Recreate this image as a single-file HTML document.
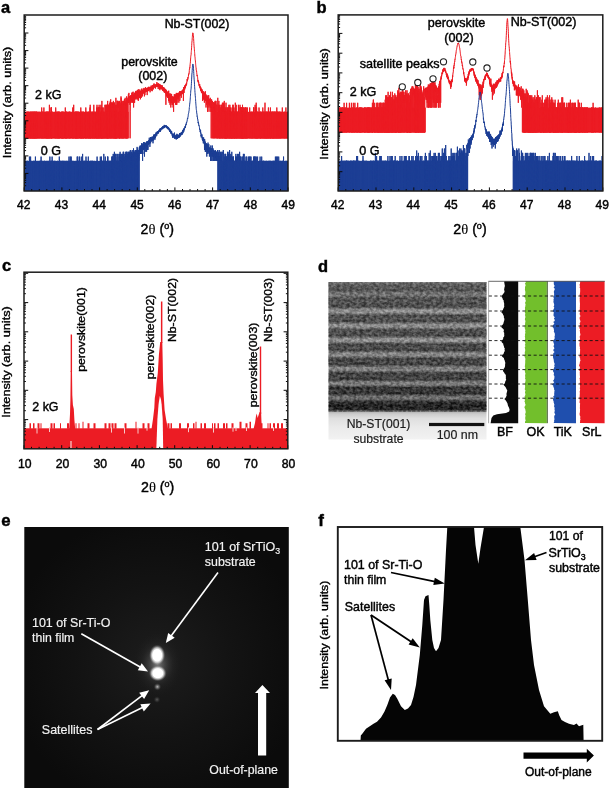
<!DOCTYPE html>
<html lang="en"><head><meta charset="utf-8"><title>Figure</title><style>html,body{margin:0;padding:0;background:#fff}svg{display:block}</style></head><body>
<svg width="611" height="791" viewBox="0 0 611 791" font-family='"Liberation Sans", Arial, sans-serif' font-size="12" fill="#000"><style>text{stroke:#000;stroke-width:0.42px}</style>
<rect width="611" height="791" fill="#fff"/>
<g id="pa">
<clipPath id="ca"><rect x="24.2" y="15" width="263.8" height="176"/></clipPath>
<g clip-path="url(#ca)">
<path d="M127.7 96.6L128 96.5L128.4 96.4L128.7 96.2L129 96.1L129.4 96L129.7 95.9L130 95.8L130.3 95.6L130.7 95.5L131 95.4L131.3 95.3L131.7 95.1L132 95L132.3 94.8L132.7 94.7L133 94.5L133.3 94.4L133.6 94.2L134 94.1L134.3 93.9L134.6 93.7L135 93.5L135.3 93.4L135.6 93.2L136 93L136.3 92.8L136.6 92.7L136.9 92.5L137.3 92.3L137.6 92.1L137.9 91.9L138.3 91.7L138.6 91.6L138.9 91.4L139.3 91.2L139.6 91L139.9 90.9L140.2 90.7L140.6 90.5L140.9 90.4L141.2 90.2L141.6 90L141.9 89.9L142.2 89.7L142.6 89.6L142.9 89.5L143.2 89.3L143.5 89.2L143.9 89.1L144.2 89L144.5 88.9L144.9 88.8L145.2 88.7L145.5 88.5L145.9 88.4L146.2 88.3L146.5 88.2L146.8 88.1L147.2 88L147.5 87.9L147.8 87.8L148.2 87.7L148.5 87.6L148.8 87.5L149.2 87.4L149.5 87.3L149.8 87.2L150.1 87.1L150.5 86.9L150.8 86.8L151.1 86.7L151.5 86.6L151.8 86.4L152.1 86.2L152.5 86.1L152.8 85.9L153.1 85.7L153.4 85.5L153.8 85.4L154.1 85.2L154.4 85L154.8 84.8L155.1 84.7L155.4 84.5L155.8 84.4L156.1 84.3L156.4 84.2L156.7 84.1L157.1 84L157.4 84L157.7 84L158.1 84L158.4 84.1L158.7 84.2L159.1 84.3L159.4 84.5L159.7 84.6L160 84.8L160.4 85L160.7 85.3L161 85.5L161.4 85.7L161.7 86L162 86.3L162.4 86.5L162.7 86.8L163 87L163.3 87.3L163.7 87.6L164 87.9L164.3 88.3L164.7 88.6L165 89L165.3 89.4L165.7 89.8L166 90.3L166.3 90.7L166.6 91.1L167 91.5L167.3 91.9L167.6 92.2L168 92.6L168.3 93L168.6 93.3L169 93.6L169.3 94L169.6 94.4L169.9 94.7L170.3 95.1L170.6 95.4L170.9 95.8L171.3 96L171.6 96.3L171.9 96.5L172.3 96.6L172.6 96.7L172.9 96.7L173.2 96.5L173.6 96.4L173.9 96.1L174.2 95.9L174.6 95.6L174.9 95.4L175.2 95L175.6 94.7L175.9 94.4L176.2 94.1L176.5 93.8L176.9 93.6L177.2 93.3L177.5 93.1L177.9 92.9L178.2 92.7L178.5 92.5L178.9 92.3L179.2 92.1L179.5 91.9L179.8 91.7L180.2 91.5L180.5 91.3L180.8 91.1L181.2 90.8L181.5 90.6L181.8 90.3L182.2 90L182.5 89.6L182.8 89.3L183.1 88.9L183.5 88.4L183.8 87.9L184.1 87.4L184.5 86.8L184.8 86.1L185.1 85.4L185.5 84.7L185.8 83.9L186.1 83.1L186.4 82.2L186.8 81.3L187.1 80.4L187.4 79.3L187.8 78.1L188.1 76.8L188.4 75.3L188.8 73.6L189.1 71.8L189.4 69.7L189.7 67.3L190.1 64.3L190.4 60.8L190.7 57.1L191.1 53.4L191.4 49.7L191.7 45L192.1 40L192.4 35.5L192.7 32.7L193 32.6L193.4 35.2L193.7 39.5L194 44.6L194.4 49.3L194.7 53L195 56.7L195.4 60.3L195.7 63.7L196 66.8L196.3 69.5L196.7 72L197 74.2L197.3 76.3L197.7 78.2L198 79.9L198.3 81.3L198.7 82.4L199 83.4L199.3 84.4L199.6 85.2L200 86L200.3 86.8L200.6 87.5L201 88.1L201.3 88.7L201.6 89.3L202 89.8L202.3 90.3L202.6 90.8L202.9 91.3L203.3 91.8L203.6 92.2L203.9 92.7L204.3 93.1L204.6 93.5L204.9 93.9L205.3 94.2L205.6 94.6L205.9 94.9L206.2 95.3L206.6 95.6L206.9 95.9L207.2 96.2L207.6 96.6L207.9 96.9L208.2 97.3L208.6 97.7L208.9 98L209.2 98.4L209.5 98.8L209.9 99.1L210.2 99.5L210.5 99.8L210.9 100.2L211.2 100.5L211.5 100.8L211.9 101L212.2 101.3L212.5 101.5L212.8 101.7L213.2 101.9L213.5 102L213.8 102.2L214.2 102.3L214.5 102.4L214.8 102.5L215.2 102.6L215.2 109.6L214.8 109.5L214.5 109.4L214.2 109.3L213.8 109.2L213.5 109L213.2 108.9L212.8 108.7L212.5 108.5L212.2 108.3L211.9 108L211.5 107.8L211.2 107.5L210.9 107.2L210.5 106.8L210.2 106.5L209.9 106.1L209.5 105.8L209.2 105.4L208.9 105L208.6 104.7L208.2 104.2L207.9 103.8L207.6 103.3L207.2 102.9L206.9 102.4L206.6 101.9L206.2 101.4L205.9 101L205.6 100.4L205.3 99.9L204.9 99.4L204.6 98.9L204.3 98.3L203.9 97.7L203.6 97.1L203.3 96.5L202.9 95.8L202.6 95.2L202.3 94.5L202 93.9L201.6 93.2L201.3 92.4L201 91.7L200.6 90.9L200.3 90L200 89.1L199.6 88.1L199.3 87.1L199 86L198.7 84.8L198.3 83.5L198 81.8L197.7 79.9L197.3 77.8L197 75.6L196.7 73.1L196.3 70.6L196 67.9L195.7 64.8L195.4 61.4L195 57.8L194.7 54.1L194.4 50.4L194 45.7L193.7 40.6L193.4 36.3L193 33.7L192.7 33.8L192.4 36.6L192.1 41.1L191.7 46.1L191.4 50.8L191.1 54.5L190.7 58.2L190.4 61.9L190.1 65.4L189.7 68.4L189.4 70.8L189.1 72.9L188.8 74.9L188.4 76.8L188.1 78.4L187.8 79.9L187.4 81.2L187.1 82.4L186.8 83.5L186.4 84.6L186.1 85.6L185.8 86.6L185.5 87.5L185.1 88.4L184.8 89.2L184.5 90L184.1 90.7L183.8 91.4L183.5 92.1L183.1 92.6L182.8 93.2L182.5 93.6L182.2 94.1L181.8 94.5L181.5 94.8L181.2 95.2L180.8 95.5L180.5 95.8L180.2 96.1L179.8 96.4L179.5 96.7L179.2 96.9L178.9 97.2L178.5 97.5L178.2 97.8L177.9 98L177.5 98.3L177.2 98.6L176.9 99L176.5 99.4L176.2 99.8L175.9 100.2L175.6 100.7L175.2 101.1L174.9 101.6L174.6 102L174.2 102.4L173.9 102.8L173.6 103.1L173.2 103.3L172.9 103.4L172.6 103.5L172.3 103.4L171.9 103.2L171.6 103L171.3 102.6L170.9 102.2L170.6 101.7L170.3 101.2L169.9 100.6L169.6 100.1L169.3 99.6L169 99L168.6 98.6L168.3 98.1L168 97.6L167.6 97.1L167.3 96.6L167 96.1L166.6 95.5L166.3 95L166 94.4L165.7 93.9L165.3 93.4L165 92.9L164.7 92.4L164.3 91.9L164 91.5L163.7 91L163.3 90.7L163 90.3L162.7 90L162.4 89.7L162 89.4L161.7 89.1L161.4 88.8L161 88.5L160.7 88.2L160.4 87.9L160 87.6L159.7 87.4L159.4 87.2L159.1 87L158.7 86.9L158.4 86.8L158.1 86.7L157.7 86.7L157.4 86.7L157.1 86.7L156.7 86.8L156.4 86.9L156.1 87L155.8 87.1L155.4 87.3L155.1 87.5L154.8 87.7L154.4 87.9L154.1 88.1L153.8 88.3L153.4 88.5L153.1 88.7L152.8 88.9L152.5 89.2L152.1 89.4L151.8 89.6L151.5 89.8L151.1 89.9L150.8 90.1L150.5 90.2L150.1 90.4L149.8 90.5L149.5 90.7L149.2 90.8L148.8 90.9L148.5 91.1L148.2 91.2L147.8 91.3L147.5 91.5L147.2 91.6L146.8 91.7L146.5 91.8L146.2 92L145.9 92.1L145.5 92.2L145.2 92.4L144.9 92.5L144.5 92.7L144.2 92.8L143.9 93L143.5 93.1L143.2 93.3L142.9 93.4L142.6 93.6L142.2 93.8L141.9 94L141.6 94.2L141.2 94.4L140.9 94.6L140.6 94.8L140.2 95L139.9 95.2L139.6 95.5L139.3 95.7L138.9 95.9L138.6 96.2L138.3 96.4L137.9 96.7L137.6 96.9L137.3 97.2L136.9 97.4L136.6 97.7L136.3 97.9L136 98.2L135.6 98.4L135.3 98.7L135 98.9L134.6 99.2L134.3 99.4L134 99.7L133.6 99.9L133.3 100.1L133 100.4L132.7 100.6L132.3 100.8L132 101L131.7 101.2L131.3 101.4L131 101.6L130.7 101.8L130.3 102L130 102.2L129.7 102.4L129.4 102.5L129 102.7L128.7 102.9L128.4 103.1L128 103.2L127.7 103.4z" fill="#ec1c24"/>
<rect x="19.2" y="111.8" width="109.5" height="26.5" fill="#ec1c24"/>
<rect x="213.8" y="111.8" width="79.2" height="26.5" fill="#ec1c24"/>
<path d="M24.2 138.3L24.3 138.3L24.4 138.3L24.5 138.3L24.6 138.3L24.7 111.8L24.9 138.3L25 138.3L25.1 138.3L25.2 138.3L25.3 138.3L25.4 138.3L25.5 138.3L25.6 138.3L25.7 138.3L25.8 138.3L26 138.3L26.1 138.3L26.2 138.3L26.3 138.3L26.4 138.3L26.5 111.8L26.6 138.3L26.7 138.3L26.8 138.3L26.9 138.3L27.1 138.3L27.2 138.3L27.3 138.3L27.4 138.3L27.5 138.3L27.6 111.8L27.7 138.3L27.8 111.8L27.9 111.8L28 111.8L28.2 138.3L28.3 138.3L28.4 111.8L28.5 138.3L28.6 138.3L28.7 138.3L28.8 138.3L28.9 138.3L29 111.8L29.1 111.8L29.3 138.3L29.4 138.3L29.5 138.3L29.6 138.3L29.7 138.3L29.8 138.3L29.9 138.3L30 138.3L30.1 111.8L30.2 138.3L30.4 138.3L30.5 111.8L30.6 138.3L30.7 138.3L30.8 138.3L30.9 138.3L31 138.3L31.1 111.8L31.2 138.3L31.3 111.8L31.5 138.3L31.6 138.3L31.7 138.3L31.8 138.3L31.9 138.3L32 111.8L32.1 138.3L32.2 138.3L32.3 111.8L32.4 138.3L32.6 138.3L32.7 138.3L32.8 111.8L32.9 138.3L33 138.3L33.1 111.8L33.2 138.3L33.3 138.3L33.4 138.3L33.5 138.3L33.7 111.8L33.8 138.3L33.9 138.3L34 111.8L34.1 138.3L34.2 138.3L34.3 111.8L34.4 138.3L34.5 111.8L34.6 138.3L34.8 138.3L34.9 138.3L35 138.3L35.1 138.3L35.2 138.3L35.3 111.8L35.4 138.3L35.5 138.3L35.6 111.8L35.7 138.3L35.9 138.3L36 111.8L36.1 138.3L36.2 138.3L36.3 138.3L36.4 111.8L36.5 138.3L36.6 138.3L36.7 111.8L36.8 111.8L37 138.3L37.1 138.3L37.2 111.8L37.3 138.3L37.4 138.3L37.5 138.3L37.6 138.3L37.7 138.3L37.8 138.3L37.9 138.3L38.1 138.3L38.2 138.3L38.3 138.3L38.4 111.8L38.5 138.3L38.6 138.3L38.7 138.3L38.8 138.3L38.9 138.3L39 138.3L39.2 138.3L39.3 138.3L39.4 138.3L39.5 138.3L39.6 111.8L39.7 138.3L39.8 138.3L39.9 138.3L40 138.3L40.1 138.3L40.3 138.3L40.4 138.3L40.5 138.3L40.6 138.3L40.7 138.3L40.8 138.3L40.9 138.3L41 111.8L41.1 111.8L41.2 138.3L41.4 138.3L41.5 138.3L41.6 138.3L41.7 107.5L41.8 138.3L41.9 138.3L42 138.3L42.1 138.3L42.2 138.3L42.3 111.8L42.5 111.8L42.6 138.3L42.7 111.8L42.8 138.3L42.9 138.3L43 138.3L43.1 138.3L43.2 138.3L43.3 138.3L43.4 138.3L43.6 111.8L43.7 138.3L43.8 138.3L43.9 107.5L44 138.3L44.1 138.3L44.2 138.3L44.3 138.3L44.4 138.3L44.5 138.3L44.7 138.3L44.8 138.3L44.9 138.3L45 138.3L45.1 138.3L45.2 138.3L45.3 111.8L45.4 138.3L45.5 138.3L45.6 138.3L45.8 138.3L45.9 138.3L46 138.3L46.1 138.3L46.2 111.8L46.3 138.3L46.4 138.3L46.5 111.8L46.6 138.3L46.7 138.3L46.9 138.3L47 111.8L47.1 138.3L47.2 111.8L47.3 138.3L47.4 138.3L47.5 111.8L47.6 138.3L47.7 138.3L47.8 138.3L48 111.8L48.1 138.3L48.2 138.3L48.3 138.3L48.4 138.3L48.5 111.8L48.6 138.3L48.7 138.3L48.8 111.8L48.9 138.3L49.1 138.3L49.2 138.3L49.3 138.3L49.4 104.8L49.5 138.3L49.6 138.3L49.7 138.3L49.8 111.8L49.9 138.3L50 138.3L50.2 138.3L50.3 138.3L50.4 138.3L50.5 138.3L50.6 138.3L50.7 138.3L50.8 138.3L50.9 138.3L51 107.5L51.1 138.3L51.3 107.5L51.4 138.3L51.5 107.5L51.6 138.3L51.7 111.8L51.8 138.3L51.9 138.3L52 138.3L52.1 111.8L52.2 111.8L52.4 111.8L52.5 138.3L52.6 138.3L52.7 138.3L52.8 138.3L52.9 138.3L53 138.3L53.1 138.3L53.2 138.3L53.3 138.3L53.5 138.3L53.6 138.3L53.7 138.3L53.8 138.3L53.9 138.3L54 138.3L54.1 138.3L54.2 138.3L54.3 138.3L54.4 138.3L54.6 138.3L54.7 138.3L54.8 138.3L54.9 138.3L55 138.3L55.1 138.3L55.2 111.8L55.3 138.3L55.4 138.3L55.5 138.3L55.7 107.5L55.8 111.8L55.9 138.3L56 138.3L56.1 111.8L56.2 138.3L56.3 138.3L56.4 138.3L56.5 138.3L56.6 138.3L56.8 111.8L56.9 138.3L57 138.3L57.1 138.3L57.2 138.3L57.3 138.3L57.4 138.3L57.5 138.3L57.6 111.8L57.7 138.3L57.9 111.8L58 138.3L58.1 138.3L58.2 111.8L58.3 111.8L58.4 111.8L58.5 138.3L58.6 111.8L58.7 138.3L58.8 138.3L59 138.3L59.1 138.3L59.2 138.3L59.3 138.3L59.4 111.8L59.5 138.3L59.6 138.3L59.7 111.8L59.8 138.3L59.9 138.3L60.1 138.3L60.2 138.3L60.3 138.3L60.4 138.3L60.5 138.3L60.6 138.3L60.7 138.3L60.8 138.3L60.9 138.3L61 138.3L61.2 138.3L61.3 138.3L61.4 138.3L61.5 111.8L61.6 138.3L61.7 138.3L61.8 138.3L61.9 111.8L62 138.3L62.1 111.8L62.3 138.3L62.4 138.3L62.5 138.3L62.6 138.3L62.7 111.8L62.8 138.3L62.9 111.8L63 138.3L63.1 111.8L63.2 138.3L63.4 138.3L63.5 138.3L63.6 138.3L63.7 138.3L63.8 111.8L63.9 138.3L64 138.3L64.1 138.3L64.2 138.3L64.3 138.3L64.5 138.3L64.6 138.3L64.7 138.3L64.8 138.3L64.9 138.3L65 138.3L65.1 138.3L65.2 138.3L65.3 107.5L65.4 138.3L65.6 111.8L65.7 138.3L65.8 138.3L65.9 111.8L66 138.3L66.1 138.3L66.2 138.3L66.3 111.8L66.4 138.3L66.5 111.8L66.7 138.3L66.8 138.3L66.9 138.3L67 138.3L67.1 138.3L67.2 111.8L67.3 138.3L67.4 138.3L67.5 138.3L67.6 138.3L67.8 138.3L67.9 138.3L68 138.3L68.1 138.3L68.2 138.3L68.3 138.3L68.4 138.3L68.5 138.3L68.6 138.3L68.7 111.8L68.9 138.3L69 138.3L69.1 138.3L69.2 138.3L69.3 111.8L69.4 138.3L69.5 138.3L69.6 138.3L69.7 111.8L69.8 111.8L70 138.3L70.1 111.8L70.2 138.3L70.3 138.3L70.4 138.3L70.5 138.3L70.6 138.3L70.7 138.3L70.8 138.3L70.9 138.3L71.1 138.3L71.2 138.3L71.3 138.3L71.4 138.3L71.5 138.3L71.6 138.3L71.7 138.3L71.8 138.3L71.9 138.3L72 138.3L72.2 138.3L72.3 111.8L72.4 138.3L72.5 138.3L72.6 138.3L72.7 138.3L72.8 107.5L72.9 138.3L73 138.3L73.1 138.3L73.3 111.8L73.4 107.5L73.5 138.3L73.6 138.3L73.7 104.8L73.8 138.3L73.9 138.3L74 138.3L74.1 138.3L74.2 138.3L74.4 138.3L74.5 138.3L74.6 138.3L74.7 138.3L74.8 111.8L74.9 138.3L75 138.3L75.1 138.3L75.2 138.3L75.3 138.3L75.5 138.3L75.6 111.8L75.7 138.3L75.8 111.8L75.9 138.3L76 111.8L76.1 138.3L76.2 111.8L76.3 138.3L76.4 138.3L76.6 138.3L76.7 111.8L76.8 111.8L76.9 138.3L77 138.3L77.1 138.3L77.2 111.8L77.3 138.3L77.4 111.8L77.5 138.3L77.7 138.3L77.8 138.3L77.9 111.8L78 111.8L78.1 138.3L78.2 138.3L78.3 138.3L78.4 138.3L78.5 138.3L78.6 111.8L78.8 138.3L78.9 111.8L79 138.3L79.1 138.3L79.2 138.3L79.3 138.3L79.4 138.3L79.5 138.3L79.6 138.3L79.7 138.3L79.9 138.3L80 138.3L80.1 138.3L80.2 138.3L80.3 138.3L80.4 138.3L80.5 138.3L80.6 111.8L80.7 138.3L80.8 107.5L81 138.3L81.1 138.3L81.2 111.8L81.3 138.3L81.4 111.8L81.5 138.3L81.6 138.3L81.7 138.3L81.8 138.3L81.9 138.3L82.1 138.3L82.2 138.3L82.3 111.8L82.4 138.3L82.5 138.3L82.6 138.3L82.7 111.8L82.8 138.3L82.9 138.3L83 138.3L83.2 138.3L83.3 138.3L83.4 111.8L83.5 138.3L83.6 111.8L83.7 138.3L83.8 138.3L83.9 138.3L84 138.3L84.1 138.3L84.3 138.3L84.4 138.3L84.5 138.3L84.6 138.3L84.7 138.3L84.8 138.3L84.9 138.3L85 138.3L85.1 138.3L85.2 138.3L85.4 138.3L85.5 111.8L85.6 138.3L85.7 138.3L85.8 107.5L85.9 111.8L86 138.3L86.1 111.8L86.2 138.3L86.3 111.8L86.5 138.3L86.6 138.3L86.7 138.3L86.8 138.3L86.9 138.3L87 138.3L87.1 138.3L87.2 138.3L87.3 138.3L87.4 138.3L87.6 138.3L87.7 138.3L87.8 138.3L87.9 138.3L88 111.8L88.1 138.3L88.2 111.8L88.3 138.3L88.4 138.3L88.5 138.3L88.7 138.3L88.8 111.8L88.9 138.3L89 138.3L89.1 138.3L89.2 138.3L89.3 138.3L89.4 111.8L89.5 111.8L89.6 138.3L89.8 111.8L89.9 111.8L90 107.5L90.1 138.3L90.2 104.8L90.3 138.3L90.4 138.3L90.5 111.8L90.6 138.3L90.7 111.8L90.9 138.3L91 138.3L91.1 138.3L91.2 138.3L91.3 138.3L91.4 111.8L91.5 111.8L91.6 138.3L91.7 138.3L91.8 138.3L92 138.3L92.1 138.3L92.2 138.3L92.3 138.3L92.4 138.3L92.5 138.3L92.6 111.8L92.7 138.3L92.8 111.8L92.9 138.3L93.1 138.3L93.2 138.3L93.3 111.8L93.4 111.8L93.5 138.3L93.6 138.3L93.7 138.3L93.8 104.8L93.9 111.8L94 138.3L94.2 138.3L94.3 138.3L94.4 138.3L94.5 111.8L94.6 138.3L94.7 138.3L94.8 138.3L94.9 138.3L95 111.8L95.1 138.3L95.3 138.3L95.4 138.3L95.5 138.3L95.6 138.3L95.7 138.3L95.8 138.3L95.9 138.3L96 138.3L96.1 111.8L96.2 138.3L96.4 111.8L96.5 138.3L96.6 138.3L96.7 107.5L96.8 111.8L96.9 138.3L97 104.8L97.1 138.3L97.2 111.8L97.3 138.3L97.5 138.3L97.6 138.3L97.7 138.3L97.8 107.5L97.9 138.3L98 138.3L98.1 138.3L98.2 111.8L98.3 111.8L98.4 107.5L98.6 138.3L98.7 107.5L98.8 138.3L98.9 138.3L99 138.3L99.1 104.8L99.2 138.3L99.3 111.8L99.4 107.5L99.5 138.3L99.7 138.3L99.8 111.8L99.9 107.5L100 138.3L100.1 138.3L100.2 138.3L100.3 138.3L100.4 138.3L100.5 111.8L100.6 111.8L100.8 138.3L100.9 104.8L101 111.8L101.1 111.8L101.2 138.3L101.3 107.5L101.4 138.3L101.5 111.8L101.6 138.3L101.7 138.3L101.9 100.9L102 111.8L102.1 138.3L102.2 138.3L102.3 111.8L102.4 138.3L102.5 138.3L102.6 107.5L102.7 138.3L102.8 138.3L103 138.3L103.1 138.3L103.2 138.3L103.3 138.3L103.4 111.8L103.5 111.8L103.6 111.8L103.7 138.3L103.8 107.5L103.9 138.3L104.1 138.3L104.2 111.8L104.3 138.3L104.4 138.3L104.5 138.3L104.6 138.3L104.7 138.3L104.8 138.3L104.9 104.8L105 107.5L105.2 107.5L105.3 138.3L105.4 138.3L105.5 138.3L105.6 138.3L105.7 104.8L105.8 111.8L105.9 138.3L106 138.3L106.1 107.5L106.3 138.3L106.4 138.3L106.5 138.3L106.6 104.8L106.7 111.8L106.8 107.5L106.9 138.3L107 104.8L107.1 138.3L107.2 138.3L107.4 111.8L107.5 138.3L107.6 102.7L107.7 100.9L107.8 138.3L107.9 138.3L108 104.8L108.1 111.8L108.2 138.3L108.3 107.5L108.5 138.3L108.6 111.8L108.7 104.8L108.8 104.8L108.9 138.3L109 138.3L109.1 104.8L109.2 111.8L109.3 111.8L109.4 104.8L109.6 107.5L109.7 138.3L109.8 102.7L109.9 138.3L110 138.3L110.1 138.3L110.2 111.8L110.3 100.9L110.4 138.3L110.5 104.8L110.7 99.3L110.8 138.3L110.9 111.8L111 104.8L111.1 102.7L111.2 111.8L111.3 107.5L111.4 102.7L111.5 138.3L111.6 111.8L111.8 102.7L111.9 138.3L112 138.3L112.1 138.3L112.2 102.7L112.3 138.3L112.4 138.3L112.5 107.5L112.6 102.7L112.7 104.8L112.9 107.5L113 111.8L113.1 138.3L113.2 102.7L113.3 107.5L113.4 100.9L113.5 107.5L113.6 138.3L113.7 102.7L113.8 138.3L114 102.7L114.1 102.7L114.2 138.3L114.3 104.8L114.4 107.5L114.5 102.7L114.6 138.3L114.7 138.3L114.8 107.5L114.9 138.3L115.1 104.8L115.2 111.8L115.3 138.3L115.4 111.8L115.5 138.3L115.6 104.8L115.7 138.3L115.8 104.8L115.9 97.8L116 104.8L116.2 138.3L116.3 104.8L116.4 138.3L116.5 107.5L116.6 138.3L116.7 138.3L116.8 138.3L116.9 107.5L117 107.5L117.1 100.9L117.3 138.3L117.4 107.5L117.5 100.9L117.6 107.5L117.7 104.8L117.8 100.9L117.9 138.3L118 138.3L118.1 100.9L118.2 107.5L118.4 104.8L118.5 107.5L118.6 102.7L118.7 102.7L118.8 138.3L118.9 138.3L119 102.7L119.1 104.8L119.2 102.7L119.3 138.3L119.5 100.9L119.6 138.3L119.7 104.8L119.8 138.3L119.9 138.3L120 138.3L120.1 102.7L120.2 102.7L120.3 111.8L120.4 138.3L120.6 104.8L120.7 104.8L120.8 104.8L120.9 107.5L121 96.4L121.1 138.3L121.2 111.8L121.3 97.8L121.4 111.8L121.5 138.3L121.7 138.3L121.8 100.9L121.9 102.7L122 107.5L122.1 104.8L122.2 102.7L122.3 138.3L122.4 104.8L122.5 138.3L122.6 138.3L122.8 104.8L122.9 100.9L123 138.3L123.1 138.3L123.2 138.3L123.3 138.3L123.4 102.7L123.5 100.9L123.6 102.7L123.7 138.3L123.9 107.5L124 104.8L124.1 102.7L124.2 138.3L124.3 104.8L124.4 99.3L124.5 104.8L124.6 104.8L124.7 102.7L124.8 99.3L125 138.3L125.1 99.3L125.2 97.8L125.3 107.5L125.4 111.8L125.5 107.5L125.6 102.7L125.7 138.3L125.8 102.7L125.9 102.7L126.1 138.3L126.2 100.9L126.3 138.3L126.4 138.3L126.5 99.3L126.6 96.4L126.7 104.8L126.8 138.3L126.9 138.3L127 138.3L127.2 99.3L127.3 138.3L127.4 138.3L127.5 100.9L127.6 104.8L127.7 99.3L127.8 99.3L127.9 97.8L128 138.3L128.1 99.3L128.3 99.3L128.4 94.2L128.5 102.7L128.6 100.9L128.7 97.8L128.8 102.7L128.9 92.9L129 102.7L129.1 102.7L129.2 97.8L129.4 100.9L129.5 100.9L129.6 97.8L129.7 97.8L129.8 102.7L129.9 104.8L130 102.7L130.1 138.3L130.2 111.8L130.3 104.8L130.5 99.3L130.6 100.9L130.7 100.9L130.8 102.7L130.9 99.3L131 95.1L131.1 102.7L131.2 95.1L131.3 99.3L131.4 97.8L131.6 99.3L131.7 96.4L131.8 97.8L131.9 92.9L132 97.8L132.1 99.3L132.2 92.3L132.3 97.8L132.4 102.7L132.5 100.9L132.7 96.4L132.8 96.4L132.9 100.9L133 100.9L133.1 91.7L133.2 100.9L133.3 102.7L133.4 95.1L133.5 102.7L133.6 107.5L133.8 97.8L133.9 95.1L134 100.9L134.1 97.8L134.2 97.8L134.3 92.9L134.4 102.7L134.5 93.5L134.6 102.7L134.7 97.8L134.9 96.4L135 97.8L135.1 92.9L135.2 92.3L135.3 92.9L135.4 99.3L135.5 94.2L135.6 91.2L135.7 95.1L135.8 97.8L136 92.3L136.1 99.3L136.2 93.5L136.3 90.7L136.4 97.8L136.5 94.2L136.6 93.5L136.7 96.4L136.8 92.3L136.9 91.7L137.1 99.3L137.2 92.9L137.3 92.9L137.4 97.8L137.5 99.3L137.6 97.8L137.7 89.8L137.8 92.9L137.9 92.9L138 95.1L138.2 90.7L138.3 100.9L138.4 91.2L138.5 99.3L138.6 91.2L138.7 97.8L138.8 96.4L138.9 89L139 95.1L139.1 92.9L139.3 90.2L139.4 92.9L139.5 92.9L139.6 97.8L139.7 94.2L139.8 91.7L139.9 97.8L140 91.7L140.1 91.2L140.2 92.3L140.4 99.3L140.5 91.2L140.6 92.3L140.7 92.9L140.8 91.2L140.9 94.2L141 91.2L141.1 89.8L141.2 89.4L141.3 97.8L141.5 91.2L141.6 90.2L141.7 88.6L141.8 92.3L141.9 92.3L142 92.3L142.1 93.5L142.2 92.3L142.3 96.4L142.4 96.4L142.6 92.9L142.7 93.5L142.8 91.2L142.9 93.5L143 90.7L143.1 92.3L143.2 88.6L143.3 89L143.4 90.7L143.5 90.2L143.7 89.8L143.8 92.3L143.9 91.7L144 87.9L144.1 94.2L144.2 89.8L144.3 88.6L144.4 96.4L144.5 92.3L144.6 89L144.8 91.2L144.9 95.1L145 91.2L145.1 91.7L145.2 92.3L145.3 90.2L145.4 89L145.5 87L145.6 87.9L145.7 89.4L145.9 90.7L146 89.4L146.1 89.8L146.2 91.7L146.3 91.7L146.4 89.8L146.5 90.7L146.6 88.6L146.7 89.4L146.8 87.9L147 90.2L147.1 91.2L147.2 95.1L147.3 90.2L147.4 90.2L147.5 87.6L147.6 90.2L147.7 89L147.8 91.2L147.9 91.2L148.1 88.6L148.2 90.7L148.3 88.6L148.4 90.7L148.5 87L148.6 90.2L148.7 88.2L148.8 88.2L148.9 86.7L149 87.6L149.2 89.4L149.3 88.6L149.4 89.4L149.5 89.4L149.6 87.6L149.7 87.3L149.8 89L149.9 89.4L150 89L150.1 92.3L150.3 87L150.4 87.6L150.5 87.9L150.6 88.6L150.7 89.8L150.8 89L150.9 87.9L151 86.7L151.1 85.6L151.2 87.9L151.4 86.4L151.5 89L151.6 87.9L151.7 90.7L151.8 87.6L151.9 87.9L152 88.2L152.1 85.6L152.2 91.2L152.3 87.6L152.5 85.4L152.6 87.6L152.7 87.3L152.8 85.4L152.9 86.4L153 87.9L153.1 84.9L153.2 88.2L153.3 86.7L153.4 89.4L153.6 85.9L153.7 86.7L153.8 86.1L153.9 83.7L154 85.2L154.1 87L154.2 83.7L154.3 86.1L154.4 85.9L154.5 86.7L154.7 85.2L154.8 87L154.9 86.4L155 85.9L155.1 86.1L155.2 85.2L155.3 87.6L155.4 88.6L155.5 85.9L155.6 87.9L155.8 84.5L155.9 84.3L156 84.5L156.1 84.9L156.2 84.1L156.3 85.2L156.4 84.9L156.5 86.7L156.6 86.1L156.7 84.5L156.9 82L157 86.4L157.1 84.7L157.2 87L157.3 85.4L157.4 84.9L157.5 84.3L157.6 84.3L157.7 83.9L157.8 86.4L158 83.3L158.1 83.1L158.2 89L158.3 83.5L158.4 84.5L158.5 85.6L158.6 85.6L158.7 86.1L158.8 85.2L158.9 86.4L159.1 86.1L159.2 85.2L159.3 89.4L159.4 85.2L159.5 85.6L159.6 83.9L159.7 87.6L159.8 84.9L159.9 90.2L160 86.4L160.2 89L160.3 86.4L160.4 84.7L160.5 84.7L160.6 85.9L160.7 85.9L160.8 87.9L160.9 88.2L161 85.9L161.1 87.6L161.3 88.6L161.4 85.2L161.5 87.9L161.6 89L161.7 89L161.8 89L161.9 87.9L162 87L162.1 89.8L162.2 89L162.4 85.4L162.5 90.7L162.6 87.6L162.7 88.6L162.8 87L162.9 88.6L163 87.9L163.1 89.8L163.2 90.2L163.3 89.4L163.5 91.2L163.6 87L163.7 89.8L163.8 87.3L163.9 91.2L164 89.4L164.1 92.3L164.2 92.3L164.3 90.2L164.4 88.6L164.6 89.4L164.7 88.2L164.8 92.9L164.9 90.2L165 90.2L165.1 91.2L165.2 91.7L165.3 92.3L165.4 91.7L165.5 89L165.7 92.3L165.8 91.2L165.9 104.8L166 92.3L166.1 92.9L166.2 92.9L166.3 89.8L166.4 94.2L166.5 96.4L166.6 91.7L166.8 91.7L166.9 94.2L167 93.5L167.1 91.7L167.2 96.4L167.3 93.5L167.4 95.1L167.5 93.5L167.6 97.8L167.7 93.5L167.9 96.4L168 92.9L168.1 91.2L168.2 91.7L168.3 97.8L168.4 92.9L168.5 97.8L168.6 100.9L168.7 90.7L168.8 95.1L169 95.1L169.1 102.7L169.2 94.2L169.3 97.8L169.4 97.8L169.5 100.9L169.6 93.5L169.7 100.9L169.8 96.4L169.9 104.8L170.1 104.8L170.2 104.8L170.3 99.3L170.4 100.9L170.5 97.8L170.6 99.3L170.7 93.5L170.8 107.5L170.9 99.3L171 102.7L171.2 99.3L171.3 99.3L171.4 94.2L171.5 100.9L171.6 94.2L171.7 99.3L171.8 102.7L171.9 102.7L172 104.8L172.1 102.7L172.3 99.3L172.4 100.9L172.5 96.4L172.6 97.8L172.7 100.9L172.8 104.8L172.9 100.9L173 99.3L173.1 107.5L173.2 102.7L173.4 104.8L173.5 104.8L173.6 111.8L173.7 99.3L173.8 100.9L173.9 99.3L174 97.8L174.1 99.3L174.2 100.9L174.3 94.2L174.5 99.3L174.6 102.7L174.7 96.4L174.8 100.9L174.9 100.9L175 99.3L175.1 97.8L175.2 94.2L175.3 99.3L175.4 102.7L175.6 104.8L175.7 102.7L175.8 99.3L175.9 99.3L176 100.9L176.1 97.8L176.2 102.7L176.3 92.9L176.4 102.7L176.5 104.8L176.7 99.3L176.8 104.8L176.9 96.4L177 102.7L177.1 95.1L177.2 93.5L177.3 99.3L177.4 94.2L177.5 96.4L177.6 96.4L177.8 95.1L177.9 96.4L178 92.9L178.1 97.8L178.2 95.1L178.3 99.3L178.4 96.4L178.5 93.5L178.6 96.4L178.7 100.9L178.9 102.7L179 96.4L179.1 96.4L179.2 93.5L179.3 94.2L179.4 95.1L179.5 93.5L179.6 91.2L179.7 96.4L179.8 100.9L180 99.3L180.1 92.3L180.2 94.2L180.3 92.9L180.4 91.2L180.5 94.2L180.6 95.1L180.7 95.1L180.8 92.9L180.9 91.2L181.1 92.3L181.2 95.1L181.3 97.8L181.4 95.1L181.5 94.2L181.6 92.9L181.7 91.2L181.8 91.7L181.9 92.3L182 93.5L182.2 92.3L182.3 92.9L182.4 92.3L182.5 93.5L182.6 91.2L182.7 91.2L182.8 94.2L182.9 89.8L183 92.9L183.1 91.7L183.3 91.2L183.4 100.9L183.5 92.3L183.6 87L183.7 87.3L183.8 87.9L183.9 88.2L184 90.7L184.1 92.9L184.2 89.4L184.4 88.6L184.5 88.2L184.6 88.2L184.7 85.9L184.8 89.4L184.9 87.3L185 85.2L185.1 87.9L185.2 86.4L185.3 87.6L185.5 84.9L185.6 86.7L185.7 85.9L185.8 84.5L185.9 85.9L186 85.4L186.1 84.7L186.2 85.2L186.3 83L186.4 83.1L186.6 84.5L186.7 83.9L186.8 82.3L186.9 81.8L187 81.8L187.1 80L187.2 79L187.3 80.9L187.4 79.3L187.5 78.9L187.7 79.9L187.8 79.8L187.9 77.3L188 78.4L188.1 77.6L188.2 77.3L188.3 76.6L188.4 76.5L188.5 74.9L188.6 74.1L188.8 74.5L188.9 74.5L189 73L189.1 73.3L189.2 72L189.3 70.4L189.4 69.2L189.5 69.4L189.6 69.2L189.7 67.5L189.9 67.9L190 66.2L190.1 64.3L190.2 63.5L190.3 63L190.4 61.9L190.5 60L190.6 59L190.7 57.8L190.8 56.4L191 55.3L191.1 54.3L191.2 52.6L191.3 51.6L191.4 50.4L191.5 49L191.6 47.2L191.7 45.7L191.8 43.8L191.9 42.2L192.1 40.4L192.2 38.9L192.3 37.5L192.4 36.2L192.5 34.9L192.6 33.9L192.7 33.1L192.8 32.9L192.9 32.9L193 33.1L193.2 33.7L193.3 34.6L193.4 35.7L193.5 37.1L193.6 38.5L193.7 40L193.8 41.6L193.9 43.5L194 45.2L194.1 46.8L194.3 48.3L194.4 49.8L194.5 51.3L194.6 52.3L194.7 53.4L194.8 55L194.9 56.3L195 57.2L195.1 58.4L195.2 59.5L195.4 60.9L195.5 62.2L195.6 63.3L195.7 64.7L195.8 65.7L195.9 66.6L196 67.6L196.1 67.9L196.2 69.9L196.3 70.1L196.5 71.2L196.6 71L196.7 72.4L196.8 73.6L196.9 73.6L197 74.8L197.1 76L197.2 75.2L197.3 76.5L197.4 76.4L197.6 77.4L197.7 78.4L197.8 79.5L197.9 81.4L198 80.1L198.1 81.3L198.2 81.1L198.3 82.5L198.4 80.9L198.5 81L198.7 82.8L198.8 82.6L198.9 83.5L199 84.3L199.1 85.4L199.2 85.9L199.3 84.1L199.4 86.4L199.5 86.1L199.6 84.7L199.8 84.3L199.9 87.6L200 87.9L200.1 87.6L200.2 86.4L200.3 86.4L200.4 89.4L200.5 89.4L200.6 90.7L200.7 90.2L200.9 89.4L201 87.6L201.1 90.7L201.2 89.4L201.3 89.8L201.4 92.3L201.5 89L201.6 92.9L201.7 89.8L201.8 89.4L202 89.8L202.1 89.4L202.2 92.9L202.3 91.7L202.4 90.7L202.5 91.7L202.6 100.9L202.7 95.1L202.8 96.4L202.9 97.8L203.1 99.3L203.2 94.2L203.3 91.2L203.4 99.3L203.5 95.1L203.6 99.3L203.7 92.9L203.8 95.1L203.9 95.1L204 96.4L204.2 95.1L204.3 100.9L204.4 102.7L204.5 95.1L204.6 99.3L204.7 99.3L204.8 92.3L204.9 96.4L205 94.2L205.1 97.8L205.3 91.2L205.4 97.8L205.5 97.8L205.6 94.2L205.7 100.9L205.8 94.2L205.9 100.9L206 107.5L206.1 104.8L206.2 99.3L206.4 100.9L206.5 96.4L206.6 99.3L206.7 104.8L206.8 102.7L206.9 96.4L207 95.1L207.1 97.8L207.2 96.4L207.3 100.9L207.5 111.8L207.6 99.3L207.7 102.7L207.8 100.9L207.9 97.8L208 102.7L208.1 107.5L208.2 100.9L208.3 99.3L208.4 99.3L208.6 102.7L208.7 95.1L208.8 102.7L208.9 100.9L209 111.8L209.1 102.7L209.2 100.9L209.3 102.7L209.4 104.8L209.5 99.3L209.7 102.7L209.8 104.8L209.9 102.7L210 100.9L210.1 107.5L210.2 102.7L210.3 97.8L210.4 107.5L210.5 107.5L210.6 107.5L210.8 104.8L210.9 111.8L211 107.5L211.1 107.5L211.2 138.3L211.3 107.5L211.4 111.8L211.5 102.7L211.6 99.3L211.7 107.5L211.9 111.8L212 104.8L212.1 107.5L212.2 138.3L212.3 111.8L212.4 107.5L212.5 100.9L212.6 107.5L212.7 111.8L212.8 102.7L213 138.3L213.1 111.8L213.2 111.8L213.3 138.3L213.4 138.3L213.5 107.5L213.6 104.8L213.7 104.8L213.8 107.5L213.9 102.7L214.1 107.5L214.2 111.8L214.3 107.5L214.4 138.3L214.5 111.8L214.6 111.8L214.7 104.8L214.8 111.8L214.9 111.8L215 100.9L215.2 104.8L215.3 138.3L215.4 102.7L215.5 111.8L215.6 104.8L215.7 100.9L215.8 111.8L215.9 100.9L216 102.7L216.1 104.8L216.3 104.8L216.4 111.8L216.5 138.3L216.6 138.3L216.7 104.8L216.8 104.8L216.9 104.8L217 104.8L217.1 111.8L217.2 138.3L217.4 138.3L217.5 138.3L217.6 111.8L217.7 102.7L217.8 97.8L217.9 138.3L218 138.3L218.1 138.3L218.2 138.3L218.3 138.3L218.5 104.8L218.6 111.8L218.7 107.5L218.8 111.8L218.9 100.9L219 138.3L219.1 138.3L219.2 138.3L219.3 138.3L219.4 107.5L219.6 104.8L219.7 138.3L219.8 111.8L219.9 107.5L220 138.3L220.1 138.3L220.2 111.8L220.3 138.3L220.4 138.3L220.5 138.3L220.7 138.3L220.8 107.5L220.9 111.8L221 104.8L221.1 104.8L221.2 111.8L221.3 104.8L221.4 138.3L221.5 138.3L221.6 138.3L221.8 138.3L221.9 138.3L222 138.3L222.1 107.5L222.2 138.3L222.3 138.3L222.4 102.7L222.5 111.8L222.6 138.3L222.7 138.3L222.9 138.3L223 138.3L223.1 138.3L223.2 107.5L223.3 107.5L223.4 111.8L223.5 102.7L223.6 138.3L223.7 111.8L223.8 111.8L224 138.3L224.1 107.5L224.2 104.8L224.3 100.9L224.4 111.8L224.5 104.8L224.6 138.3L224.7 107.5L224.8 138.3L224.9 111.8L225.1 138.3L225.2 138.3L225.3 111.8L225.4 138.3L225.5 138.3L225.6 107.5L225.7 138.3L225.8 138.3L225.9 138.3L226 102.7L226.2 138.3L226.3 138.3L226.4 111.8L226.5 138.3L226.6 138.3L226.7 111.8L226.8 138.3L226.9 107.5L227 107.5L227.1 138.3L227.3 107.5L227.4 111.8L227.5 111.8L227.6 138.3L227.7 138.3L227.8 138.3L227.9 138.3L228 111.8L228.1 107.5L228.2 107.5L228.4 138.3L228.5 107.5L228.6 138.3L228.7 138.3L228.8 111.8L228.9 104.8L229 138.3L229.1 138.3L229.2 138.3L229.3 138.3L229.5 138.3L229.6 107.5L229.7 138.3L229.8 111.8L229.9 104.8L230 111.8L230.1 138.3L230.2 138.3L230.3 111.8L230.4 107.5L230.6 138.3L230.7 138.3L230.8 138.3L230.9 111.8L231 138.3L231.1 138.3L231.2 111.8L231.3 138.3L231.4 111.8L231.5 138.3L231.7 138.3L231.8 138.3L231.9 138.3L232 107.5L232.1 138.3L232.2 138.3L232.3 111.8L232.4 138.3L232.5 138.3L232.6 107.5L232.8 138.3L232.9 104.8L233 107.5L233.1 104.8L233.2 111.8L233.3 138.3L233.4 138.3L233.5 107.5L233.6 107.5L233.7 138.3L233.9 138.3L234 111.8L234.1 138.3L234.2 138.3L234.3 138.3L234.4 111.8L234.5 138.3L234.6 138.3L234.7 111.8L234.8 138.3L235 107.5L235.1 138.3L235.2 138.3L235.3 102.7L235.4 107.5L235.5 138.3L235.6 138.3L235.7 138.3L235.8 138.3L235.9 138.3L236.1 138.3L236.2 104.8L236.3 107.5L236.4 138.3L236.5 138.3L236.6 111.8L236.7 138.3L236.8 111.8L236.9 111.8L237 138.3L237.2 111.8L237.3 138.3L237.4 138.3L237.5 111.8L237.6 111.8L237.7 111.8L237.8 138.3L237.9 138.3L238 138.3L238.1 138.3L238.3 138.3L238.4 104.8L238.5 138.3L238.6 138.3L238.7 138.3L238.8 111.8L238.9 107.5L239 111.8L239.1 138.3L239.2 138.3L239.4 138.3L239.5 138.3L239.6 138.3L239.7 138.3L239.8 111.8L239.9 138.3L240 104.8L240.1 138.3L240.2 107.5L240.3 107.5L240.5 111.8L240.6 107.5L240.7 138.3L240.8 107.5L240.9 138.3L241 138.3L241.1 107.5L241.2 138.3L241.3 138.3L241.4 138.3L241.6 107.5L241.7 107.5L241.8 138.3L241.9 111.8L242 138.3L242.1 107.5L242.2 138.3L242.3 111.8L242.4 138.3L242.5 104.8L242.7 138.3L242.8 138.3L242.9 111.8L243 138.3L243.1 138.3L243.2 107.5L243.3 138.3L243.4 111.8L243.5 138.3L243.6 107.5L243.8 111.8L243.9 138.3L244 138.3L244.1 111.8L244.2 138.3L244.3 138.3L244.4 138.3L244.5 138.3L244.6 111.8L244.7 107.5L244.9 138.3L245 138.3L245.1 111.8L245.2 138.3L245.3 138.3L245.4 107.5L245.5 138.3L245.6 138.3L245.7 138.3L245.8 107.5L246 138.3L246.1 111.8L246.2 107.5L246.3 138.3L246.4 138.3L246.5 138.3L246.6 138.3L246.7 111.8L246.8 138.3L246.9 111.8L247.1 111.8L247.2 138.3L247.3 111.8L247.4 107.5L247.5 138.3L247.6 138.3L247.7 138.3L247.8 138.3L247.9 138.3L248 138.3L248.2 138.3L248.3 138.3L248.4 138.3L248.5 138.3L248.6 138.3L248.7 138.3L248.8 138.3L248.9 138.3L249 138.3L249.1 138.3L249.3 138.3L249.4 138.3L249.5 138.3L249.6 138.3L249.7 107.5L249.8 138.3L249.9 138.3L250 138.3L250.1 138.3L250.2 138.3L250.4 138.3L250.5 138.3L250.6 138.3L250.7 111.8L250.8 111.8L250.9 138.3L251 138.3L251.1 138.3L251.2 138.3L251.3 138.3L251.5 111.8L251.6 138.3L251.7 138.3L251.8 138.3L251.9 111.8L252 138.3L252.1 138.3L252.2 138.3L252.3 138.3L252.4 138.3L252.6 138.3L252.7 138.3L252.8 138.3L252.9 111.8L253 138.3L253.1 138.3L253.2 111.8L253.3 111.8L253.4 138.3L253.5 107.5L253.7 111.8L253.8 107.5L253.9 111.8L254 138.3L254.1 138.3L254.2 138.3L254.3 138.3L254.4 138.3L254.5 138.3L254.6 138.3L254.8 138.3L254.9 138.3L255 138.3L255.1 104.8L255.2 138.3L255.3 138.3L255.4 107.5L255.5 138.3L255.6 138.3L255.7 111.8L255.9 107.5L256 111.8L256.1 138.3L256.2 102.7L256.3 138.3L256.4 138.3L256.5 138.3L256.6 107.5L256.7 138.3L256.8 111.8L257 111.8L257.1 138.3L257.2 111.8L257.3 138.3L257.4 138.3L257.5 138.3L257.6 138.3L257.7 111.8L257.8 138.3L257.9 138.3L258.1 111.8L258.2 138.3L258.3 138.3L258.4 138.3L258.5 138.3L258.6 138.3L258.7 138.3L258.8 138.3L258.9 138.3L259 107.5L259.2 111.8L259.3 138.3L259.4 138.3L259.5 138.3L259.6 138.3L259.7 138.3L259.8 111.8L259.9 138.3L260 138.3L260.1 138.3L260.3 138.3L260.4 111.8L260.5 138.3L260.6 138.3L260.7 111.8L260.8 138.3L260.9 138.3L261 138.3L261.1 111.8L261.2 138.3L261.4 138.3L261.5 138.3L261.6 138.3L261.7 138.3L261.8 138.3L261.9 138.3L262 138.3L262.1 138.3L262.2 111.8L262.3 138.3L262.5 138.3L262.6 138.3L262.7 138.3L262.8 107.5L262.9 138.3L263 138.3L263.1 138.3L263.2 138.3L263.3 138.3L263.4 111.8L263.6 111.8L263.7 138.3L263.8 138.3L263.9 138.3L264 111.8L264.1 138.3L264.2 138.3L264.3 111.8L264.4 138.3L264.5 138.3L264.7 138.3L264.8 138.3L264.9 111.8L265 102.7L265.1 138.3L265.2 138.3L265.3 138.3L265.4 111.8L265.5 138.3L265.6 138.3L265.8 138.3L265.9 138.3L266 111.8L266.1 138.3L266.2 111.8L266.3 138.3L266.4 138.3L266.5 138.3L266.6 111.8L266.7 138.3L266.9 138.3L267 138.3L267.1 111.8L267.2 138.3L267.3 138.3L267.4 138.3L267.5 138.3L267.6 138.3L267.7 111.8L267.8 138.3L268 138.3L268.1 138.3L268.2 111.8L268.3 138.3L268.4 107.5L268.5 138.3L268.6 138.3L268.7 138.3L268.8 138.3L268.9 138.3L269.1 138.3L269.2 138.3L269.3 138.3L269.4 138.3L269.5 111.8L269.6 138.3L269.7 138.3L269.8 138.3L269.9 111.8L270 138.3L270.2 138.3L270.3 138.3L270.4 107.5L270.5 138.3L270.6 138.3L270.7 111.8L270.8 138.3L270.9 138.3L271 138.3L271.1 111.8L271.3 138.3L271.4 138.3L271.5 138.3L271.6 138.3L271.7 138.3L271.8 111.8L271.9 111.8L272 138.3L272.1 138.3L272.2 111.8L272.4 138.3L272.5 111.8L272.6 138.3L272.7 138.3L272.8 111.8L272.9 138.3L273 138.3L273.1 138.3L273.2 138.3L273.3 138.3L273.5 138.3L273.6 111.8L273.7 138.3L273.8 138.3L273.9 111.8L274 138.3L274.1 111.8L274.2 138.3L274.3 138.3L274.4 138.3L274.6 111.8L274.7 111.8L274.8 111.8L274.9 138.3L275 138.3L275.1 111.8L275.2 138.3L275.3 138.3L275.4 138.3L275.5 138.3L275.7 138.3L275.8 111.8L275.9 138.3L276 111.8L276.1 138.3L276.2 138.3L276.3 138.3L276.4 138.3L276.5 138.3L276.6 138.3L276.8 107.5L276.9 138.3L277 138.3L277.1 111.8L277.2 138.3L277.3 111.8L277.4 111.8L277.5 138.3L277.6 138.3L277.7 138.3L277.9 111.8L278 138.3L278.1 138.3L278.2 138.3L278.3 138.3L278.4 111.8L278.5 138.3L278.6 138.3L278.7 138.3L278.8 138.3L279 138.3L279.1 138.3L279.2 138.3L279.3 111.8L279.4 138.3L279.5 111.8L279.6 111.8L279.7 138.3L279.8 138.3L279.9 138.3L280.1 138.3L280.2 138.3L280.3 138.3L280.4 111.8L280.5 138.3L280.6 138.3L280.7 138.3L280.8 138.3L280.9 138.3L281 138.3L281.2 111.8L281.3 138.3L281.4 138.3L281.5 138.3L281.6 138.3L281.7 138.3L281.8 138.3L281.9 138.3L282 138.3L282.1 138.3L282.3 107.5L282.4 111.8L282.5 138.3L282.6 138.3L282.7 138.3L282.8 138.3L282.9 138.3L283 138.3L283.1 138.3L283.2 138.3L283.4 138.3L283.5 138.3L283.6 138.3L283.7 138.3L283.8 138.3L283.9 138.3L284 138.3L284.1 111.8L284.2 138.3L284.3 138.3L284.5 138.3L284.6 138.3L284.7 111.8L284.8 138.3L284.9 138.3L285 138.3L285.1 138.3L285.2 138.3L285.3 138.3L285.4 138.3L285.6 138.3L285.7 138.3L285.8 138.3L285.9 107.5L286 138.3L286.1 138.3L286.2 138.3L286.3 138.3L286.4 138.3L286.5 138.3L286.7 138.3L286.8 138.3L286.9 138.3L287 138.3L287.1 138.3L287.2 138.3L287.3 138.3L287.4 138.3L287.5 138.3L287.6 111.8L287.8 138.3L287.9 138.3L288 138.3" fill="none" stroke="#ec1c24" stroke-width="1.0" stroke-linejoin="round"/>
<path d="M138.7 147L139 146.7L139.4 146.5L139.7 146.3L140 146.1L140.4 145.8L140.7 145.6L141 145.4L141.3 145.2L141.7 145L142 144.8L142.3 144.6L142.7 144.4L143 144.2L143.3 144L143.7 143.8L144 143.6L144.3 143.4L144.6 143.2L145 142.9L145.3 142.7L145.6 142.5L146 142.3L146.3 142L146.6 141.8L147 141.5L147.3 141.3L147.6 141L147.9 140.8L148.3 140.5L148.6 140.3L148.9 140L149.3 139.7L149.6 139.5L149.9 139.2L150.3 138.9L150.6 138.6L150.9 138.3L151.2 138L151.6 137.7L151.9 137.5L152.2 137.1L152.6 136.8L152.9 136.5L153.2 136.2L153.6 135.8L153.9 135.5L154.2 135.1L154.5 134.7L154.9 134.4L155.2 134L155.5 133.6L155.9 133.2L156.2 132.9L156.5 132.5L156.9 132.1L157.2 131.8L157.5 131.4L157.8 131.1L158.2 130.7L158.5 130.4L158.8 130.1L159.2 129.8L159.5 129.5L159.8 129.1L160.2 128.8L160.5 128.5L160.8 128.2L161.1 127.9L161.5 127.6L161.8 127.3L162.1 127.1L162.5 126.8L162.8 126.6L163.1 126.4L163.5 126.3L163.8 126.1L164.1 125.9L164.4 125.8L164.8 125.7L165.1 125.6L165.4 125.5L165.8 125.5L166.1 125.6L166.4 125.7L166.8 125.9L167.1 126.2L167.4 126.5L167.7 126.8L168.1 127.1L168.4 127.5L168.7 127.8L169.1 128.1L169.4 128.5L169.7 128.9L170.1 129.4L170.4 129.9L170.7 130.5L171 131.1L171.4 131.6L171.7 132.2L172 132.7L172.4 133.2L172.7 133.6L173 134L173.4 134.3L173.7 134.5L174 134.7L174.3 135L174.7 135.1L175 135.3L175.3 135.4L175.7 135.5L176 135.5L176.3 135.4L176.7 135.4L177 135.3L177.3 135.2L177.6 135.1L178 134.9L178.3 134.7L178.6 134.5L179 134.3L179.3 134.1L179.6 133.9L180 133.6L180.3 133.4L180.6 133.1L180.9 132.8L181.3 132.6L181.6 132.3L181.9 131.9L182.3 131.6L182.6 131.1L182.9 130.6L183.3 130.1L183.6 129.5L183.9 128.9L184.2 128.2L184.6 127.5L184.9 126.7L185.2 125.9L185.6 125.1L185.9 124.2L186.2 123.3L186.6 122.3L186.9 121.1L187.2 119.8L187.5 118.3L187.9 116.7L188.2 115L188.5 113.1L188.9 111L189.2 108.7L189.5 105.7L189.9 102.3L190.2 98.5L190.5 94.5L190.8 90.4L191.2 86.3L191.5 81.3L191.8 75.5L192.2 69.9L192.5 65.6L192.8 63.5L193.2 64.4L193.5 67.8L193.8 72.8L194.1 78.6L194.5 84.2L194.8 88.8L195.1 93.4L195.5 98L195.8 102.5L196.1 106.5L196.5 109.8L196.8 112.4L197.1 114.8L197.4 117L197.8 119.1L198.1 121L198.4 122.7L198.8 124.2L199.1 125.7L199.4 127L199.8 128.3L200.1 129.5L200.4 130.7L200.7 131.8L201.1 132.8L201.4 133.8L201.7 134.8L202.1 135.7L202.4 136.6L202.7 137.4L203.1 138.1L203.4 138.8L203.7 139.5L204 140.1L204.4 140.7L204.7 141.2L205 141.7L205.4 142.2L205.7 142.7L206 143.1L206.4 143.6L206.7 144L207 144.4L207.3 144.7L207.7 145.1L208 145.4L208.3 145.8L208.7 146.2L209 146.6L209.3 146.9L209.7 147.2L210 147.5L210.3 147.8L210.6 148L211 148.3L211.3 148.5L211.6 148.8L212 149L212.3 149.2L212.6 149.4L213 149.7L213.3 149.9L213.6 150.1L213.9 150.2L214.3 150.4L214.6 150.6L214.9 150.8L215.3 150.9L215.6 151.1L215.9 151.3L216.3 151.4L216.6 151.5L216.9 151.7L217.2 151.8L217.6 151.9L217.9 152.1L218.2 152.2L218.6 152.3L218.9 152.4L219.2 152.5L219.2 159.5L218.9 159.4L218.6 159.3L218.2 159.2L217.9 159.1L217.6 158.9L217.2 158.8L216.9 158.7L216.6 158.5L216.3 158.4L215.9 158.3L215.6 158.1L215.3 157.9L214.9 157.8L214.6 157.6L214.3 157.4L213.9 157.2L213.6 157.1L213.3 156.9L213 156.7L212.6 156.4L212.3 156.2L212 156L211.6 155.8L211.3 155.5L211 155.3L210.6 155L210.3 154.8L210 154.5L209.7 154.2L209.3 153.9L209 153.6L208.7 153.1L208.3 152.6L208 152.2L207.7 151.6L207.3 151.1L207 150.5L206.7 150L206.4 149.4L206 148.7L205.7 148.1L205.4 147.4L205 146.7L204.7 146L204.4 145.3L204 144.5L203.7 143.7L203.4 142.9L203.1 142L202.7 141L202.4 140L202.1 138.9L201.7 137.8L201.4 136.6L201.1 135.4L200.7 134.2L200.4 132.9L200.1 131.6L199.8 130.2L199.4 128.8L199.1 127.3L198.8 125.7L198.4 124L198.1 122.1L197.8 120.2L197.4 118.1L197.1 115.9L196.8 113.5L196.5 110.9L196.1 107.6L195.8 103.6L195.5 99.1L195.1 94.5L194.8 89.9L194.5 85.3L194.1 79.7L193.8 73.9L193.5 68.9L193.2 65.5L192.8 64.6L192.5 66.7L192.2 71L191.8 76.6L191.5 82.4L191.2 87.4L190.8 91.5L190.5 95.6L190.2 99.6L189.9 103.4L189.5 106.8L189.2 109.8L188.9 112.1L188.5 114.2L188.2 116.1L187.9 117.8L187.5 119.4L187.2 120.9L186.9 122.3L186.6 123.5L186.2 124.7L185.9 125.7L185.6 126.6L185.2 127.6L184.9 128.4L184.6 129.3L184.2 130.1L183.9 130.9L183.6 131.6L183.3 132.2L182.9 132.9L182.6 133.4L182.3 133.9L181.9 134.4L181.6 134.8L181.3 135.1L180.9 135.4L180.6 135.8L180.3 136.1L180 136.4L179.6 136.7L179.3 137L179 137.2L178.6 137.5L178.3 137.7L178 137.9L177.6 138.1L177.3 138.3L177 138.4L176.7 138.5L176.3 138.6L176 138.6L175.7 138.6L175.3 138.6L175 138.4L174.7 138.2L174.3 138L174 137.7L173.7 137.5L173.4 137.2L173 136.8L172.7 136.4L172.4 135.9L172 135.3L171.7 134.7L171.4 134L171 133.4L170.7 132.7L170.4 132.1L170.1 131.5L169.7 130.9L169.4 130.4L169.1 130L168.7 129.6L168.4 129.3L168.1 128.9L167.7 128.5L167.4 128.1L167.1 127.8L166.8 127.5L166.4 127.3L166.1 127.2L165.8 127.1L165.4 127.1L165.1 127.1L164.8 127.2L164.4 127.4L164.1 127.5L163.8 127.7L163.5 127.9L163.1 128.1L162.8 128.3L162.5 128.6L162.1 128.8L161.8 129.1L161.5 129.4L161.1 129.7L160.8 130.1L160.5 130.4L160.2 130.8L159.8 131.2L159.5 131.5L159.2 131.9L158.8 132.2L158.5 132.6L158.2 133L157.8 133.4L157.5 133.8L157.2 134.2L156.9 134.6L156.5 135L156.2 135.5L155.9 135.9L155.5 136.4L155.2 136.8L154.9 137.3L154.5 137.7L154.2 138.2L153.9 138.6L153.6 139L153.2 139.5L152.9 139.9L152.6 140.3L152.2 140.7L151.9 141.1L151.6 141.5L151.2 141.8L150.9 142.2L150.6 142.6L150.3 143L149.9 143.3L149.6 143.7L149.3 144L148.9 144.4L148.6 144.8L148.3 145.1L147.9 145.5L147.6 145.8L147.3 146.1L147 146.5L146.6 146.8L146.3 147.2L146 147.5L145.6 147.8L145.3 148.1L145 148.5L144.6 148.8L144.3 149.1L144 149.4L143.7 149.7L143.3 150L143 150.3L142.7 150.6L142.3 150.9L142 151.2L141.7 151.5L141.3 151.8L141 152.1L140.7 152.3L140.4 152.6L140 152.9L139.7 153.2L139.4 153.5L139 153.7L138.7 154z" fill="#1d3f95"/>
<rect x="19.2" y="160.9" width="120.5" height="31.1" fill="#1d3f95"/>
<rect x="219.3" y="160.9" width="73.7" height="31.1" fill="#1d3f95"/>
<path d="M24.2 192L24.3 192L24.4 192L24.5 192L24.6 160.9L24.7 192L24.9 192L25 192L25.1 192L25.2 160.9L25.3 192L25.4 192L25.5 192L25.6 160.9L25.7 192L25.8 192L26 192L26.1 192L26.2 192L26.3 192L26.4 192L26.5 192L26.6 192L26.7 192L26.8 160.9L26.9 192L27.1 192L27.2 192L27.3 192L27.4 160.9L27.5 192L27.6 192L27.7 160.9L27.8 192L27.9 192L28 192L28.2 192L28.3 192L28.4 192L28.5 192L28.6 192L28.7 192L28.8 192L28.9 192L29 192L29.1 192L29.3 192L29.4 156.6L29.5 192L29.6 192L29.7 192L29.8 160.9L29.9 160.9L30 192L30.1 192L30.2 192L30.4 192L30.5 192L30.6 156.6L30.7 192L30.8 192L30.9 192L31 192L31.1 192L31.2 192L31.3 192L31.5 160.9L31.6 192L31.7 192L31.8 192L31.9 192L32 192L32.1 192L32.2 192L32.3 192L32.4 192L32.6 192L32.7 192L32.8 192L32.9 192L33 192L33.1 160.9L33.2 192L33.3 192L33.4 192L33.5 160.9L33.7 160.9L33.8 192L33.9 192L34 192L34.1 192L34.2 192L34.3 192L34.4 192L34.5 192L34.6 160.9L34.8 192L34.9 192L35 160.9L35.1 192L35.2 192L35.3 192L35.4 156.6L35.5 160.9L35.6 192L35.7 160.9L35.9 192L36 160.9L36.1 192L36.2 192L36.3 192L36.4 192L36.5 192L36.6 192L36.7 192L36.8 192L37 192L37.1 192L37.2 192L37.3 192L37.4 192L37.5 192L37.6 192L37.7 160.9L37.8 192L37.9 192L38.1 192L38.2 192L38.3 192L38.4 192L38.5 192L38.6 192L38.7 192L38.8 192L38.9 192L39 160.9L39.2 192L39.3 192L39.4 192L39.5 192L39.6 192L39.7 192L39.8 192L39.9 160.9L40 160.9L40.1 192L40.3 160.9L40.4 192L40.5 192L40.6 160.9L40.7 192L40.8 160.9L40.9 192L41 192L41.1 156.6L41.2 192L41.4 192L41.5 192L41.6 192L41.7 192L41.8 192L41.9 192L42 192L42.1 160.9L42.2 192L42.3 192L42.5 192L42.6 192L42.7 192L42.8 192L42.9 160.9L43 192L43.1 192L43.2 192L43.3 192L43.4 192L43.6 192L43.7 192L43.8 192L43.9 192L44 192L44.1 160.9L44.2 192L44.3 192L44.4 160.9L44.5 160.9L44.7 192L44.8 192L44.9 192L45 160.9L45.1 192L45.2 192L45.3 192L45.4 192L45.5 192L45.6 192L45.8 192L45.9 192L46 192L46.1 192L46.2 192L46.3 192L46.4 160.9L46.5 192L46.6 192L46.7 192L46.9 192L47 192L47.1 192L47.2 192L47.3 160.9L47.4 192L47.5 192L47.6 192L47.7 192L47.8 192L48 192L48.1 192L48.2 160.9L48.3 192L48.4 192L48.5 192L48.6 192L48.7 192L48.8 192L48.9 160.9L49.1 192L49.2 192L49.3 192L49.4 192L49.5 160.9L49.6 192L49.7 192L49.8 192L49.9 156.6L50 192L50.2 192L50.3 192L50.4 192L50.5 160.9L50.6 192L50.7 192L50.8 192L50.9 192L51 192L51.1 192L51.3 160.9L51.4 160.9L51.5 192L51.6 192L51.7 160.9L51.8 192L51.9 160.9L52 192L52.1 156.6L52.2 160.9L52.4 192L52.5 192L52.6 192L52.7 192L52.8 160.9L52.9 192L53 192L53.1 160.9L53.2 192L53.3 192L53.5 192L53.6 192L53.7 192L53.8 192L53.9 192L54 192L54.1 192L54.2 160.9L54.3 192L54.4 192L54.6 160.9L54.7 160.9L54.8 192L54.9 192L55 192L55.1 192L55.2 192L55.3 192L55.4 160.9L55.5 192L55.7 192L55.8 192L55.9 192L56 192L56.1 192L56.2 192L56.3 192L56.4 192L56.5 192L56.6 192L56.8 192L56.9 192L57 192L57.1 192L57.2 192L57.3 160.9L57.4 192L57.5 160.9L57.6 192L57.7 192L57.9 192L58 192L58.1 192L58.2 192L58.3 192L58.4 192L58.5 192L58.6 192L58.7 192L58.8 192L59 192L59.1 192L59.2 192L59.3 156.6L59.4 192L59.5 192L59.6 192L59.7 160.9L59.8 192L59.9 192L60.1 192L60.2 192L60.3 160.9L60.4 192L60.5 160.9L60.6 192L60.7 192L60.8 192L60.9 192L61 192L61.2 192L61.3 192L61.4 192L61.5 192L61.6 192L61.7 160.9L61.8 192L61.9 192L62 192L62.1 160.9L62.3 192L62.4 192L62.5 192L62.6 160.9L62.7 192L62.8 192L62.9 192L63 192L63.1 160.9L63.2 160.9L63.4 192L63.5 192L63.6 192L63.7 192L63.8 192L63.9 192L64 160.9L64.1 192L64.2 192L64.3 160.9L64.5 192L64.6 192L64.7 192L64.8 192L64.9 192L65 192L65.1 192L65.2 192L65.3 192L65.4 192L65.6 160.9L65.7 192L65.8 192L65.9 192L66 192L66.1 192L66.2 192L66.3 160.9L66.4 160.9L66.5 160.9L66.7 192L66.8 192L66.9 192L67 192L67.1 192L67.2 192L67.3 192L67.4 192L67.5 192L67.6 160.9L67.8 192L67.9 192L68 192L68.1 192L68.2 192L68.3 160.9L68.4 192L68.5 192L68.6 192L68.7 192L68.9 192L69 156.6L69.1 192L69.2 192L69.3 192L69.4 192L69.5 160.9L69.6 192L69.7 192L69.8 192L70 192L70.1 192L70.2 192L70.3 156.6L70.4 160.9L70.5 192L70.6 192L70.7 192L70.8 192L70.9 192L71.1 192L71.2 156.6L71.3 160.9L71.4 192L71.5 192L71.6 160.9L71.7 192L71.8 192L71.9 192L72 160.9L72.2 192L72.3 192L72.4 192L72.5 192L72.6 192L72.7 160.9L72.8 192L72.9 192L73 192L73.1 192L73.3 192L73.4 192L73.5 192L73.6 192L73.7 160.9L73.8 192L73.9 192L74 192L74.1 192L74.2 192L74.4 192L74.5 192L74.6 192L74.7 192L74.8 192L74.9 192L75 192L75.1 192L75.2 192L75.3 160.9L75.5 192L75.6 192L75.7 192L75.8 192L75.9 192L76 192L76.1 192L76.2 192L76.3 192L76.4 192L76.6 192L76.7 192L76.8 160.9L76.9 192L77 192L77.1 192L77.2 156.6L77.3 192L77.4 192L77.5 192L77.7 192L77.8 156.6L77.9 192L78 192L78.1 192L78.2 192L78.3 160.9L78.4 192L78.5 192L78.6 192L78.8 192L78.9 160.9L79 160.9L79.1 192L79.2 160.9L79.3 192L79.4 192L79.5 156.6L79.6 192L79.7 192L79.9 160.9L80 192L80.1 192L80.2 192L80.3 192L80.4 192L80.5 192L80.6 192L80.7 192L80.8 192L81 192L81.1 192L81.2 160.9L81.3 156.6L81.4 192L81.5 192L81.6 160.9L81.7 192L81.8 160.9L81.9 192L82.1 192L82.2 192L82.3 192L82.4 192L82.5 192L82.6 153.9L82.7 160.9L82.8 192L82.9 160.9L83 192L83.2 192L83.3 192L83.4 192L83.5 160.9L83.6 160.9L83.7 192L83.8 192L83.9 192L84 192L84.1 192L84.3 192L84.4 192L84.5 160.9L84.6 192L84.7 192L84.8 160.9L84.9 160.9L85 160.9L85.1 192L85.2 192L85.4 192L85.5 192L85.6 192L85.7 160.9L85.8 160.9L85.9 192L86 156.6L86.1 192L86.2 192L86.3 192L86.5 192L86.6 192L86.7 192L86.8 160.9L86.9 192L87 192L87.1 192L87.2 192L87.3 192L87.4 192L87.6 192L87.7 192L87.8 192L87.9 192L88 160.9L88.1 160.9L88.2 192L88.3 156.6L88.4 192L88.5 192L88.7 192L88.8 192L88.9 192L89 192L89.1 192L89.2 192L89.3 192L89.4 192L89.5 192L89.6 192L89.8 192L89.9 160.9L90 192L90.1 192L90.2 192L90.3 192L90.4 160.9L90.5 160.9L90.6 160.9L90.7 192L90.9 192L91 192L91.1 192L91.2 160.9L91.3 192L91.4 192L91.5 192L91.6 192L91.7 160.9L91.8 192L92 160.9L92.1 160.9L92.2 192L92.3 192L92.4 192L92.5 160.9L92.6 192L92.7 192L92.8 192L92.9 192L93.1 192L93.2 160.9L93.3 192L93.4 192L93.5 192L93.6 192L93.7 192L93.8 192L93.9 192L94 192L94.2 192L94.3 192L94.4 192L94.5 160.9L94.6 192L94.7 192L94.8 192L94.9 192L95 192L95.1 192L95.3 192L95.4 192L95.5 192L95.6 192L95.7 192L95.8 192L95.9 192L96 192L96.1 192L96.2 192L96.4 192L96.5 192L96.6 192L96.7 192L96.8 192L96.9 160.9L97 192L97.1 156.6L97.2 192L97.3 192L97.5 160.9L97.6 192L97.7 192L97.8 192L97.9 192L98 192L98.1 192L98.2 192L98.3 192L98.4 192L98.6 192L98.7 192L98.8 192L98.9 192L99 192L99.1 192L99.2 192L99.3 192L99.4 192L99.5 192L99.7 192L99.8 192L99.9 192L100 192L100.1 192L100.2 192L100.3 156.6L100.4 192L100.5 192L100.6 192L100.8 160.9L100.9 160.9L101 160.9L101.1 192L101.2 160.9L101.3 192L101.4 192L101.5 156.6L101.6 192L101.7 192L101.9 192L102 160.9L102.1 192L102.2 192L102.3 160.9L102.4 160.9L102.5 160.9L102.6 192L102.7 192L102.8 192L103 192L103.1 160.9L103.2 192L103.3 192L103.4 192L103.5 192L103.6 192L103.7 192L103.8 153.9L103.9 160.9L104.1 160.9L104.2 192L104.3 192L104.4 192L104.5 192L104.6 192L104.7 160.9L104.8 192L104.9 160.9L105 192L105.2 192L105.3 156.6L105.4 192L105.5 192L105.6 192L105.7 192L105.8 192L105.9 192L106 192L106.1 192L106.3 192L106.4 192L106.5 192L106.6 192L106.7 160.9L106.8 192L106.9 192L107 192L107.1 192L107.2 192L107.4 192L107.5 156.6L107.6 192L107.7 192L107.8 192L107.9 156.6L108 192L108.1 192L108.2 192L108.3 192L108.5 192L108.6 160.9L108.7 160.9L108.8 160.9L108.9 192L109 192L109.1 192L109.2 160.9L109.3 192L109.4 192L109.6 160.9L109.7 192L109.8 192L109.9 192L110 192L110.1 192L110.2 192L110.3 192L110.4 160.9L110.5 160.9L110.7 160.9L110.8 192L110.9 192L111 192L111.1 160.9L111.2 192L111.3 192L111.4 192L111.5 192L111.6 192L111.8 160.9L111.9 156.6L112 192L112.1 160.9L112.2 156.6L112.3 192L112.4 192L112.5 160.9L112.6 156.6L112.7 192L112.9 192L113 192L113.1 160.9L113.2 153.9L113.3 156.6L113.4 192L113.5 160.9L113.6 160.9L113.7 192L113.8 192L114 192L114.1 192L114.2 153.9L114.3 192L114.4 151.8L114.5 156.6L114.6 192L114.7 192L114.8 160.9L114.9 192L115.1 192L115.2 153.9L115.3 153.9L115.4 156.6L115.5 192L115.6 160.9L115.7 192L115.8 192L115.9 156.6L116 153.9L116.2 156.6L116.3 160.9L116.4 160.9L116.5 192L116.6 160.9L116.7 160.9L116.8 192L116.9 160.9L117 160.9L117.1 192L117.3 153.9L117.4 192L117.5 192L117.6 192L117.7 192L117.8 160.9L117.9 160.9L118 192L118.1 192L118.2 192L118.4 192L118.5 160.9L118.6 160.9L118.7 192L118.8 192L118.9 153.9L119 192L119.1 160.9L119.2 156.6L119.3 160.9L119.5 192L119.6 192L119.7 160.9L119.8 153.9L119.9 160.9L120 192L120.1 151.8L120.2 192L120.3 156.6L120.4 192L120.6 192L120.7 156.6L120.8 153.9L120.9 192L121 192L121.1 160.9L121.2 192L121.3 160.9L121.4 160.9L121.5 156.6L121.7 153.9L121.8 160.9L121.9 160.9L122 160.9L122.1 156.6L122.2 156.6L122.3 192L122.4 156.6L122.5 153.9L122.6 192L122.8 192L122.9 192L123 156.6L123.1 192L123.2 151.8L123.3 192L123.4 192L123.5 156.6L123.6 192L123.7 151.8L123.9 192L124 160.9L124.1 192L124.2 153.9L124.3 192L124.4 192L124.5 192L124.6 192L124.7 192L124.8 192L125 156.6L125.1 160.9L125.2 156.6L125.3 192L125.4 160.9L125.5 153.9L125.6 156.6L125.7 160.9L125.8 151.8L125.9 192L126.1 156.6L126.2 160.9L126.3 151.8L126.4 156.6L126.5 192L126.6 192L126.7 151.8L126.8 153.9L126.9 192L127 153.9L127.2 192L127.3 156.6L127.4 192L127.5 192L127.6 160.9L127.7 153.9L127.8 156.6L127.9 192L128 151.8L128.1 160.9L128.3 151.8L128.4 192L128.5 192L128.6 156.6L128.7 156.6L128.8 192L128.9 153.9L129 192L129.1 192L129.2 160.9L129.4 151.8L129.5 160.9L129.6 151.8L129.7 156.6L129.8 156.6L129.9 192L130 192L130.1 192L130.2 156.6L130.3 150L130.5 160.9L130.6 153.9L130.7 192L130.8 192L130.9 192L131 160.9L131.1 192L131.2 151.8L131.3 153.9L131.4 153.9L131.6 192L131.7 153.9L131.8 151.8L131.9 160.9L132 153.9L132.1 192L132.2 150L132.3 160.9L132.4 156.6L132.5 192L132.7 156.6L132.8 153.9L132.9 153.9L133 192L133.1 153.9L133.2 192L133.3 192L133.4 160.9L133.5 148.4L133.6 192L133.8 153.9L133.9 150L134 160.9L134.1 192L134.2 153.9L134.3 156.6L134.4 151.8L134.5 153.9L134.6 151.8L134.7 192L134.9 192L135 192L135.1 151.8L135.2 192L135.3 160.9L135.4 151.8L135.5 192L135.6 192L135.7 160.9L135.8 150L136 192L136.1 150L136.2 192L136.3 150L136.4 153.9L136.5 151.8L136.6 192L136.7 192L136.8 153.9L136.9 156.6L137.1 146.9L137.2 156.6L137.3 151.8L137.4 192L137.5 156.6L137.6 156.6L137.7 148.4L137.8 192L137.9 151.8L138 150L138.2 192L138.3 150L138.4 192L138.5 151.8L138.6 150L138.7 151.8L138.8 151.8L138.9 192L139 153.9L139.1 160.9L139.3 156.6L139.4 153.9L139.5 153.9L139.6 146.9L139.7 150L139.8 148.4L139.9 150L140 153.9L140.1 151.8L140.2 145.5L140.4 153.9L140.5 148.4L140.6 151.8L140.7 153.9L140.8 151.8L140.9 151.8L141 146.9L141.1 148.4L141.2 151.8L141.3 153.9L141.5 148.4L141.6 146.9L141.7 151.8L141.8 143.3L141.9 151.8L142 143.3L142.1 148.4L142.2 148.4L142.3 145.5L142.4 148.4L142.6 160.9L142.7 151.8L142.8 153.9L142.9 153.9L143 150L143.1 146.9L143.2 144.2L143.3 150L143.4 150L143.5 145.5L143.7 148.4L143.8 142L143.9 148.4L144 144.2L144.1 142L144.2 142.6L144.3 148.4L144.4 153.9L144.5 156.6L144.6 146.9L144.8 146.9L144.9 148.4L145 148.4L145.1 146.9L145.2 143.3L145.3 148.4L145.4 143.3L145.5 144.2L145.6 146.9L145.7 151.8L145.9 144.2L146 144.2L146.1 142.6L146.2 142.6L146.3 142.6L146.4 144.2L146.5 143.3L146.6 151.8L146.7 142.6L146.8 141.4L147 144.2L147.1 143.3L147.2 146.9L147.3 145.5L147.4 141.4L147.5 150L147.6 148.4L147.7 143.3L147.8 143.3L147.9 150L148.1 148.4L148.2 142L148.3 142L148.4 141.4L148.5 142.6L148.6 143.3L148.7 140.8L148.8 140.3L148.9 140.8L149 144.2L149.2 138.5L149.3 137.7L149.4 143.3L149.5 142.6L149.6 141.4L149.7 140.3L149.8 139.3L149.9 146.9L150 139.3L150.1 141.4L150.3 141.4L150.4 140.3L150.5 137L150.6 143.3L150.7 139.8L150.8 140.8L150.9 140.3L151 139.8L151.1 138.9L151.2 139.3L151.4 138.9L151.5 138.5L151.6 138.5L151.7 141.4L151.8 137L151.9 139.3L152 136.7L152.1 140.8L152.2 139.3L152.3 139.8L152.5 139.8L152.6 138.5L152.7 136.7L152.8 140.8L152.9 137.3L153 143.3L153.1 137.7L153.2 137.3L153.3 139.3L153.4 139.3L153.6 140.3L153.7 137.3L153.8 134.7L153.9 136.7L154 138.9L154.1 134.7L154.2 136.4L154.3 138.5L154.4 134.7L154.5 138.5L154.7 135.5L154.8 134.7L154.9 139.8L155 135L155.1 137.3L155.2 134.7L155.3 138.1L155.4 135.2L155.5 133.6L155.6 133.8L155.8 134.7L155.9 134.3L156 134.7L156.1 136.4L156.2 132.1L156.3 133.8L156.4 133.4L156.5 133.2L156.6 133.6L156.7 135.2L156.9 135.5L157 133.4L157.1 133.6L157.2 133.6L157.3 131.1L157.4 132.4L157.5 132.1L157.6 132.4L157.7 132.2L157.8 133.4L158 131.2L158.1 131.9L158.2 132.2L158.3 133.6L158.4 132.1L158.5 130.6L158.6 133L158.7 131.1L158.8 132.1L158.9 131.9L159.1 131.1L159.2 130.9L159.3 131.4L159.4 129.4L159.5 130.8L159.6 128.9L159.7 129.2L159.8 131.2L159.9 129.1L160 131.2L160.2 128.4L160.3 129.2L160.4 130.5L160.5 131.7L160.6 129.6L160.7 130.5L160.8 128.1L160.9 130.2L161 129.1L161.1 128.3L161.3 128.6L161.4 128.3L161.5 128.6L161.6 127.7L161.7 129.1L161.8 127.7L161.9 129.2L162 127.8L162.1 129L162.2 128L162.4 127.2L162.5 126.6L162.6 129.2L162.7 128.1L162.8 128.3L162.9 126.4L163 128L163.1 126.6L163.2 127.6L163.3 128.4L163.5 126.9L163.6 128L163.7 126.4L163.8 126.2L163.9 125.8L164 127.6L164.1 125.5L164.2 125.9L164.3 128.1L164.4 124.9L164.6 125.2L164.7 127.3L164.8 126.1L164.9 127.5L165 126.4L165.1 126.1L165.2 125.8L165.3 126.9L165.4 126.3L165.5 126.9L165.7 126L165.8 125.7L165.9 126.2L166 125.4L166.1 125.7L166.2 126L166.3 125.6L166.4 127.5L166.5 126.5L166.6 128.2L166.8 126.7L166.9 127.1L167 126.2L167.1 127.3L167.2 127.6L167.3 127.2L167.4 127.3L167.5 126.9L167.6 128.2L167.7 129L167.9 129.2L168 126.9L168.1 129.1L168.2 128.4L168.3 129.2L168.4 127.5L168.5 129L168.6 127.5L168.7 129.3L168.8 128.5L169 128.2L169.1 128.1L169.2 130.4L169.3 129.6L169.4 129.4L169.5 131.6L169.6 129L169.7 129.4L169.8 129.6L169.9 131.7L170.1 130.2L170.2 130.1L170.3 129.7L170.4 131.6L170.5 131.4L170.6 132.1L170.7 130.2L170.8 133.4L170.9 131.7L171 131.1L171.2 132.2L171.3 134L171.4 132.2L171.5 131.9L171.6 131.1L171.7 131.6L171.8 133.2L171.9 132.8L172 134.5L172.1 135.5L172.3 135L172.4 135.5L172.5 137.7L172.6 134.5L172.7 134.3L172.8 136.7L172.9 135.2L173 137L173.1 135.5L173.2 134.3L173.4 134L173.5 135.5L173.6 133.6L173.7 134.5L173.8 134L173.9 137.7L174 135.2L174.1 136.1L174.2 137L174.3 138.1L174.5 132.6L174.6 137.7L174.7 135L174.8 138.9L174.9 137.7L175 136.1L175.1 136.4L175.2 137.7L175.3 136.7L175.4 137.3L175.6 135.8L175.7 136.1L175.8 136.1L175.9 136.4L176 135.8L176.1 139.3L176.2 134.7L176.3 135.2L176.4 139.3L176.5 135.5L176.7 137.7L176.8 135.5L176.9 133.8L177 135.5L177.1 137.7L177.2 136.7L177.3 135.8L177.4 135L177.5 138.9L177.6 134.5L177.8 135.8L177.9 137.3L178 135.5L178.1 135.2L178.2 135.5L178.3 138.1L178.4 136.1L178.5 136.1L178.6 137.3L178.7 135.2L178.9 137L179 135.8L179.1 137.7L179.2 135.8L179.3 137.3L179.4 134.3L179.5 135L179.6 133L179.7 135.2L179.8 133.8L180 135L180.1 136.1L180.2 136.7L180.3 134.5L180.4 134L180.5 134.5L180.6 133.4L180.7 134L180.8 133L180.9 134.3L181.1 133.6L181.2 132.4L181.3 135.2L181.4 133.2L181.5 132.2L181.6 132.6L181.7 131.9L181.8 133.6L181.9 132.6L182 133.2L182.2 134.7L182.3 132.1L182.4 131.9L182.5 131.2L182.6 130.2L182.7 132.6L182.8 132.4L182.9 132.2L183 133.2L183.1 131.7L183.3 130.4L183.4 129.1L183.5 131.1L183.6 130.9L183.7 130.5L183.8 131.7L183.9 130.1L184 128.1L184.1 130.2L184.2 129.2L184.4 127.8L184.5 128.1L184.6 128.1L184.7 128.3L184.8 127.9L184.9 127.5L185 126.7L185.1 126.9L185.2 126L185.3 128L185.5 125.5L185.6 126.2L185.7 125.5L185.8 125.5L185.9 124.4L186 124.7L186.1 123.8L186.2 124.5L186.3 123.5L186.4 122.5L186.6 122.2L186.7 122.7L186.8 122L186.9 121.9L187 121.3L187.1 120.8L187.2 119.7L187.3 119.6L187.4 118.7L187.5 118.2L187.7 119L187.8 117.7L187.9 117.5L188 117.4L188.1 116.6L188.2 115.7L188.3 114.3L188.4 114.2L188.5 113.7L188.6 113L188.8 112.5L188.9 111.5L189 110.9L189.1 110.5L189.2 109.4L189.3 107.6L189.4 107.2L189.5 106.3L189.6 105.1L189.7 104.2L189.9 102.8L190 101.5L190.1 100.6L190.2 99.1L190.3 97.8L190.4 96.4L190.5 95.1L190.6 93.6L190.7 92.2L190.8 90.9L191 89.5L191.1 88.2L191.2 86.9L191.3 85.3L191.4 83.7L191.5 81.8L191.6 79.9L191.7 78L191.8 76L191.9 74.1L192.1 72.3L192.2 70.5L192.3 68.9L192.4 67.4L192.5 66.2L192.6 65.2L192.7 64.5L192.8 64.1L192.9 64L193 64.3L193.2 64.9L193.3 65.8L193.4 67L193.5 68.3L193.6 69.9L193.7 71.6L193.8 73.4L193.9 75.3L194 77.1L194.1 79.2L194.3 81.1L194.4 83L194.5 84.7L194.6 86.3L194.7 87.9L194.8 89.3L194.9 90.7L195 92.5L195.1 93.9L195.2 95.3L195.4 97.2L195.5 98.5L195.6 99.9L195.7 101.4L195.8 103.1L195.9 104.1L196 105.7L196.1 106.9L196.2 108.5L196.3 109.6L196.5 110.6L196.6 110.8L196.7 112.9L196.8 113.6L196.9 113.5L197 114.5L197.1 116.6L197.2 116.3L197.3 117L197.4 117.1L197.6 119.2L197.7 119.2L197.8 119.1L197.9 119.9L198 121.4L198.1 121.7L198.2 123L198.3 121.9L198.4 123.5L198.5 123L198.7 123.8L198.8 125.5L198.9 125.5L199 125.4L199.1 126L199.2 125.7L199.3 126.4L199.4 127.5L199.5 127.7L199.6 129.3L199.8 129.7L199.9 129L200 129.7L200.1 131.6L200.2 130.9L200.3 132.2L200.4 131.9L200.5 130.9L200.6 130.1L200.7 133.2L200.9 132.8L201 136.1L201.1 135.2L201.2 137.3L201.3 136.7L201.4 135.5L201.5 134.7L201.6 135L201.7 136.1L201.8 135.2L202 134.5L202.1 138.1L202.2 137.7L202.3 139.8L202.4 139.3L202.5 137L202.6 138.1L202.7 138.5L202.8 140.8L202.9 138.5L203.1 138.5L203.2 138.5L203.3 143.3L203.4 139.3L203.5 141.4L203.6 137.3L203.7 142L203.8 142.6L203.9 140.8L204 138.9L204.2 142L204.3 139.3L204.4 143.3L204.5 150L204.6 144.2L204.7 139.3L204.8 144.2L204.9 144.2L205 141.4L205.1 142L205.3 151.8L205.4 144.2L205.5 142.6L205.6 151.8L205.7 150L205.8 145.5L205.9 143.3L206 145.5L206.1 150L206.2 143.3L206.4 148.4L206.5 144.2L206.6 145.5L206.7 150L206.8 156.6L206.9 145.5L207 151.8L207.1 151.8L207.2 145.5L207.3 144.2L207.5 150L207.6 153.9L207.7 151.8L207.8 145.5L207.9 151.8L208 142.6L208.1 151.8L208.2 148.4L208.3 150L208.4 151.8L208.6 146.9L208.7 148.4L208.8 144.2L208.9 150L209 153.9L209.1 153.9L209.2 148.4L209.3 151.8L209.4 156.6L209.5 151.8L209.7 148.4L209.8 151.8L209.9 153.9L210 153.9L210.1 153.9L210.2 151.8L210.3 153.9L210.4 153.9L210.5 156.6L210.6 160.9L210.8 145.5L210.9 151.8L211 156.6L211.1 160.9L211.2 150L211.3 148.4L211.4 156.6L211.5 153.9L211.6 153.9L211.7 150L211.9 148.4L212 160.9L212.1 160.9L212.2 151.8L212.3 145.5L212.4 151.8L212.5 153.9L212.6 150L212.7 156.6L212.8 153.9L213 153.9L213.1 148.4L213.2 160.9L213.3 153.9L213.4 153.9L213.5 156.6L213.6 150L213.7 160.9L213.8 156.6L213.9 156.6L214.1 151.8L214.2 156.6L214.3 153.9L214.4 156.6L214.5 153.9L214.6 160.9L214.7 153.9L214.8 156.6L214.9 151.8L215 156.6L215.2 156.6L215.3 150L215.4 160.9L215.5 156.6L215.6 156.6L215.7 151.8L215.8 151.8L215.9 156.6L216 156.6L216.1 156.6L216.3 153.9L216.4 151.8L216.5 160.9L216.6 156.6L216.7 160.9L216.8 160.9L216.9 153.9L217 153.9L217.1 160.9L217.2 156.6L217.4 153.9L217.5 160.9L217.6 150L217.7 160.9L217.8 156.6L217.9 192L218 160.9L218.1 160.9L218.2 156.6L218.3 156.6L218.5 160.9L218.6 192L218.7 156.6L218.8 156.6L218.9 151.8L219 156.6L219.1 156.6L219.2 150L219.3 160.9L219.4 156.6L219.6 156.6L219.7 160.9L219.8 192L219.9 156.6L220 160.9L220.1 156.6L220.2 160.9L220.3 192L220.4 151.8L220.5 156.6L220.7 160.9L220.8 153.9L220.9 192L221 160.9L221.1 160.9L221.2 160.9L221.3 153.9L221.4 192L221.5 192L221.6 160.9L221.8 192L221.9 151.8L222 160.9L222.1 151.8L222.2 192L222.3 160.9L222.4 192L222.5 192L222.6 192L222.7 192L222.9 192L223 160.9L223.1 192L223.2 156.6L223.3 150L223.4 153.9L223.5 151.8L223.6 153.9L223.7 192L223.8 192L224 192L224.1 153.9L224.2 192L224.3 160.9L224.4 192L224.5 160.9L224.6 160.9L224.7 156.6L224.8 192L224.9 160.9L225.1 192L225.2 160.9L225.3 192L225.4 192L225.5 153.9L225.6 156.6L225.7 153.9L225.8 192L225.9 192L226 192L226.2 192L226.3 156.6L226.4 192L226.5 156.6L226.6 192L226.7 192L226.8 160.9L226.9 192L227 160.9L227.1 156.6L227.3 192L227.4 160.9L227.5 192L227.6 151.8L227.7 160.9L227.8 160.9L227.9 192L228 192L228.1 153.9L228.2 192L228.4 153.9L228.5 156.6L228.6 192L228.7 160.9L228.8 192L228.9 160.9L229 151.8L229.1 156.6L229.2 192L229.3 192L229.5 192L229.6 150L229.7 160.9L229.8 156.6L229.9 160.9L230 192L230.1 192L230.2 192L230.3 160.9L230.4 192L230.6 156.6L230.7 192L230.8 153.9L230.9 192L231 156.6L231.1 156.6L231.2 192L231.3 156.6L231.4 160.9L231.5 156.6L231.7 192L231.8 151.8L231.9 192L232 192L232.1 192L232.2 192L232.3 156.6L232.4 192L232.5 192L232.6 192L232.8 160.9L232.9 192L233 192L233.1 192L233.2 156.6L233.3 192L233.4 156.6L233.5 156.6L233.6 192L233.7 192L233.9 192L234 160.9L234.1 160.9L234.2 192L234.3 192L234.4 160.9L234.5 192L234.6 160.9L234.7 160.9L234.8 192L235 192L235.1 192L235.2 192L235.3 192L235.4 192L235.5 156.6L235.6 160.9L235.7 192L235.8 192L235.9 153.9L236.1 192L236.2 192L236.3 160.9L236.4 156.6L236.5 160.9L236.6 192L236.7 160.9L236.8 160.9L236.9 160.9L237 160.9L237.2 156.6L237.3 192L237.4 192L237.5 156.6L237.6 153.9L237.7 192L237.8 192L237.9 160.9L238 156.6L238.1 160.9L238.3 192L238.4 192L238.5 160.9L238.6 192L238.7 153.9L238.8 192L238.9 192L239 192L239.1 156.6L239.2 160.9L239.4 192L239.5 192L239.6 151.8L239.7 156.6L239.8 192L239.9 192L240 156.6L240.1 160.9L240.2 192L240.3 156.6L240.5 192L240.6 192L240.7 192L240.8 160.9L240.9 160.9L241 192L241.1 156.6L241.2 192L241.3 192L241.4 192L241.6 192L241.7 192L241.8 160.9L241.9 192L242 192L242.1 160.9L242.2 192L242.3 192L242.4 192L242.5 160.9L242.7 192L242.8 156.6L242.9 192L243 192L243.1 156.6L243.2 192L243.3 192L243.4 153.9L243.5 192L243.6 156.6L243.8 156.6L243.9 192L244 160.9L244.1 156.6L244.2 153.9L244.3 192L244.4 192L244.5 160.9L244.6 192L244.7 160.9L244.9 192L245 192L245.1 192L245.2 192L245.3 192L245.4 160.9L245.5 192L245.6 192L245.7 192L245.8 192L246 156.6L246.1 192L246.2 192L246.3 160.9L246.4 192L246.5 160.9L246.6 192L246.7 192L246.8 156.6L246.9 160.9L247.1 192L247.2 192L247.3 192L247.4 192L247.5 192L247.6 192L247.7 192L247.8 192L247.9 192L248 192L248.2 192L248.3 192L248.4 160.9L248.5 156.6L248.6 192L248.7 192L248.8 160.9L248.9 192L249 192L249.1 160.9L249.3 160.9L249.4 192L249.5 156.6L249.6 192L249.7 160.9L249.8 192L249.9 160.9L250 192L250.1 192L250.2 156.6L250.4 192L250.5 160.9L250.6 192L250.7 192L250.8 192L250.9 192L251 156.6L251.1 192L251.2 192L251.3 192L251.5 192L251.6 192L251.7 192L251.8 192L251.9 192L252 192L252.1 192L252.2 160.9L252.3 192L252.4 160.9L252.6 192L252.7 192L252.8 160.9L252.9 192L253 192L253.1 192L253.2 192L253.3 192L253.4 192L253.5 192L253.7 156.6L253.8 192L253.9 160.9L254 192L254.1 192L254.2 156.6L254.3 192L254.4 192L254.5 192L254.6 160.9L254.8 192L254.9 156.6L255 192L255.1 160.9L255.2 156.6L255.3 192L255.4 192L255.5 192L255.6 160.9L255.7 192L255.9 160.9L256 192L256.1 192L256.2 160.9L256.3 156.6L256.4 160.9L256.5 192L256.6 192L256.7 160.9L256.8 192L257 192L257.1 160.9L257.2 192L257.3 192L257.4 192L257.5 160.9L257.6 156.6L257.7 192L257.8 192L257.9 192L258.1 192L258.2 192L258.3 192L258.4 192L258.5 192L258.6 192L258.7 192L258.8 192L258.9 192L259 192L259.2 192L259.3 160.9L259.4 192L259.5 160.9L259.6 192L259.7 160.9L259.8 192L259.9 192L260 192L260.1 156.6L260.3 192L260.4 192L260.5 192L260.6 192L260.7 192L260.8 160.9L260.9 192L261 192L261.1 192L261.2 192L261.4 192L261.5 192L261.6 192L261.7 156.6L261.8 192L261.9 192L262 192L262.1 192L262.2 160.9L262.3 192L262.5 192L262.6 192L262.7 192L262.8 192L262.9 192L263 160.9L263.1 160.9L263.2 160.9L263.3 192L263.4 160.9L263.6 192L263.7 160.9L263.8 192L263.9 192L264 192L264.1 160.9L264.2 160.9L264.3 192L264.4 192L264.5 192L264.7 192L264.8 192L264.9 192L265 192L265.1 192L265.2 192L265.3 192L265.4 192L265.5 192L265.6 192L265.8 192L265.9 160.9L266 192L266.1 160.9L266.2 192L266.3 192L266.4 192L266.5 192L266.6 192L266.7 160.9L266.9 192L267 192L267.1 192L267.2 192L267.3 192L267.4 192L267.5 192L267.6 192L267.7 192L267.8 192L268 160.9L268.1 192L268.2 192L268.3 192L268.4 192L268.5 192L268.6 192L268.7 160.9L268.8 160.9L268.9 192L269.1 192L269.2 192L269.3 192L269.4 192L269.5 160.9L269.6 160.9L269.7 192L269.8 192L269.9 160.9L270 192L270.2 192L270.3 192L270.4 192L270.5 192L270.6 192L270.7 160.9L270.8 160.9L270.9 192L271 160.9L271.1 192L271.3 192L271.4 192L271.5 192L271.6 192L271.7 192L271.8 192L271.9 192L272 192L272.1 192L272.2 192L272.4 192L272.5 160.9L272.6 192L272.7 192L272.8 192L272.9 192L273 160.9L273.1 192L273.2 192L273.3 192L273.5 192L273.6 192L273.7 160.9L273.8 192L273.9 160.9L274 192L274.1 160.9L274.2 192L274.3 192L274.4 160.9L274.6 192L274.7 192L274.8 192L274.9 192L275 192L275.1 192L275.2 192L275.3 192L275.4 156.6L275.5 192L275.7 192L275.8 192L275.9 192L276 160.9L276.1 192L276.2 192L276.3 160.9L276.4 192L276.5 192L276.6 156.6L276.8 192L276.9 160.9L277 192L277.1 192L277.2 192L277.3 192L277.4 156.6L277.5 192L277.6 192L277.7 192L277.9 192L278 192L278.1 192L278.2 160.9L278.3 192L278.4 192L278.5 192L278.6 192L278.7 156.6L278.8 160.9L279 192L279.1 192L279.2 192L279.3 160.9L279.4 192L279.5 192L279.6 192L279.7 192L279.8 192L279.9 192L280.1 192L280.2 192L280.3 192L280.4 192L280.5 192L280.6 192L280.7 160.9L280.8 192L280.9 160.9L281 160.9L281.2 192L281.3 192L281.4 192L281.5 192L281.6 192L281.7 192L281.8 192L281.9 192L282 192L282.1 192L282.3 160.9L282.4 192L282.5 192L282.6 160.9L282.7 192L282.8 192L282.9 192L283 192L283.1 192L283.2 160.9L283.4 192L283.5 156.6L283.6 156.6L283.7 192L283.8 192L283.9 192L284 192L284.1 192L284.2 192L284.3 192L284.5 192L284.6 192L284.7 192L284.8 192L284.9 192L285 192L285.1 192L285.2 192L285.3 192L285.4 192L285.6 192L285.7 160.9L285.8 192L285.9 192L286 192L286.1 160.9L286.2 192L286.3 192L286.4 192L286.5 192L286.7 192L286.8 192L286.9 160.9L287 192L287.1 192L287.2 192L287.3 192L287.4 192L287.5 192L287.6 192L287.8 192L287.9 192L288 192" fill="none" stroke="#1d3f95" stroke-width="1.0" stroke-linejoin="round"/>
</g>
<path d="M24.2 191v-3.6M31.7 191v-2M39.3 191v-2M46.8 191v-2M54.3 191v-2M61.9 191v-3.6M69.4 191v-2M77 191v-2M84.5 191v-2M92 191v-2M99.6 191v-3.6M107.1 191v-2M114.6 191v-2M122.2 191v-2M129.7 191v-2M137.3 191v-3.6M144.8 191v-2M152.3 191v-2M159.9 191v-2M167.4 191v-2M174.9 191v-3.6M182.5 191v-2M190 191v-2M197.6 191v-2M205.1 191v-2M212.6 191v-3.6M220.2 191v-2M227.7 191v-2M235.2 191v-2M242.8 191v-2M250.3 191v-3.6M257.9 191v-2M265.4 191v-2M272.9 191v-2M280.5 191v-2M288 191v-3.6" stroke="#0a0a0a" stroke-width="1" fill="none"/>
<path d="M24.2 185.7h1.9M24.2 182.6h1.9M24.2 180.4h1.9M24.2 178.7h1.9M24.2 177.3h1.9M24.2 176.2h1.9M24.2 175.2h1.9M24.2 174.3h1.9M24.2 173.4h4.2M24.2 168.2h1.9M24.2 165.1h1.9M24.2 162.9h1.9M24.2 161.2h1.9M24.2 159.8h1.9M24.2 158.6h1.9M24.2 157.6h1.9M24.2 156.7h1.9M24.2 155.9h4.2M24.2 150.6h1.9M24.2 147.5h1.9M24.2 145.3h1.9M24.2 143.6h1.9M24.2 142.2h1.9M24.2 141.1h1.9M24.2 140.1h1.9M24.2 139.2h1.9M24.2 138.3h4.2M24.2 133.1h1.9M24.2 130h1.9M24.2 127.8h1.9M24.2 126.1h1.9M24.2 124.7h1.9M24.2 123.5h1.9M24.2 122.5h1.9M24.2 121.6h1.9M24.2 120.8h4.2M24.2 115.5h1.9M24.2 112.4h1.9M24.2 110.2h1.9M24.2 108.5h1.9M24.2 107.1h1.9M24.2 106h1.9M24.2 105h1.9M24.2 104.1h1.9M24.2 103.2h4.2M24.2 98h1.9M24.2 94.9h1.9M24.2 92.7h1.9M24.2 91h1.9M24.2 89.6h1.9M24.2 88.4h1.9M24.2 87.4h1.9M24.2 86.5h1.9M24.2 85.7h4.2M24.2 80.4h1.9M24.2 77.3h1.9M24.2 75.1h1.9M24.2 73.4h1.9M24.2 72h1.9M24.2 70.9h1.9M24.2 69.9h1.9M24.2 69h1.9M24.2 68.1h4.2M24.2 62.9h1.9M24.2 59.8h1.9M24.2 57.6h1.9M24.2 55.9h1.9M24.2 54.5h1.9M24.2 53.3h1.9M24.2 52.3h1.9M24.2 51.4h1.9M24.2 50.6h4.2M24.2 45.3h1.9M24.2 42.2h1.9M24.2 40h1.9M24.2 38.3h1.9M24.2 36.9h1.9M24.2 35.8h1.9M24.2 34.8h1.9M24.2 33.9h1.9M24.2 33h4.2M24.2 27.8h1.9M24.2 24.7h1.9M24.2 22.5h1.9M24.2 20.8h1.9M24.2 19.4h1.9M24.2 18.2h1.9M24.2 17.2h1.9M24.2 16.3h1.9" stroke="#0a0a0a" stroke-width="1" fill="none"/>
<rect x="24.2" y="15" width="263.8" height="176" fill="none" stroke="#1c1c1c" stroke-width="1.5"/>
<text x="23.7" y="209.3" text-anchor="middle">42</text>
<text x="61.5" y="209.3" text-anchor="middle">43</text>
<text x="99.3" y="209.3" text-anchor="middle">44</text>
<text x="137.1" y="209.3" text-anchor="middle">45</text>
<text x="174.8" y="209.3" text-anchor="middle">46</text>
<text x="212.6" y="209.3" text-anchor="middle">47</text>
<text x="250.4" y="209.3" text-anchor="middle">48</text>
<text x="288.2" y="209.3" text-anchor="middle">49</text>
<text x="1.1" y="12.8" font-weight="bold" font-size="16.5">a</text>
<text x="197" y="28" text-anchor="middle" font-size="12.4">Nb-ST(002)</text>
<text x="149.5" y="66.2" text-anchor="middle" font-size="12.4">perovskite</text>
<text x="152.8" y="80" text-anchor="middle" font-size="12.4">(002)</text>
<text x="35" y="99.3" font-size="12.5">2 kG</text>
<text x="40.8" y="155.3" font-size="12.6">0 G</text>
<text transform="translate(10.5 102.5) rotate(-90) scale(1 0.9)" text-anchor="middle" font-size="12.7">Intensity (arb. units)</text>
<text x="140.6" y="234.2" font-size="14.2">2<tspan font-family='"Liberation Serif", serif' font-size="14.6" stroke-width="0.1">θ</tspan> (<tspan dy="-4.8" font-size="9">o</tspan><tspan dy="4.8">)</tspan></text>
</g>
<g id="pb">
<clipPath id="cb"><rect x="338.2" y="14.9" width="264.6" height="176.1"/></clipPath>
<g clip-path="url(#cb)">
<path d="M425 88.3L425.3 88.1L425.7 87.9L426 87.6L426.3 87.4L426.6 87.2L427 87L427.3 86.7L427.6 86.4L428 86.1L428.3 85.8L428.6 85.4L429 85L429.3 84.6L429.6 84.3L429.9 83.9L430.3 83.5L430.6 83.2L430.9 82.9L431.3 82.6L431.6 82.3L431.9 82.1L432.3 81.9L432.6 81.8L432.9 81.8L433.2 81.8L433.6 82L433.9 82.4L434.2 82.8L434.6 83.3L434.9 83.9L435.2 84.5L435.6 85.2L435.9 85.8L436.2 86.4L436.5 86.9L436.9 87.4L437.2 87.7L437.5 88L437.9 88.1L438.2 87.8L438.5 87.1L438.9 85.9L439.2 84.5L439.5 82.9L439.8 81.4L440.2 80L440.5 78.9L440.8 77.6L441.2 76.3L441.5 74.9L441.8 73.6L442.2 72.3L442.5 71.1L442.8 70L443.1 69.2L443.5 68.5L443.8 68.2L444.1 68.1L444.5 68.3L444.8 68.8L445.1 69.4L445.5 70.2L445.8 71L446.1 72L446.4 72.9L446.8 73.9L447.1 74.8L447.4 75.6L447.8 76.3L448.1 77L448.4 77.7L448.8 78.5L449.1 79.3L449.4 80L449.7 80.6L450.1 81.2L450.4 81.5L450.7 81.8L451.1 81.7L451.4 81.1L451.7 79.9L452.1 78.3L452.4 76.4L452.7 74.2L453 71.8L453.4 69.4L453.7 67.1L454 64.9L454.4 63.1L454.7 61.1L455 59L455.4 56.7L455.7 54.4L456 52.2L456.3 50L456.7 48L457 46.2L457.3 44.7L457.7 43.5L458 42.8L458.3 42.6L458.7 42.9L459 43.9L459.3 45.4L459.6 47.3L460 49.5L460.3 51.8L460.6 54.2L461 56.6L461.3 58.7L461.6 60.6L462 62.3L462.3 64.1L462.6 65.9L462.9 67.7L463.3 69.6L463.6 71.4L463.9 73.2L464.3 74.8L464.6 76.2L464.9 77.4L465.3 78.4L465.6 79.1L465.9 79.5L466.2 79.5L466.6 79.2L466.9 78.7L467.2 77.9L467.6 76.9L467.9 75.9L468.2 74.8L468.6 73.7L468.9 72.6L469.2 71.7L469.5 70.9L469.9 70.4L470.2 69.9L470.5 69.5L470.9 69L471.2 68.7L471.5 68.4L471.9 68.2L472.2 68.1L472.5 68.2L472.8 68.6L473.2 69.3L473.5 70.1L473.8 71L474.2 72.1L474.5 73.2L474.8 74.2L475.2 75.3L475.5 76.2L475.8 77.1L476.1 77.8L476.5 78.6L476.8 79.3L477.1 80.2L477.5 81L477.8 81.8L478.1 82.6L478.5 83.3L478.8 84L479.1 84.7L479.4 85.3L479.8 85.8L480.1 86.3L480.4 86.6L480.8 86.9L481.1 87L481.4 87L481.8 86.7L482.1 85.9L482.4 84.9L482.7 83.7L483.1 82.4L483.4 81L483.7 79.7L484.1 78.5L484.4 77.5L484.7 76.8L485.1 76.1L485.4 75.3L485.7 74.7L486 74.1L486.4 73.6L486.7 73.3L487 73.2L487.4 73.4L487.7 73.9L488 74.7L488.4 75.6L488.7 76.5L489 77.5L489.3 78.3L489.7 79.1L490 80.1L490.3 81.1L490.7 82.2L491 83.2L491.3 84.1L491.7 84.9L492 85.5L492.3 85.9L492.6 86.1L493 86L493.3 85.9L493.6 85.6L494 85.4L494.3 85L494.6 84.6L495 84.2L495.3 83.8L495.6 83.3L495.9 82.9L496.3 82.4L496.6 82L496.9 81.6L497.3 81.3L497.6 80.9L497.9 80.6L498.3 80.2L498.6 79.9L498.9 79.5L499.2 79.1L499.6 78.7L499.9 78.3L500.2 77.8L500.6 77.3L500.9 76.7L501.2 76.1L501.6 75.4L501.9 74.6L502.2 73.7L502.5 72.5L502.9 71.1L503.2 69.5L503.5 67.7L503.9 65.7L504.2 63.5L504.5 60.5L504.9 56.6L505.2 52L505.5 47.1L505.8 42.2L506.2 36.8L506.5 30.1L506.8 23.7L507.2 19.2L507.5 18.2L507.8 21.8L508.2 28.3L508.5 35.5L508.8 41.5L509.1 46.1L509.5 50.6L509.8 54.9L510.1 58.9L510.5 62.6L510.8 65.7L511.1 68.6L511.5 71.4L511.8 74L512.1 76.3L512.4 78.2L512.8 79.5L513.1 80.3L513.4 81.1L513.8 81.9L514.1 82.5L514.4 83.1L514.8 83.6L515.1 84.1L515.4 84.6L515.7 85L516.1 85.3L516.4 85.7L516.7 86L517.1 86.4L517.4 86.7L517.7 87.1L518.1 87.4L518.4 87.8L518.7 88.1L519 88.5L519.4 88.9L519.7 89.2L520 89.6L520.4 90L520.7 90.3L521 90.6L521.4 91L521.7 91.3L522 91.6L522.3 91.8L522.7 92.1L522.7 99.1L522.3 98.8L522 98.6L521.7 98.3L521.4 98L521 97.6L520.7 97.3L520.4 97L520 96.5L519.7 96.1L519.4 95.6L519 95.1L518.7 94.7L518.4 94.2L518.1 93.7L517.7 93.2L517.4 92.7L517.1 92.2L516.7 91.7L516.4 91.2L516.1 90.7L515.7 90.2L515.4 89.7L515.1 89.1L514.8 88.4L514.4 87.7L514.1 87L513.8 86.1L513.4 85.2L513.1 84.2L512.8 83.1L512.4 81.5L512.1 79.3L511.8 76.6L511.5 73.6L511.1 70.5L510.8 67.3L510.5 63.8L510.1 60L509.8 56L509.5 51.7L509.1 47.2L508.8 42.6L508.5 36.6L508.2 29.4L507.8 22.9L507.5 19.3L507.2 20.3L506.8 24.8L506.5 31.2L506.2 37.9L505.8 43.3L505.5 48.2L505.2 53.1L504.9 57.7L504.5 61.7L504.2 64.8L503.9 67.2L503.5 69.5L503.2 71.5L502.9 73.3L502.5 74.8L502.2 76.2L501.9 77.3L501.6 78.2L501.2 79L500.9 79.8L500.6 80.4L500.2 81.1L499.9 81.6L499.6 82.2L499.2 82.7L498.9 83.2L498.6 83.6L498.3 84L497.9 84.5L497.6 84.9L497.3 85.4L496.9 85.8L496.6 86.3L496.3 86.9L495.9 87.5L495.6 88.1L495.3 88.6L495 89.2L494.6 89.8L494.3 90.3L494 90.8L493.6 91.1L493.3 91.4L493 91.6L492.6 91.7L492.3 91.6L492 91L491.7 90.2L491.3 89.1L491 87.8L490.7 86.5L490.3 85.2L490 83.9L489.7 82.7L489.3 81.7L489 80.7L488.7 79.5L488.4 78.4L488 77.4L487.7 76.5L487.4 75.9L487 75.7L486.7 75.8L486.4 76.1L486 76.7L485.7 77.3L485.4 78.1L485.1 79L484.7 79.9L484.4 80.8L484.1 81.9L483.7 83.4L483.4 85L483.1 86.8L482.7 88.6L482.4 90.2L482.1 91.6L481.8 92.6L481.4 93.1L481.1 93.1L480.8 92.9L480.4 92.5L480.1 92L479.8 91.4L479.4 90.7L479.1 89.9L478.8 89L478.5 88L478.1 87L477.8 86L477.5 85L477.1 84L476.8 83L476.5 82L476.1 81.1L475.8 80.2L475.5 79.2L475.2 78.1L474.8 76.9L474.5 75.6L474.2 74.4L473.8 73.2L473.5 72.1L473.2 71.2L472.8 70.5L472.5 70L472.2 69.9L471.9 70L471.5 70.2L471.2 70.5L470.9 70.9L470.5 71.4L470.2 71.9L469.9 72.4L469.5 73L469.2 73.9L468.9 75L468.6 76.2L468.2 77.5L467.9 78.8L467.6 80L467.2 81.2L466.9 82.1L466.6 82.8L466.2 83.2L465.9 83.1L465.6 82.7L465.3 81.8L464.9 80.6L464.6 79.2L464.3 77.5L463.9 75.6L463.6 73.6L463.3 71.6L462.9 69.5L462.6 67.4L462.3 65.5L462 63.6L461.6 61.8L461.3 59.9L461 57.7L460.6 55.3L460.3 52.9L460 50.6L459.6 48.4L459.3 46.5L459 45L458.7 44L458.3 43.7L458 43.9L457.7 44.6L457.3 45.8L457 47.3L456.7 49.1L456.3 51.1L456 53.3L455.7 55.5L455.4 57.8L455 60.1L454.7 62.3L454.4 64.4L454 66.4L453.7 68.8L453.4 71.4L453 74.1L452.7 76.8L452.4 79.4L452.1 81.8L451.7 83.7L451.4 85.2L451.1 85.9L450.7 86L450.4 85.7L450.1 85.2L449.7 84.6L449.4 83.8L449.1 82.9L448.8 82L448.4 81L448.1 80.1L447.8 79.3L447.4 78.5L447.1 77.5L446.8 76.5L446.4 75.4L446.1 74.3L445.8 73.2L445.5 72.2L445.1 71.4L444.8 70.7L444.5 70.2L444.1 69.9L443.8 70L443.5 70.4L443.1 71.1L442.8 72.1L442.5 73.3L442.2 74.6L441.8 76.1L441.5 77.7L441.2 79.3L440.8 80.9L440.5 82.4L440.2 83.8L439.8 85.5L439.5 87.5L439.2 89.6L438.9 91.5L438.5 93.2L438.2 94.2L437.9 94.6L437.5 94.4L437.2 94.1L436.9 93.6L436.5 92.9L436.2 92.2L435.9 91.4L435.6 90.5L435.2 89.6L434.9 88.8L434.6 88L434.2 87.4L433.9 86.8L433.6 86.4L433.2 86.1L432.9 86L432.6 86.1L432.3 86.3L431.9 86.5L431.6 86.7L431.3 87.1L430.9 87.4L430.6 87.9L430.3 88.3L429.9 88.8L429.6 89.3L429.3 89.8L429 90.3L428.6 90.8L428.3 91.3L428 91.8L427.6 92.2L427.3 92.6L427 93L426.6 93.3L426.3 93.6L426 94L425.7 94.3L425.3 94.6L425 95z" fill="#ec1c24"/>
<rect x="333.2" y="107.6" width="92.6" height="24.8" fill="#ec1c24"/>
<rect x="521.8" y="107.6" width="86" height="24.8" fill="#ec1c24"/>
<path d="M338.2 132.4L338.3 132.4L338.4 132.4L338.5 132.4L338.6 132.4L338.8 107.6L338.9 132.4L339 132.4L339.1 132.4L339.2 132.4L339.3 132.4L339.4 132.4L339.5 132.4L339.6 107.6L339.7 132.4L339.9 132.4L340 132.4L340.1 132.4L340.2 132.4L340.3 132.4L340.4 132.4L340.5 132.4L340.6 107.6L340.7 132.4L340.8 132.4L341 107.6L341.1 132.4L341.2 132.4L341.3 132.4L341.4 132.4L341.5 132.4L341.6 132.4L341.7 132.4L341.8 132.4L341.9 132.4L342.1 107.6L342.2 132.4L342.3 107.6L342.4 132.4L342.5 132.4L342.6 107.6L342.7 132.4L342.8 132.4L342.9 132.4L343 132.4L343.2 132.4L343.3 132.4L343.4 132.4L343.5 132.4L343.6 132.4L343.7 132.4L343.8 107.6L343.9 132.4L344 132.4L344.1 102.8L344.3 132.4L344.4 132.4L344.5 132.4L344.6 132.4L344.7 132.4L344.8 132.4L344.9 132.4L345 132.4L345.1 132.4L345.2 107.6L345.4 132.4L345.5 132.4L345.6 132.4L345.7 132.4L345.8 132.4L345.9 132.4L346 132.4L346.1 107.6L346.2 107.6L346.3 132.4L346.5 132.4L346.6 102.8L346.7 132.4L346.8 132.4L346.9 132.4L347 132.4L347.1 132.4L347.2 132.4L347.3 132.4L347.4 132.4L347.6 132.4L347.7 132.4L347.8 132.4L347.9 132.4L348 132.4L348.1 132.4L348.2 132.4L348.3 132.4L348.4 132.4L348.5 132.4L348.7 132.4L348.8 132.4L348.9 132.4L349 132.4L349.1 132.4L349.2 132.4L349.3 132.4L349.4 102.8L349.5 132.4L349.6 132.4L349.8 132.4L349.9 132.4L350 132.4L350.1 132.4L350.2 132.4L350.3 132.4L350.4 132.4L350.5 132.4L350.6 132.4L350.7 132.4L350.9 132.4L351 132.4L351.1 132.4L351.2 132.4L351.3 107.6L351.4 102.8L351.5 132.4L351.6 132.4L351.7 107.6L351.8 132.4L352 132.4L352.1 132.4L352.2 132.4L352.3 132.4L352.4 132.4L352.5 132.4L352.6 107.6L352.7 132.4L352.8 132.4L352.9 132.4L353.1 132.4L353.2 132.4L353.3 102.8L353.4 107.6L353.5 132.4L353.6 132.4L353.7 132.4L353.8 132.4L353.9 132.4L354 132.4L354.2 132.4L354.3 132.4L354.4 132.4L354.5 107.6L354.6 132.4L354.7 132.4L354.8 132.4L354.9 102.8L355 132.4L355.1 132.4L355.3 132.4L355.4 132.4L355.5 132.4L355.6 132.4L355.7 132.4L355.8 132.4L355.9 132.4L356 132.4L356.1 132.4L356.2 132.4L356.4 132.4L356.5 132.4L356.6 107.6L356.7 132.4L356.8 132.4L356.9 132.4L357 132.4L357.1 132.4L357.2 132.4L357.3 107.6L357.5 107.6L357.6 132.4L357.7 102.8L357.8 132.4L357.9 132.4L358 132.4L358.1 132.4L358.2 132.4L358.3 132.4L358.4 132.4L358.6 132.4L358.7 132.4L358.8 132.4L358.9 132.4L359 132.4L359.1 132.4L359.2 107.6L359.3 132.4L359.4 132.4L359.5 132.4L359.7 132.4L359.8 132.4L359.9 107.6L360 132.4L360.1 107.6L360.2 132.4L360.3 132.4L360.4 132.4L360.5 132.4L360.6 132.4L360.8 107.6L360.9 132.4L361 132.4L361.1 107.6L361.2 132.4L361.3 132.4L361.4 132.4L361.5 132.4L361.6 132.4L361.7 132.4L361.9 107.6L362 132.4L362.1 132.4L362.2 132.4L362.3 132.4L362.4 132.4L362.5 132.4L362.6 132.4L362.7 132.4L362.8 132.4L363 132.4L363.1 132.4L363.2 132.4L363.3 132.4L363.4 132.4L363.5 132.4L363.6 132.4L363.7 132.4L363.8 132.4L363.9 132.4L364.1 132.4L364.2 132.4L364.3 132.4L364.4 132.4L364.5 107.6L364.6 132.4L364.7 132.4L364.8 107.6L364.9 132.4L365 132.4L365.2 132.4L365.3 132.4L365.4 107.6L365.5 107.6L365.6 132.4L365.7 132.4L365.8 132.4L365.9 132.4L366 132.4L366.1 132.4L366.3 132.4L366.4 132.4L366.5 132.4L366.6 132.4L366.7 132.4L366.8 107.6L366.9 107.6L367 132.4L367.1 132.4L367.2 132.4L367.4 107.6L367.5 132.4L367.6 132.4L367.7 132.4L367.8 132.4L367.9 132.4L368 107.6L368.1 132.4L368.2 132.4L368.3 107.6L368.5 132.4L368.6 107.6L368.7 132.4L368.8 132.4L368.9 132.4L369 132.4L369.1 132.4L369.2 132.4L369.3 107.6L369.4 132.4L369.6 132.4L369.7 107.6L369.8 132.4L369.9 132.4L370 132.4L370.1 132.4L370.2 132.4L370.3 107.6L370.4 107.6L370.5 132.4L370.7 132.4L370.8 132.4L370.9 132.4L371 132.4L371.1 132.4L371.2 132.4L371.3 132.4L371.4 132.4L371.5 132.4L371.6 132.4L371.8 107.6L371.9 132.4L372 132.4L372.1 107.6L372.2 132.4L372.3 132.4L372.4 102.8L372.5 132.4L372.6 107.6L372.7 132.4L372.9 132.4L373 132.4L373.1 132.4L373.2 107.6L373.3 99.7L373.4 107.6L373.5 99.7L373.6 107.6L373.7 107.6L373.8 132.4L374 132.4L374.1 132.4L374.2 132.4L374.3 107.6L374.4 107.6L374.5 132.4L374.6 132.4L374.7 102.8L374.8 132.4L374.9 132.4L375.1 132.4L375.2 132.4L375.3 107.6L375.4 107.6L375.5 132.4L375.6 132.4L375.7 132.4L375.8 107.6L375.9 132.4L376 132.4L376.2 132.4L376.3 132.4L376.4 132.4L376.5 132.4L376.6 132.4L376.7 107.6L376.8 107.6L376.9 102.8L377 132.4L377.1 102.8L377.3 132.4L377.4 132.4L377.5 132.4L377.6 107.6L377.7 107.6L377.8 132.4L377.9 132.4L378 102.8L378.1 107.6L378.2 132.4L378.4 132.4L378.5 107.6L378.6 132.4L378.7 132.4L378.8 107.6L378.9 132.4L379 132.4L379.1 107.6L379.2 132.4L379.3 132.4L379.5 132.4L379.6 132.4L379.7 102.8L379.8 107.6L379.9 132.4L380 132.4L380.1 132.4L380.2 102.8L380.3 107.6L380.4 132.4L380.6 132.4L380.7 102.8L380.8 132.4L380.9 132.4L381 132.4L381.1 102.8L381.2 132.4L381.3 132.4L381.4 132.4L381.5 132.4L381.7 107.6L381.8 107.6L381.9 132.4L382 107.6L382.1 132.4L382.2 102.8L382.3 102.8L382.4 107.6L382.5 132.4L382.6 132.4L382.8 107.6L382.9 132.4L383 132.4L383.1 132.4L383.2 107.6L383.3 107.6L383.4 102.8L383.5 132.4L383.6 102.8L383.7 102.8L383.9 107.6L384 107.6L384.1 132.4L384.2 132.4L384.3 102.8L384.4 132.4L384.5 107.6L384.6 132.4L384.7 132.4L384.8 107.6L385 107.6L385.1 132.4L385.2 99.7L385.3 102.8L385.4 132.4L385.5 132.4L385.6 132.4L385.7 95.3L385.8 107.6L385.9 132.4L386.1 107.6L386.2 132.4L386.3 97.3L386.4 132.4L386.5 132.4L386.6 95.3L386.7 102.8L386.8 132.4L386.9 107.6L387 132.4L387.2 97.3L387.3 97.3L387.4 132.4L387.5 132.4L387.6 99.7L387.7 107.6L387.8 132.4L387.9 97.3L388 132.4L388.1 91.8L388.3 132.4L388.4 99.7L388.5 102.8L388.6 132.4L388.7 97.3L388.8 107.6L388.9 132.4L389 132.4L389.1 107.6L389.2 99.7L389.4 132.4L389.5 95.3L389.6 132.4L389.7 97.3L389.8 99.7L389.9 132.4L390 132.4L390.1 132.4L390.2 102.8L390.3 102.8L390.5 91.8L390.6 132.4L390.7 132.4L390.8 102.8L390.9 132.4L391 99.7L391.1 97.3L391.2 107.6L391.3 97.3L391.4 132.4L391.6 132.4L391.7 107.6L391.8 132.4L391.9 102.8L392 132.4L392.1 132.4L392.2 132.4L392.3 91.8L392.4 132.4L392.5 132.4L392.7 97.3L392.8 95.3L392.9 102.8L393 95.3L393.1 132.4L393.2 99.7L393.3 99.7L393.4 132.4L393.5 99.7L393.6 99.7L393.8 132.4L393.9 132.4L394 132.4L394.1 132.4L394.2 132.4L394.3 132.4L394.4 132.4L394.5 99.7L394.6 132.4L394.7 93.5L394.9 93.5L395 132.4L395.1 132.4L395.2 97.3L395.3 102.8L395.4 99.7L395.5 132.4L395.6 95.3L395.7 132.4L395.8 97.3L396 132.4L396.1 107.6L396.2 132.4L396.3 97.3L396.4 132.4L396.5 132.4L396.6 132.4L396.7 132.4L396.8 132.4L396.9 132.4L397.1 97.3L397.2 95.3L397.3 102.8L397.4 99.7L397.5 95.3L397.6 132.4L397.7 107.6L397.8 90.3L397.9 95.3L398 91.8L398.2 132.4L398.3 95.3L398.4 132.4L398.5 93.5L398.6 132.4L398.7 95.3L398.8 90.3L398.9 87.8L399 102.8L399.1 132.4L399.3 93.5L399.4 132.4L399.5 132.4L399.6 132.4L399.7 93.5L399.8 132.4L399.9 132.4L400 95.3L400.1 132.4L400.2 91.8L400.4 97.3L400.5 95.3L400.6 132.4L400.7 95.3L400.8 132.4L400.9 95.3L401 91.8L401.1 95.3L401.2 95.3L401.3 132.4L401.5 97.3L401.6 95.3L401.7 91.8L401.8 107.6L401.9 132.4L402 91.8L402.1 93.5L402.2 132.4L402.3 91.8L402.4 95.3L402.6 95.3L402.7 88.8L402.8 88.8L402.9 102.8L403 95.3L403.1 132.4L403.2 91.8L403.3 132.4L403.4 102.8L403.5 91.8L403.7 97.3L403.8 97.3L403.9 95.3L404 132.4L404.1 132.4L404.2 99.7L404.3 102.8L404.4 95.3L404.5 97.3L404.6 132.4L404.8 95.3L404.9 97.3L405 91.8L405.1 95.3L405.2 95.3L405.3 132.4L405.4 93.5L405.5 91.8L405.6 102.8L405.7 90.3L405.9 95.3L406 132.4L406.1 132.4L406.2 132.4L406.3 95.3L406.4 93.5L406.5 93.5L406.6 97.3L406.7 102.8L406.8 132.4L407 90.3L407.1 132.4L407.2 97.3L407.3 132.4L407.4 99.7L407.5 132.4L407.6 95.3L407.7 132.4L407.8 132.4L407.9 93.5L408.1 102.8L408.2 97.3L408.3 132.4L408.4 93.5L408.5 93.5L408.6 95.3L408.7 132.4L408.8 132.4L408.9 132.4L409 132.4L409.2 132.4L409.3 95.3L409.4 132.4L409.5 132.4L409.6 107.6L409.7 132.4L409.8 132.4L409.9 102.8L410 132.4L410.1 91.8L410.3 132.4L410.4 132.4L410.5 88.8L410.6 132.4L410.7 132.4L410.8 132.4L410.9 95.3L411 97.3L411.1 132.4L411.2 99.7L411.4 97.3L411.5 132.4L411.6 87.8L411.7 91.8L411.8 99.7L411.9 91.8L412 90.3L412.1 86.3L412.2 88.8L412.3 87.8L412.5 91.8L412.6 95.3L412.7 132.4L412.8 86.3L412.9 86.3L413 87L413.1 132.4L413.2 93.5L413.3 95.3L413.4 95.3L413.6 87.8L413.7 90.3L413.8 91.8L413.9 132.4L414 132.4L414.1 132.4L414.2 95.3L414.3 90.3L414.4 93.5L414.5 88.8L414.7 132.4L414.8 132.4L414.9 132.4L415 132.4L415.1 88.8L415.2 91.8L415.3 132.4L415.4 84.4L415.5 132.4L415.6 90.3L415.8 132.4L415.9 87.8L416 97.3L416.1 87.8L416.2 132.4L416.3 83.3L416.4 87L416.5 132.4L416.6 87L416.7 83.3L416.9 132.4L417 88.8L417.1 85L417.2 132.4L417.3 87L417.4 82.8L417.5 91.8L417.6 85.6L417.7 88.8L417.8 132.4L418 88.8L418.1 87L418.2 132.4L418.3 91.8L418.4 132.4L418.5 91.8L418.6 132.4L418.7 132.4L418.8 88.8L418.9 91.8L419.1 90.3L419.2 88.8L419.3 95.3L419.4 132.4L419.5 91.8L419.6 91.8L419.7 132.4L419.8 132.4L419.9 90.3L420 86.3L420.2 83.3L420.3 132.4L420.4 132.4L420.5 132.4L420.6 86.3L420.7 88.8L420.8 132.4L420.9 132.4L421 86.3L421.1 99.7L421.3 132.4L421.4 87.8L421.5 95.3L421.6 93.5L421.7 132.4L421.8 90.3L421.9 95.3L422 132.4L422.1 132.4L422.2 132.4L422.4 97.3L422.5 93.5L422.6 132.4L422.7 132.4L422.8 132.4L422.9 132.4L423 91.8L423.1 132.4L423.2 132.4L423.3 132.4L423.5 93.5L423.6 93.5L423.7 86.3L423.8 132.4L423.9 90.3L424 88.8L424.1 90.3L424.2 132.4L424.3 102.8L424.4 132.4L424.6 97.3L424.7 132.4L424.8 91.8L424.9 88.8L425 91.8L425.1 95.3L425.2 88.8L425.3 90.3L425.4 95.3L425.5 97.3L425.7 87.8L425.8 91.8L425.9 91.8L426 91.8L426.1 99.7L426.2 95.3L426.3 99.7L426.4 88.8L426.5 95.3L426.6 99.7L426.8 91.8L426.9 99.7L427 99.7L427.1 107.6L427.2 90.3L427.3 102.8L427.4 88.8L427.5 87.8L427.6 93.5L427.7 91.8L427.9 97.3L428 91.8L428.1 107.6L428.2 107.6L428.3 84.4L428.4 88.8L428.5 107.6L428.6 87.8L428.7 87L428.8 88.8L429 87.8L429.1 85.6L429.2 102.8L429.3 87.8L429.4 107.6L429.5 99.7L429.6 102.8L429.7 85L429.8 85L429.9 102.8L430.1 102.8L430.2 83.3L430.3 83.8L430.4 85.6L430.5 107.6L430.6 84.4L430.7 87.8L430.8 85L430.9 83.8L431 107.6L431.2 86.3L431.3 83.8L431.4 84.4L431.5 107.6L431.6 87.8L431.7 86.3L431.8 85.6L431.9 85L432 85.6L432.1 86.3L432.3 83.8L432.4 81.5L432.5 80.3L432.6 83.8L432.7 87.8L432.8 107.6L432.9 85L433 99.7L433.1 85.6L433.2 102.8L433.4 102.8L433.5 81.9L433.6 82.3L433.7 86.3L433.8 83.3L433.9 107.6L434 99.7L434.1 83.3L434.2 102.8L434.3 86.3L434.5 82.8L434.6 87.8L434.7 85L434.8 107.6L434.9 85.6L435 82.3L435.1 90.3L435.2 87.8L435.3 85L435.4 99.7L435.6 107.6L435.7 91.8L435.8 88.8L435.9 87.8L436 91.8L436.1 91.8L436.2 85.6L436.3 102.8L436.4 90.3L436.5 91.8L436.7 107.6L436.8 90.3L436.9 87.8L437 87.8L437.1 99.7L437.2 95.3L437.3 102.8L437.4 99.7L437.5 102.8L437.6 99.7L437.8 91.8L437.9 87.8L438 102.8L438.1 95.3L438.2 97.3L438.3 102.8L438.4 102.8L438.5 107.6L438.6 86.3L438.7 90.3L438.9 99.7L439 107.6L439.1 95.3L439.2 83.8L439.3 102.8L439.4 87L439.5 81.1L439.6 84.4L439.7 99.7L439.8 85L440 82.8L440.1 102.8L440.2 107.6L440.3 82.8L440.4 79.7L440.5 82.8L440.6 79.7L440.7 102.8L440.8 77.9L440.9 77.4L441.1 76.4L441.2 77.4L441.3 79.3L441.4 76.4L441.5 75.1L441.6 75.7L441.7 76.4L441.8 75.5L441.9 72.6L442 73.5L442.2 74.2L442.3 72.6L442.4 73.1L442.5 73.1L442.6 73.9L442.7 70L442.8 71L442.9 70.3L443 69L443.1 69.6L443.3 69.6L443.4 72.1L443.5 68.5L443.6 68.5L443.7 70.1L443.8 70.5L443.9 68.6L444 69.1L444.1 67.8L444.2 70.2L444.4 69.2L444.5 68.6L444.6 68.9L444.7 70.7L444.8 71.2L444.9 70.3L445 68.3L445.1 71.2L445.2 71L445.3 70L445.5 70.7L445.6 70.1L445.7 72.5L445.8 72.8L445.9 71.5L446 72.9L446.1 73.1L446.2 74.6L446.3 74.8L446.4 75.1L446.6 73.2L446.7 74.8L446.8 76.6L446.9 75.5L447 76.9L447.1 77.1L447.2 75.5L447.3 78.1L447.4 73.7L447.5 74.4L447.7 79L447.8 75.5L447.9 77.9L448 77.1L448.1 76.9L448.2 79L448.3 79L448.4 80.3L448.5 77.1L448.6 79.3L448.8 80.7L448.9 81.1L449 81.5L449.1 82.3L449.2 81.1L449.3 83.3L449.4 80.7L449.5 81.1L449.6 83.8L449.7 83.8L449.9 82.3L450 81.9L450.1 82.8L450.2 82.8L450.3 81.5L450.4 86.3L450.5 86.3L450.6 81.1L450.7 88.8L450.8 85.6L451 87L451.1 83.3L451.2 86.3L451.3 79.7L451.4 79.7L451.5 81.1L451.6 81.9L451.7 83.3L451.8 80.3L451.9 81.5L452.1 80.7L452.2 81.9L452.3 79.7L452.4 80.3L452.5 76L452.6 75.5L452.7 77.1L452.8 75.1L452.9 74.6L453 73.7L453.2 72.3L453.3 71.5L453.4 69.4L453.5 68L453.6 69L453.7 66.7L453.8 66.8L453.9 68.3L454 65.5L454.1 66L454.3 63.6L454.4 64.1L454.5 62.2L454.6 61.6L454.7 62L454.8 61.6L454.9 59.7L455 60L455.1 58.9L455.2 57.6L455.4 57.4L455.5 56.3L455.6 55L455.7 54.9L455.8 54L455.9 53.7L456 53.7L456.1 51.9L456.2 51.3L456.3 50.4L456.5 49.8L456.6 49.3L456.7 48.7L456.8 47.9L456.9 47.5L457 47.1L457.1 46.1L457.2 45.7L457.3 45.1L457.4 44.9L457.6 44.4L457.7 44.3L457.8 43.9L457.9 43.4L458 43L458.1 43.3L458.2 43L458.3 43.3L458.4 43.5L458.5 43.4L458.7 43.5L458.8 43.8L458.9 44.3L459 44.5L459.1 44.7L459.2 45.6L459.3 45.9L459.4 46.5L459.5 47L459.6 47.7L459.8 48.3L459.9 49.3L460 50.4L460.1 51.2L460.2 51.7L460.3 52.7L460.4 53.5L460.5 54.1L460.6 54.8L460.7 55.8L460.9 56.2L461 56.3L461.1 58.3L461.2 58.9L461.3 59.9L461.4 59.4L461.5 60.2L461.6 62L461.7 61.5L461.8 63.2L462 62.6L462.1 63.4L462.2 64L462.3 66L462.4 65.2L462.5 65.8L462.6 65.7L462.7 67.1L462.8 67.9L462.9 69.2L463.1 68.7L463.2 69.1L463.3 69.8L463.4 70.3L463.5 71.9L463.6 74L463.7 72.9L463.8 72.2L463.9 74L464 75.1L464.2 76.2L464.3 76.6L464.4 76.9L464.5 79L464.6 76.6L464.7 81.5L464.8 78.4L464.9 79.7L465 80.7L465.1 78.1L465.3 80L465.4 81.5L465.5 81.1L465.6 78.1L465.7 79.3L465.8 80.3L465.9 82.3L466 80.3L466.1 82.8L466.2 78.4L466.4 85.6L466.5 84.4L466.6 81.9L466.7 79.3L466.8 78.7L466.9 81.1L467 80.3L467.1 80.3L467.2 79L467.3 77.4L467.5 76.6L467.6 80L467.7 79L467.8 80L467.9 78.4L468 77.4L468.1 75.3L468.2 74L468.3 74L468.4 78.4L468.6 73.2L468.7 76L468.8 72.6L468.9 74.6L469 71.3L469.1 71.5L469.2 71.8L469.3 73.5L469.4 71.4L469.5 70.9L469.7 69.6L469.8 71.9L469.9 71.5L470 70L470.1 69.9L470.2 70L470.3 71.2L470.4 71.2L470.5 70.1L470.6 69.7L470.8 69.2L470.9 70.6L471 71.3L471.1 68.6L471.2 69.6L471.3 69.5L471.4 68.5L471.5 70.6L471.6 69.1L471.7 69.3L471.9 68.5L472 69L472.1 68.4L472.2 70.1L472.3 69.3L472.4 69.7L472.5 68.1L472.6 68.1L472.7 69.2L472.8 68.8L473 69.8L473.1 70.5L473.2 68.9L473.3 70.5L473.4 69.4L473.5 68.9L473.6 72.5L473.7 71L473.8 72.3L473.9 71.9L474.1 75.7L474.2 72.5L474.3 74.4L474.4 73.5L474.5 74L474.6 74.2L474.7 77.6L474.8 74.9L474.9 77.6L475 77.6L475.2 74.8L475.3 77.4L475.4 79.7L475.5 76.2L475.6 76.6L475.7 81.5L475.8 79L475.9 78.4L476 78.4L476.1 77.1L476.3 80L476.4 81.1L476.5 82.3L476.6 82.3L476.7 81.9L476.8 78.7L476.9 80L477 83.8L477.1 80.7L477.2 82.8L477.4 79.7L477.5 82.8L477.6 83.8L477.7 84.4L477.8 85.6L477.9 83.3L478 83.8L478.1 80.3L478.2 83.8L478.3 85L478.5 85L478.6 87L478.7 83.3L478.8 83.3L478.9 86.3L479 88.8L479.1 88.8L479.2 95.3L479.3 84.4L479.4 85.6L479.6 95.3L479.7 93.5L479.8 84.4L479.9 95.3L480 85.6L480.1 99.7L480.2 90.3L480.3 90.3L480.4 99.7L480.5 95.3L480.7 88.8L480.8 84.4L480.9 97.3L481 86.3L481.1 88.8L481.2 87L481.3 95.3L481.4 90.3L481.5 95.3L481.6 95.3L481.8 88.8L481.9 87.8L482 85L482.1 87.8L482.2 87.8L482.3 93.5L482.4 91.8L482.5 91.8L482.6 86.3L482.7 87.8L482.9 83.8L483 83.8L483.1 81.9L483.2 87.8L483.3 81.5L483.4 82.3L483.5 80.3L483.6 83.8L483.7 83.3L483.8 80.3L484 79L484.1 80L484.2 78.7L484.3 79.7L484.4 79.3L484.5 79.3L484.6 77.4L484.7 77.4L484.8 77.1L484.9 77.9L485.1 75.7L485.2 80L485.3 77.9L485.4 75.5L485.5 77.4L485.6 74.6L485.7 75.3L485.8 76L485.9 75.3L486 74.8L486.2 74.8L486.3 74.8L486.4 75.3L486.5 73.1L486.6 72.6L486.7 74L486.8 76.2L486.9 72.9L487 76L487.1 74.6L487.3 73.5L487.4 73.1L487.5 74L487.6 74L487.7 76L487.8 74.9L487.9 76.2L488 77.6L488.1 75.5L488.2 77.9L488.4 76L488.5 76L488.6 76.4L488.7 77.1L488.8 78.7L488.9 77.1L489 78.7L489.1 78.4L489.2 77.6L489.3 77.6L489.5 78.1L489.6 83.8L489.7 79.3L489.8 84.4L489.9 83.3L490 80.7L490.1 78.7L490.2 86.3L490.3 81.9L490.4 81.1L490.6 86.3L490.7 82.8L490.8 84.4L490.9 78.7L491 84.4L491.1 86.3L491.2 87L491.3 85L491.4 87L491.5 84.4L491.7 87.8L491.8 87L491.9 91.8L492 87.8L492.1 88.8L492.2 85.6L492.3 87L492.4 99.7L492.5 86.3L492.6 91.8L492.8 86.3L492.9 86.3L493 85L493.1 95.3L493.2 88.8L493.3 83.8L493.4 90.3L493.5 87L493.6 90.3L493.7 88.8L493.9 87L494 83.8L494.1 85.6L494.2 88.8L494.3 93.5L494.4 87L494.5 91.8L494.6 90.3L494.7 88.8L494.8 83.8L495 88.8L495.1 86.3L495.2 85L495.3 84.4L495.4 85L495.5 85L495.6 87L495.7 83.8L495.8 85.6L495.9 81.9L496.1 84.4L496.2 84.4L496.3 85L496.4 87.8L496.5 83.8L496.6 84.4L496.7 87L496.8 85.6L496.9 86.3L497 80.7L497.2 85.6L497.3 80L497.4 81.5L497.5 83.3L497.6 81.1L497.7 82.3L497.8 84.4L497.9 81.5L498 81.1L498.1 81.9L498.3 82.3L498.4 80.3L498.5 81.5L498.6 80L498.7 78.7L498.8 79.7L498.9 80.7L499 81.5L499.1 80.3L499.2 80L499.4 79.3L499.5 80L499.6 81.9L499.7 81.5L499.8 80L499.9 80.3L500 81.5L500.1 80.3L500.2 78.4L500.3 77.6L500.5 79L500.6 77.9L500.7 81.5L500.8 78.4L500.9 77.6L501 78.1L501.1 78.7L501.2 78.4L501.3 78.1L501.4 77.4L501.6 78.1L501.7 78.4L501.8 76.6L501.9 77.1L502 76.6L502.1 73.1L502.2 77.4L502.3 74L502.4 73.4L502.5 72.6L502.7 73.1L502.8 72.2L502.9 72.3L503 73.2L503.1 71.5L503.2 70.8L503.3 70L503.4 69L503.5 68.3L503.6 67L503.8 65.7L503.9 67.2L504 65.5L504.1 64.6L504.2 64.2L504.3 62.8L504.4 63.6L504.5 60.7L504.6 59.9L504.7 59.5L504.9 57.2L505 54.9L505.1 54.1L505.2 51.9L505.3 50.3L505.4 49.2L505.5 47.7L505.6 45.8L505.7 44L505.8 42.4L506 41.1L506.1 39.5L506.2 37.1L506.3 35.4L506.4 32.9L506.5 30.6L506.6 28.3L506.7 26.3L506.8 24.2L506.9 22.4L507.1 20.9L507.2 19.8L507.3 18.9L507.4 18.6L507.5 18.8L507.6 19.6L507.7 20.7L507.8 22.4L507.9 24.3L508 26.5L508.2 28.8L508.3 31.3L508.4 33.8L508.5 36L508.6 38.2L508.7 40.2L508.8 42.1L508.9 43.7L509 45.6L509.1 46.4L509.3 48.3L509.4 50L509.5 51.5L509.6 52.4L509.7 54.1L509.8 55.1L509.9 56.7L510 57.7L510.1 59.3L510.2 62.4L510.4 61.1L510.5 64L510.6 63.3L510.7 65.2L510.8 67L510.9 67.8L511 69.1L511.1 69.1L511.2 69.9L511.3 72.9L511.5 74.6L511.6 71.9L511.7 76.4L511.8 73.5L511.9 75.3L512 76.9L512.1 78.7L512.2 76.9L512.3 80L512.4 79.3L512.6 82.3L512.7 81.5L512.8 80L512.9 83.8L513 81.1L513.1 82.8L513.2 83.3L513.3 82.3L513.4 86.3L513.5 82.3L513.7 83.3L513.8 81.1L513.9 84.4L514 83.8L514.1 83.8L514.2 85.6L514.3 83.8L514.4 90.3L514.5 84.4L514.6 81.5L514.8 86.3L514.9 87.8L515 87.8L515.1 85L515.2 85L515.3 87.8L515.4 87.8L515.5 86.3L515.6 87L515.7 88.8L515.9 86.3L516 87.8L516.1 86.3L516.2 86.3L516.3 95.3L516.4 93.5L516.5 87L516.6 95.3L516.7 87.8L516.8 85.6L517 91.8L517.1 93.5L517.2 87L517.3 95.3L517.4 87L517.5 93.5L517.6 95.3L517.7 88.8L517.8 95.3L517.9 90.3L518.1 93.5L518.2 88.8L518.3 102.8L518.4 90.3L518.5 84.4L518.6 97.3L518.7 95.3L518.8 90.3L518.9 90.3L519 90.3L519.2 87L519.3 93.5L519.4 95.3L519.5 95.3L519.6 91.8L519.7 93.5L519.8 90.3L519.9 93.5L520 95.3L520.1 87.8L520.3 88.8L520.4 93.5L520.5 97.3L520.6 99.7L520.7 99.7L520.8 95.3L520.9 95.3L521 91.8L521.1 93.5L521.2 86.3L521.4 99.7L521.5 102.8L521.6 97.3L521.7 107.6L521.8 97.3L521.9 99.7L522 99.7L522.1 95.3L522.2 90.3L522.3 99.7L522.5 88.8L522.6 97.3L522.7 95.3L522.8 132.4L522.9 93.5L523 88.8L523.1 91.8L523.2 97.3L523.3 97.3L523.4 91.8L523.6 132.4L523.7 99.7L523.8 90.3L523.9 93.5L524 132.4L524.1 97.3L524.2 132.4L524.3 102.8L524.4 93.5L524.5 132.4L524.7 132.4L524.8 99.7L524.9 132.4L525 97.3L525.1 102.8L525.2 132.4L525.3 102.8L525.4 93.5L525.5 95.3L525.6 132.4L525.8 97.3L525.9 132.4L526 132.4L526.1 132.4L526.2 88.8L526.3 93.5L526.4 107.6L526.5 99.7L526.6 97.3L526.7 132.4L526.9 132.4L527 102.8L527.1 90.3L527.2 107.6L527.3 132.4L527.4 132.4L527.5 102.8L527.6 91.8L527.7 97.3L527.8 132.4L528 93.5L528.1 95.3L528.2 93.5L528.3 132.4L528.4 102.8L528.5 132.4L528.6 132.4L528.7 107.6L528.8 132.4L528.9 132.4L529.1 95.3L529.2 132.4L529.3 132.4L529.4 132.4L529.5 97.3L529.6 107.6L529.7 132.4L529.8 95.3L529.9 132.4L530 132.4L530.2 97.3L530.3 132.4L530.4 132.4L530.5 102.8L530.6 132.4L530.7 95.3L530.8 132.4L530.9 132.4L531 99.7L531.1 107.6L531.3 132.4L531.4 97.3L531.5 107.6L531.6 102.8L531.7 132.4L531.8 95.3L531.9 132.4L532 102.8L532.1 132.4L532.2 107.6L532.4 99.7L532.5 132.4L532.6 102.8L532.7 132.4L532.8 107.6L532.9 97.3L533 132.4L533.1 99.7L533.2 132.4L533.3 132.4L533.5 132.4L533.6 102.8L533.7 102.8L533.8 132.4L533.9 132.4L534 97.3L534.1 132.4L534.2 102.8L534.3 132.4L534.4 132.4L534.6 132.4L534.7 132.4L534.8 95.3L534.9 95.3L535 132.4L535.1 107.6L535.2 99.7L535.3 132.4L535.4 132.4L535.5 99.7L535.7 132.4L535.8 102.8L535.9 132.4L536 132.4L536.1 132.4L536.2 132.4L536.3 97.3L536.4 132.4L536.5 132.4L536.6 102.8L536.8 97.3L536.9 132.4L537 132.4L537.1 132.4L537.2 99.7L537.3 102.8L537.4 90.3L537.5 99.7L537.6 132.4L537.7 107.6L537.9 132.4L538 99.7L538.1 107.6L538.2 102.8L538.3 107.6L538.4 95.3L538.5 132.4L538.6 132.4L538.7 132.4L538.8 132.4L539 132.4L539.1 132.4L539.2 132.4L539.3 107.6L539.4 102.8L539.5 102.8L539.6 97.3L539.7 97.3L539.8 107.6L539.9 132.4L540.1 97.3L540.2 132.4L540.3 107.6L540.4 132.4L540.5 132.4L540.6 132.4L540.7 107.6L540.8 132.4L540.9 102.8L541 102.8L541.2 132.4L541.3 132.4L541.4 132.4L541.5 132.4L541.6 107.6L541.7 132.4L541.8 132.4L541.9 99.7L542 132.4L542.1 107.6L542.3 95.3L542.4 107.6L542.5 102.8L542.6 102.8L542.7 102.8L542.8 132.4L542.9 132.4L543 107.6L543.1 132.4L543.2 102.8L543.4 132.4L543.5 132.4L543.6 107.6L543.7 132.4L543.8 132.4L543.9 132.4L544 107.6L544.1 132.4L544.2 132.4L544.3 102.8L544.5 132.4L544.6 132.4L544.7 102.8L544.8 99.7L544.9 107.6L545 102.8L545.1 132.4L545.2 107.6L545.3 132.4L545.4 132.4L545.6 132.4L545.7 99.7L545.8 107.6L545.9 132.4L546 102.8L546.1 97.3L546.2 132.4L546.3 99.7L546.4 102.8L546.5 99.7L546.7 132.4L546.8 132.4L546.9 102.8L547 132.4L547.1 132.4L547.2 107.6L547.3 102.8L547.4 95.3L547.5 132.4L547.6 132.4L547.8 107.6L547.9 102.8L548 97.3L548.1 102.8L548.2 132.4L548.3 132.4L548.4 132.4L548.5 132.4L548.6 132.4L548.7 132.4L548.9 132.4L549 132.4L549.1 99.7L549.2 132.4L549.3 102.8L549.4 102.8L549.5 132.4L549.6 95.3L549.7 132.4L549.8 132.4L550 107.6L550.1 132.4L550.2 132.4L550.3 132.4L550.4 102.8L550.5 132.4L550.6 107.6L550.7 102.8L550.8 132.4L550.9 99.7L551.1 99.7L551.2 132.4L551.3 99.7L551.4 107.6L551.5 107.6L551.6 107.6L551.7 107.6L551.8 97.3L551.9 132.4L552 107.6L552.2 132.4L552.3 132.4L552.4 107.6L552.5 102.8L552.6 102.8L552.7 107.6L552.8 99.7L552.9 107.6L553 132.4L553.1 132.4L553.3 102.8L553.4 132.4L553.5 102.8L553.6 132.4L553.7 107.6L553.8 107.6L553.9 132.4L554 107.6L554.1 132.4L554.2 107.6L554.4 107.6L554.5 132.4L554.6 102.8L554.7 107.6L554.8 132.4L554.9 107.6L555 132.4L555.1 99.7L555.2 132.4L555.3 132.4L555.5 132.4L555.6 107.6L555.7 132.4L555.8 132.4L555.9 132.4L556 132.4L556.1 132.4L556.2 107.6L556.3 132.4L556.4 132.4L556.6 107.6L556.7 132.4L556.8 107.6L556.9 132.4L557 132.4L557.1 132.4L557.2 107.6L557.3 107.6L557.4 132.4L557.5 132.4L557.7 132.4L557.8 102.8L557.9 132.4L558 132.4L558.1 132.4L558.2 132.4L558.3 99.7L558.4 132.4L558.5 107.6L558.6 107.6L558.8 132.4L558.9 132.4L559 132.4L559.1 102.8L559.2 132.4L559.3 132.4L559.4 132.4L559.5 132.4L559.6 132.4L559.7 132.4L559.9 107.6L560 102.8L560.1 102.8L560.2 132.4L560.3 132.4L560.4 102.8L560.5 132.4L560.6 107.6L560.7 107.6L560.8 107.6L561 132.4L561.1 132.4L561.2 107.6L561.3 132.4L561.4 132.4L561.5 132.4L561.6 132.4L561.7 132.4L561.8 97.3L561.9 132.4L562.1 102.8L562.2 132.4L562.3 107.6L562.4 132.4L562.5 132.4L562.6 132.4L562.7 97.3L562.8 132.4L562.9 132.4L563 132.4L563.2 102.8L563.3 132.4L563.4 132.4L563.5 132.4L563.6 132.4L563.7 132.4L563.8 132.4L563.9 107.6L564 102.8L564.1 107.6L564.3 102.8L564.4 132.4L564.5 132.4L564.6 102.8L564.7 132.4L564.8 132.4L564.9 132.4L565 132.4L565.1 132.4L565.2 132.4L565.4 132.4L565.5 132.4L565.6 132.4L565.7 107.6L565.8 132.4L565.9 132.4L566 107.6L566.1 132.4L566.2 132.4L566.3 132.4L566.5 132.4L566.6 132.4L566.7 132.4L566.8 102.8L566.9 132.4L567 132.4L567.1 132.4L567.2 132.4L567.3 107.6L567.4 107.6L567.6 132.4L567.7 132.4L567.8 132.4L567.9 132.4L568 107.6L568.1 132.4L568.2 107.6L568.3 132.4L568.4 102.8L568.5 132.4L568.7 107.6L568.8 107.6L568.9 132.4L569 132.4L569.1 107.6L569.2 102.8L569.3 132.4L569.4 102.8L569.5 107.6L569.6 132.4L569.8 132.4L569.9 132.4L570 107.6L570.1 107.6L570.2 132.4L570.3 132.4L570.4 99.7L570.5 132.4L570.6 107.6L570.7 107.6L570.9 107.6L571 132.4L571.1 132.4L571.2 102.8L571.3 132.4L571.4 132.4L571.5 107.6L571.6 132.4L571.7 132.4L571.8 132.4L572 132.4L572.1 132.4L572.2 132.4L572.3 132.4L572.4 132.4L572.5 102.8L572.6 132.4L572.7 132.4L572.8 132.4L572.9 132.4L573.1 132.4L573.2 102.8L573.3 107.6L573.4 107.6L573.5 132.4L573.6 132.4L573.7 132.4L573.8 132.4L573.9 107.6L574 132.4L574.2 132.4L574.3 102.8L574.4 132.4L574.5 107.6L574.6 132.4L574.7 132.4L574.8 132.4L574.9 132.4L575 102.8L575.1 132.4L575.3 132.4L575.4 102.8L575.5 132.4L575.6 107.6L575.7 132.4L575.8 107.6L575.9 132.4L576 107.6L576.1 132.4L576.2 107.6L576.4 132.4L576.5 132.4L576.6 107.6L576.7 132.4L576.8 132.4L576.9 132.4L577 132.4L577.1 132.4L577.2 107.6L577.3 107.6L577.5 132.4L577.6 132.4L577.7 132.4L577.8 132.4L577.9 132.4L578 132.4L578.1 132.4L578.2 99.7L578.3 132.4L578.4 132.4L578.6 132.4L578.7 102.8L578.8 132.4L578.9 132.4L579 102.8L579.1 107.6L579.2 132.4L579.3 132.4L579.4 102.8L579.5 132.4L579.7 107.6L579.8 132.4L579.9 107.6L580 132.4L580.1 107.6L580.2 132.4L580.3 107.6L580.4 107.6L580.5 107.6L580.6 107.6L580.8 132.4L580.9 132.4L581 132.4L581.1 132.4L581.2 132.4L581.3 102.8L581.4 132.4L581.5 132.4L581.6 132.4L581.7 132.4L581.9 132.4L582 132.4L582.1 132.4L582.2 132.4L582.3 132.4L582.4 132.4L582.5 107.6L582.6 132.4L582.7 107.6L582.8 132.4L583 107.6L583.1 132.4L583.2 132.4L583.3 132.4L583.4 132.4L583.5 132.4L583.6 132.4L583.7 132.4L583.8 132.4L583.9 107.6L584.1 132.4L584.2 132.4L584.3 132.4L584.4 107.6L584.5 132.4L584.6 132.4L584.7 132.4L584.8 132.4L584.9 107.6L585 132.4L585.2 132.4L585.3 107.6L585.4 132.4L585.5 132.4L585.6 132.4L585.7 132.4L585.8 132.4L585.9 132.4L586 107.6L586.1 132.4L586.3 132.4L586.4 132.4L586.5 132.4L586.6 132.4L586.7 107.6L586.8 107.6L586.9 107.6L587 132.4L587.1 107.6L587.2 132.4L587.4 132.4L587.5 107.6L587.6 132.4L587.7 132.4L587.8 132.4L587.9 132.4L588 132.4L588.1 132.4L588.2 132.4L588.3 132.4L588.5 132.4L588.6 132.4L588.7 132.4L588.8 132.4L588.9 132.4L589 132.4L589.1 132.4L589.2 132.4L589.3 132.4L589.4 132.4L589.6 132.4L589.7 132.4L589.8 132.4L589.9 132.4L590 132.4L590.1 132.4L590.2 132.4L590.3 132.4L590.4 132.4L590.5 132.4L590.7 132.4L590.8 132.4L590.9 132.4L591 132.4L591.1 132.4L591.2 132.4L591.3 132.4L591.4 132.4L591.5 132.4L591.6 107.6L591.8 132.4L591.9 107.6L592 132.4L592.1 107.6L592.2 107.6L592.3 132.4L592.4 132.4L592.5 132.4L592.6 132.4L592.7 132.4L592.9 132.4L593 132.4L593.1 102.8L593.2 132.4L593.3 132.4L593.4 132.4L593.5 107.6L593.6 132.4L593.7 132.4L593.8 132.4L594 132.4L594.1 132.4L594.2 132.4L594.3 132.4L594.4 132.4L594.5 132.4L594.6 132.4L594.7 132.4L594.8 132.4L594.9 132.4L595.1 132.4L595.2 132.4L595.3 132.4L595.4 107.6L595.5 132.4L595.6 132.4L595.7 132.4L595.8 132.4L595.9 132.4L596 132.4L596.2 132.4L596.3 132.4L596.4 132.4L596.5 132.4L596.6 132.4L596.7 132.4L596.8 132.4L596.9 132.4L597 132.4L597.1 132.4L597.3 132.4L597.4 132.4L597.5 132.4L597.6 132.4L597.7 132.4L597.8 132.4L597.9 132.4L598 132.4L598.1 132.4L598.2 132.4L598.4 132.4L598.5 132.4L598.6 132.4L598.7 132.4L598.8 132.4L598.9 132.4L599 132.4L599.1 132.4L599.2 107.6L599.3 107.6L599.5 132.4L599.6 132.4L599.7 132.4L599.8 132.4L599.9 132.4L600 132.4L600.1 107.6L600.2 132.4L600.3 132.4L600.4 132.4L600.6 132.4L600.7 132.4L600.8 132.4L600.9 132.4L601 132.4L601.1 132.4L601.2 132.4L601.3 132.4L601.4 132.4L601.5 107.6L601.7 132.4L601.8 132.4L601.9 132.4L602 132.4L602.1 132.4L602.2 132.4L602.3 107.6L602.4 132.4L602.5 132.4L602.6 132.4L602.8 132.4" fill="none" stroke="#ec1c24" stroke-width="1.0" stroke-linejoin="round"/>
<path d="M466.7 144.2L467 143.8L467.3 143.3L467.7 142.8L468 142.4L468.3 141.9L468.7 141.4L469 141L469.3 140.5L469.7 140.1L470 139.6L470.3 139L470.6 138.5L471 137.8L471.3 137.2L471.6 136.5L472 135.7L472.3 134.8L472.6 133.9L473 133L473.3 131.9L473.6 130.8L473.9 129.7L474.3 128.5L474.6 127.2L474.9 125.8L475.3 124.2L475.6 122.5L475.9 120.6L476.3 118.6L476.6 116.5L476.9 114.4L477.2 112.1L477.6 109.9L477.9 107.6L478.2 105.1L478.6 102.1L478.9 98.9L479.2 95.9L479.6 93.5L479.9 92.1L480.2 91.8L480.5 92.9L480.9 94.9L481.2 97.6L481.5 100.7L481.9 103.9L482.2 106.8L482.5 109.4L482.9 112.2L483.2 115.2L483.5 118L483.8 120.6L484.2 122.8L484.5 124.4L484.8 125.6L485.2 126.8L485.5 127.8L485.8 128.7L486.2 129.5L486.5 130.3L486.8 131L487.1 131.7L487.5 132.3L487.8 132.8L488.1 133.4L488.5 133.9L488.8 134.4L489.1 134.9L489.5 135.4L489.8 135.9L490.1 136.4L490.4 136.9L490.8 137.3L491.1 137.7L491.4 138L491.8 138.3L492.1 138.6L492.4 138.8L492.8 138.9L493.1 138.9L493.4 138.9L493.7 138.8L494.1 138.7L494.4 138.6L494.7 138.4L495.1 138.2L495.4 138L495.7 137.8L496.1 137.5L496.4 137.2L496.7 136.9L497 136.6L497.4 136.3L497.7 136L498 135.7L498.4 135.3L498.7 134.9L499 134.5L499.4 134L499.7 133.5L500 132.9L500.3 132.3L500.7 131.6L501 130.8L501.3 130L501.7 129.1L502 128.1L502.3 126.7L502.7 125.2L503 123.4L503.3 121.3L503.6 119.1L504 116.8L504.3 114.2L504.6 111L505 107.2L505.3 103L505.6 98.8L506 94.7L506.3 90.7L506.6 86L506.9 81.1L507.3 76.8L507.6 73.8L507.9 72.8L508.3 74.2L508.6 77.6L508.9 82.2L509.3 87.5L509.6 92.7L509.9 98.2L510.2 104.8L510.6 111.7L510.9 118.1L511.2 123.6L511.6 129.3L511.9 134.6L512.2 139.1L512.6 142.6L512.9 144.9L513.2 146.5L513.5 148L513.9 149.2L514.2 150.2L514.5 151L514.5 158L514.2 157.2L513.9 156.2L513.5 155L513.2 153.5L512.9 151.9L512.6 149.5L512.2 144.7L511.9 138.7L511.6 132.2L511.2 125.7L510.9 119.6L510.6 112.8L510.2 105.9L509.9 99.3L509.6 93.8L509.3 88.6L508.9 83.3L508.6 78.7L508.3 75.3L507.9 73.9L507.6 74.9L507.3 77.9L506.9 82.2L506.6 87.1L506.3 91.8L506 95.8L505.6 99.9L505.3 104.1L505 108.3L504.6 112.1L504.3 115.4L504 118.1L503.6 120.7L503.3 123.2L503 125.4L502.7 127.4L502.3 129.3L502 130.8L501.7 132L501.3 133.1L501 134.1L500.7 135L500.3 135.9L500 136.6L499.7 137.4L499.4 138L499 138.6L498.7 139.2L498.4 139.7L498 140.1L497.7 140.5L497.4 141L497 141.4L496.7 141.8L496.4 142.2L496.1 142.6L495.7 142.9L495.4 143.2L495.1 143.5L494.7 143.8L494.4 144L494.1 144.2L493.7 144.3L493.4 144.4L493.1 144.4L492.8 144.4L492.4 144.2L492.1 144L491.8 143.7L491.4 143.3L491.1 142.8L490.8 142.3L490.4 141.7L490.1 141.1L489.8 140.5L489.5 139.8L489.1 139.2L488.8 138.5L488.5 137.8L488.1 137.2L487.8 136.5L487.5 135.8L487.1 135.1L486.8 134.3L486.5 133.5L486.2 132.5L485.8 131.5L485.5 130.5L485.2 129.3L484.8 128L484.5 126.6L484.2 124.8L483.8 122.3L483.5 119.5L483.2 116.4L482.9 113.4L482.5 110.5L482.2 107.9L481.9 105L481.5 101.8L481.2 98.7L480.9 96L480.5 94L480.2 92.9L479.9 93.2L479.6 94.6L479.2 97L478.9 100L478.6 103.2L478.2 106.2L477.9 108.7L477.6 111L477.2 113.2L476.9 115.6L476.6 117.9L476.3 120.2L475.9 122.3L475.6 124.4L475.3 126.4L474.9 128.2L474.6 129.8L474.3 131.3L473.9 132.7L473.6 134.1L473.3 135.4L473 136.7L472.6 137.9L472.3 139.1L472 140.2L471.6 141.2L471.3 142.1L471 143L470.6 143.8L470.3 144.6L470 145.3L469.7 146L469.3 146.7L469 147.4L468.7 148L468.3 148.6L468 149.2L467.7 149.8L467.3 150.3L467 150.8L466.7 151.2z" fill="#1d3f95"/>
<rect x="333.2" y="160.8" width="134.2" height="31.2" fill="#1d3f95"/>
<rect x="514.1" y="160.8" width="93.7" height="31.2" fill="#1d3f95"/>
<path d="M338.2 192L338.3 192L338.4 160.8L338.5 192L338.6 192L338.8 160.8L338.9 160.8L339 192L339.1 192L339.2 192L339.3 192L339.4 192L339.5 192L339.6 192L339.7 192L339.9 192L340 192L340.1 192L340.2 192L340.3 192L340.4 192L340.5 192L340.6 192L340.7 192L340.8 192L341 192L341.1 192L341.2 160.8L341.3 192L341.4 192L341.5 192L341.6 156L341.7 160.8L341.8 192L341.9 192L342.1 160.8L342.2 192L342.3 192L342.4 192L342.5 192L342.6 192L342.7 192L342.8 192L342.9 192L343 192L343.2 192L343.3 192L343.4 160.8L343.5 192L343.6 192L343.7 192L343.8 192L343.9 192L344 192L344.1 192L344.3 192L344.4 192L344.5 160.8L344.6 192L344.7 192L344.8 192L344.9 192L345 192L345.1 192L345.2 192L345.4 192L345.5 192L345.6 192L345.7 192L345.8 192L345.9 160.8L346 192L346.1 160.8L346.2 192L346.3 192L346.5 160.8L346.6 192L346.7 160.8L346.8 192L346.9 192L347 192L347.1 192L347.2 192L347.3 192L347.4 192L347.6 192L347.7 192L347.8 192L347.9 160.8L348 192L348.1 160.8L348.2 192L348.3 192L348.4 192L348.5 192L348.7 192L348.8 192L348.9 192L349 192L349.1 192L349.2 192L349.3 192L349.4 192L349.5 192L349.6 192L349.8 192L349.9 192L350 192L350.1 192L350.2 160.8L350.3 192L350.4 192L350.5 192L350.6 160.8L350.7 192L350.9 192L351 192L351.1 192L351.2 192L351.3 160.8L351.4 192L351.5 192L351.6 192L351.7 192L351.8 192L352 160.8L352.1 192L352.2 192L352.3 192L352.4 192L352.5 192L352.6 192L352.7 192L352.8 192L352.9 192L353.1 160.8L353.2 160.8L353.3 192L353.4 192L353.5 160.8L353.6 192L353.7 192L353.8 192L353.9 160.8L354 192L354.2 160.8L354.3 192L354.4 192L354.5 192L354.6 192L354.7 192L354.8 160.8L354.9 192L355 192L355.1 192L355.3 192L355.4 192L355.5 192L355.6 160.8L355.7 192L355.8 192L355.9 192L356 192L356.1 192L356.2 192L356.4 160.8L356.5 192L356.6 192L356.7 156L356.8 192L356.9 192L357 192L357.1 192L357.2 156L357.3 192L357.5 192L357.6 156L357.7 192L357.8 192L357.9 192L358 160.8L358.1 192L358.2 192L358.3 192L358.4 192L358.6 192L358.7 192L358.8 160.8L358.9 192L359 192L359.1 192L359.2 192L359.3 192L359.4 192L359.5 192L359.7 192L359.8 192L359.9 192L360 192L360.1 192L360.2 192L360.3 192L360.4 192L360.5 192L360.6 192L360.8 192L360.9 192L361 192L361.1 192L361.2 192L361.3 192L361.4 192L361.5 192L361.6 192L361.7 192L361.9 192L362 192L362.1 192L362.2 192L362.3 192L362.4 160.8L362.5 160.8L362.6 192L362.7 160.8L362.8 192L363 156L363.1 192L363.2 160.8L363.3 192L363.4 192L363.5 192L363.6 160.8L363.7 192L363.8 192L363.9 192L364.1 192L364.2 160.8L364.3 192L364.4 192L364.5 192L364.6 192L364.7 192L364.8 192L364.9 192L365 192L365.2 192L365.3 192L365.4 192L365.5 192L365.6 192L365.7 160.8L365.8 192L365.9 192L366 192L366.1 192L366.3 192L366.4 192L366.5 192L366.6 160.8L366.7 192L366.8 192L366.9 192L367 192L367.1 192L367.2 192L367.4 192L367.5 192L367.6 192L367.7 192L367.8 192L367.9 192L368 192L368.1 192L368.2 192L368.3 192L368.5 192L368.6 192L368.7 192L368.8 192L368.9 192L369 192L369.1 192L369.2 192L369.3 192L369.4 192L369.6 192L369.7 192L369.8 192L369.9 192L370 192L370.1 192L370.2 192L370.3 192L370.4 192L370.5 160.8L370.7 160.8L370.8 160.8L370.9 192L371 160.8L371.1 192L371.2 192L371.3 192L371.4 192L371.5 192L371.6 192L371.8 192L371.9 192L372 160.8L372.1 160.8L372.2 192L372.3 192L372.4 192L372.5 192L372.6 192L372.7 192L372.9 192L373 192L373.1 192L373.2 192L373.3 160.8L373.4 192L373.5 160.8L373.6 160.8L373.7 192L373.8 192L374 192L374.1 192L374.2 192L374.3 192L374.4 192L374.5 192L374.6 192L374.7 192L374.8 160.8L374.9 192L375.1 192L375.2 192L375.3 192L375.4 152.9L375.5 192L375.6 192L375.7 192L375.8 192L375.9 192L376 192L376.2 192L376.3 160.8L376.4 192L376.5 192L376.6 156L376.7 192L376.8 192L376.9 160.8L377 192L377.1 192L377.3 192L377.4 160.8L377.5 192L377.6 192L377.7 192L377.8 192L377.9 192L378 160.8L378.1 192L378.2 192L378.4 160.8L378.5 192L378.6 192L378.7 192L378.8 192L378.9 192L379 192L379.1 192L379.2 192L379.3 192L379.5 192L379.6 192L379.7 192L379.8 156L379.9 192L380 192L380.1 192L380.2 160.8L380.3 192L380.4 192L380.6 192L380.7 156L380.8 160.8L380.9 192L381 192L381.1 192L381.2 156L381.3 192L381.4 192L381.5 192L381.7 192L381.8 192L381.9 192L382 192L382.1 192L382.2 192L382.3 192L382.4 192L382.5 160.8L382.6 192L382.8 192L382.9 192L383 192L383.1 192L383.2 192L383.3 192L383.4 160.8L383.5 192L383.6 192L383.7 192L383.9 192L384 192L384.1 192L384.2 192L384.3 160.8L384.4 160.8L384.5 192L384.6 192L384.7 192L384.8 192L385 192L385.1 192L385.2 192L385.3 160.8L385.4 160.8L385.5 192L385.6 192L385.7 160.8L385.8 192L385.9 192L386.1 192L386.2 192L386.3 192L386.4 192L386.5 192L386.6 192L386.7 192L386.8 192L386.9 192L387 160.8L387.2 192L387.3 192L387.4 192L387.5 160.8L387.6 192L387.7 192L387.8 192L387.9 156L388 192L388.1 192L388.3 192L388.4 192L388.5 192L388.6 192L388.7 192L388.8 192L388.9 192L389 192L389.1 192L389.2 192L389.4 192L389.5 192L389.6 192L389.7 192L389.8 192L389.9 192L390 156L390.1 192L390.2 160.8L390.3 192L390.5 160.8L390.6 160.8L390.7 192L390.8 192L390.9 192L391 192L391.1 192L391.2 192L391.3 156L391.4 192L391.6 192L391.7 192L391.8 192L391.9 192L392 192L392.1 192L392.2 192L392.3 156L392.4 192L392.5 192L392.7 192L392.8 192L392.9 192L393 192L393.1 160.8L393.2 160.8L393.3 192L393.4 192L393.5 192L393.6 192L393.8 192L393.9 192L394 160.8L394.1 192L394.2 160.8L394.3 192L394.4 160.8L394.5 192L394.6 160.8L394.7 192L394.9 160.8L395 160.8L395.1 192L395.2 156L395.3 192L395.4 192L395.5 192L395.6 192L395.7 192L395.8 192L396 192L396.1 192L396.2 192L396.3 192L396.4 192L396.5 192L396.6 192L396.7 160.8L396.8 192L396.9 192L397.1 192L397.2 160.8L397.3 192L397.4 192L397.5 160.8L397.6 192L397.7 192L397.8 192L397.9 192L398 192L398.2 192L398.3 192L398.4 192L398.5 192L398.6 192L398.7 192L398.8 192L398.9 192L399 192L399.1 192L399.3 192L399.4 192L399.5 160.8L399.6 192L399.7 192L399.8 192L399.9 192L400 156L400.1 192L400.2 192L400.4 192L400.5 192L400.6 192L400.7 160.8L400.8 192L400.9 192L401 192L401.1 192L401.2 160.8L401.3 160.8L401.5 192L401.6 192L401.7 192L401.8 192L401.9 156L402 192L402.1 192L402.2 192L402.3 192L402.4 192L402.6 192L402.7 192L402.8 192L402.9 192L403 192L403.1 192L403.2 192L403.3 192L403.4 192L403.5 192L403.7 160.8L403.8 192L403.9 192L404 192L404.1 192L404.2 192L404.3 156L404.4 192L404.5 160.8L404.6 192L404.8 192L404.9 192L405 192L405.1 192L405.2 156L405.3 192L405.4 192L405.5 192L405.6 156L405.7 192L405.9 192L406 192L406.1 192L406.2 156L406.3 192L406.4 192L406.5 192L406.6 160.8L406.7 160.8L406.8 192L407 192L407.1 160.8L407.2 160.8L407.3 192L407.4 160.8L407.5 192L407.6 192L407.7 192L407.8 192L407.9 160.8L408.1 192L408.2 192L408.3 160.8L408.4 192L408.5 192L408.6 160.8L408.7 192L408.8 160.8L408.9 192L409 156L409.2 192L409.3 192L409.4 156L409.5 160.8L409.6 192L409.7 192L409.8 192L409.9 192L410 160.8L410.1 192L410.3 192L410.4 192L410.5 160.8L410.6 192L410.7 192L410.8 192L410.9 192L411 192L411.1 192L411.2 160.8L411.4 192L411.5 160.8L411.6 160.8L411.7 192L411.8 156L411.9 192L412 192L412.1 192L412.2 160.8L412.3 192L412.5 192L412.6 160.8L412.7 192L412.8 160.8L412.9 192L413 160.8L413.1 156L413.2 160.8L413.3 192L413.4 192L413.6 160.8L413.7 192L413.8 160.8L413.9 192L414 192L414.1 160.8L414.2 192L414.3 192L414.4 192L414.5 192L414.7 160.8L414.8 192L414.9 192L415 192L415.1 192L415.2 192L415.3 160.8L415.4 160.8L415.5 192L415.6 156L415.8 192L415.9 192L416 160.8L416.1 192L416.2 192L416.3 160.8L416.4 160.8L416.5 192L416.6 192L416.7 150.5L416.9 192L417 192L417.1 192L417.2 160.8L417.3 160.8L417.4 192L417.5 156L417.6 156L417.7 192L417.8 192L418 160.8L418.1 192L418.2 160.8L418.3 160.8L418.4 152.9L418.5 192L418.6 192L418.7 192L418.8 192L418.9 192L419.1 160.8L419.2 160.8L419.3 192L419.4 192L419.5 192L419.6 192L419.7 160.8L419.8 192L419.9 192L420 192L420.2 156L420.3 192L420.4 192L420.5 160.8L420.6 160.8L420.7 156L420.8 156L420.9 192L421 192L421.1 192L421.3 192L421.4 160.8L421.5 160.8L421.6 192L421.7 192L421.8 192L421.9 156L422 192L422.1 192L422.2 192L422.4 192L422.5 192L422.6 192L422.7 192L422.8 192L422.9 192L423 192L423.1 192L423.2 192L423.3 192L423.5 192L423.6 160.8L423.7 192L423.8 192L423.9 160.8L424 160.8L424.1 192L424.2 192L424.3 192L424.4 192L424.6 192L424.7 192L424.8 192L424.9 192L425 156L425.1 156L425.2 192L425.3 192L425.4 152.9L425.5 192L425.7 160.8L425.8 192L425.9 160.8L426 160.8L426.1 192L426.2 160.8L426.3 192L426.4 192L426.5 156L426.6 192L426.8 160.8L426.9 192L427 192L427.1 192L427.2 192L427.3 192L427.4 160.8L427.5 192L427.6 192L427.7 192L427.9 160.8L428 160.8L428.1 192L428.2 192L428.3 192L428.4 160.8L428.5 192L428.6 192L428.7 160.8L428.8 192L429 192L429.1 192L429.2 152.9L429.3 192L429.4 192L429.5 192L429.6 192L429.7 192L429.8 192L429.9 192L430.1 160.8L430.2 192L430.3 150.5L430.4 192L430.5 192L430.6 160.8L430.7 192L430.8 192L430.9 192L431 192L431.2 192L431.3 192L431.4 160.8L431.5 192L431.6 192L431.7 192L431.8 156L431.9 160.8L432 160.8L432.1 192L432.3 192L432.4 156L432.5 160.8L432.6 160.8L432.7 192L432.8 192L432.9 160.8L433 192L433.1 192L433.2 160.8L433.4 160.8L433.5 192L433.6 156L433.7 160.8L433.8 192L433.9 160.8L434 160.8L434.1 152.9L434.2 192L434.3 160.8L434.5 156L434.6 156L434.7 192L434.8 192L434.9 192L435 192L435.1 192L435.2 192L435.3 152.9L435.4 192L435.6 160.8L435.7 192L435.8 192L435.9 160.8L436 192L436.1 192L436.2 156L436.3 156L436.4 192L436.5 156L436.7 160.8L436.8 192L436.9 192L437 192L437.1 192L437.2 192L437.3 160.8L437.4 192L437.5 192L437.6 192L437.8 192L437.9 160.8L438 192L438.1 156L438.2 160.8L438.3 160.8L438.4 152.9L438.5 192L438.6 160.8L438.7 192L438.9 192L439 192L439.1 192L439.2 160.8L439.3 152.9L439.4 152.9L439.5 192L439.6 192L439.7 192L439.8 192L440 192L440.1 156L440.2 160.8L440.3 192L440.4 192L440.5 192L440.6 160.8L440.7 160.8L440.8 192L440.9 192L441.1 192L441.2 160.8L441.3 192L441.4 156L441.5 192L441.6 160.8L441.7 160.8L441.8 160.8L441.9 192L442 192L442.2 152.9L442.3 148.5L442.4 192L442.5 192L442.6 160.8L442.7 192L442.8 156L442.9 192L443 192L443.1 160.8L443.3 156L443.4 152.9L443.5 152.9L443.6 156L443.7 192L443.8 160.8L443.9 192L444 156L444.1 192L444.2 192L444.4 148.5L444.5 192L444.6 192L444.7 192L444.8 192L444.9 152.9L445 192L445.1 160.8L445.2 160.8L445.3 192L445.5 192L445.6 160.8L445.7 145L445.8 192L445.9 192L446 192L446.1 192L446.2 192L446.3 192L446.4 156L446.6 160.8L446.7 192L446.8 192L446.9 192L447 192L447.1 192L447.2 160.8L447.3 160.8L447.4 192L447.5 192L447.7 192L447.8 192L447.9 160.8L448 160.8L448.1 192L448.2 160.8L448.3 192L448.4 192L448.5 192L448.6 192L448.8 156L448.9 192L449 160.8L449.1 192L449.2 160.8L449.3 160.8L449.4 192L449.5 192L449.6 192L449.7 160.8L449.9 160.8L450 156L450.1 192L450.2 160.8L450.3 192L450.4 160.8L450.5 192L450.6 160.8L450.7 192L450.8 192L451 192L451.1 192L451.2 148.5L451.3 192L451.4 156L451.5 192L451.6 192L451.7 192L451.8 192L451.9 160.8L452.1 192L452.2 152.9L452.3 192L452.4 192L452.5 156L452.6 156L452.7 192L452.8 192L452.9 156L453 192L453.2 156L453.3 192L453.4 192L453.5 192L453.6 192L453.7 152.9L453.8 192L453.9 160.8L454 156L454.1 192L454.3 192L454.4 156L454.5 192L454.6 160.8L454.7 192L454.8 152.9L454.9 160.8L455 192L455.1 160.8L455.2 160.8L455.4 192L455.5 192L455.6 160.8L455.7 192L455.8 192L455.9 192L456 192L456.1 192L456.2 152.9L456.3 152.9L456.5 192L456.6 192L456.7 192L456.8 192L456.9 192L457 152.9L457.1 192L457.2 152.9L457.3 160.8L457.4 146.7L457.6 192L457.7 156L457.8 156L457.9 192L458 192L458.1 160.8L458.2 192L458.3 156L458.4 156L458.5 192L458.7 156L458.8 160.8L458.9 150.5L459 156L459.1 156L459.2 156L459.3 192L459.4 192L459.5 192L459.6 148.5L459.8 160.8L459.9 156L460 152.9L460.1 192L460.2 156L460.3 156L460.4 152.9L460.5 160.8L460.6 192L460.7 160.8L460.9 148.5L461 160.8L461.1 192L461.2 160.8L461.3 156L461.4 150.5L461.5 192L461.6 192L461.7 192L461.8 160.8L462 192L462.1 192L462.2 150.5L462.3 192L462.4 152.9L462.5 192L462.6 152.9L462.7 152.9L462.8 192L462.9 192L463.1 192L463.2 152.9L463.3 192L463.4 145L463.5 156L463.6 192L463.7 192L463.8 148.5L463.9 152.9L464 192L464.2 192L464.3 150.5L464.4 192L464.5 148.5L464.6 192L464.7 160.8L464.8 148.5L464.9 156L465 160.8L465.1 192L465.3 192L465.4 192L465.5 192L465.6 192L465.7 192L465.8 152.9L465.9 192L466 192L466.1 156L466.2 160.8L466.4 192L466.5 152.9L466.6 156L466.7 192L466.8 150.5L466.9 145L467 148.5L467.1 145L467.2 148.5L467.3 156L467.5 146.7L467.6 192L467.7 156L467.8 148.5L467.9 156L468 150.5L468.1 152.9L468.2 148.5L468.3 139.5L468.4 140.2L468.6 143.5L468.7 145L468.8 141.1L468.9 142L469 146.7L469.1 150.5L469.2 143.5L469.3 145L469.4 138.2L469.5 152.9L469.7 143.5L469.8 142L469.9 142L470 145L470.1 148.5L470.2 139.5L470.3 139.5L470.4 143.5L470.5 139.5L470.6 137L470.8 138.8L470.9 145L471 140.2L471.1 142L471.2 143.5L471.3 137L471.4 135.5L471.5 136L471.6 140.2L471.7 137.6L471.9 140.2L472 140.2L472.1 139.5L472.2 138.8L472.3 138.8L472.4 139.5L472.5 138.8L472.6 136L472.7 134.7L472.8 137.6L473 134.3L473.1 137.6L473.2 136L473.3 133.9L473.4 132.9L473.5 134.7L473.6 133.9L473.7 131.1L473.8 131.1L473.9 133.5L474.1 129.2L474.2 128.1L474.3 131.6L474.4 130.3L474.5 128L474.6 128.9L474.7 128.7L474.8 125.3L474.9 128.3L475 127.2L475.2 125.3L475.3 125.7L475.4 123.9L475.5 123.9L475.6 124.9L475.7 123.1L475.8 121.3L475.9 120.1L476 121.9L476.1 119.6L476.3 118.5L476.4 117L476.5 118L476.6 116.5L476.7 117.1L476.8 115L476.9 114.5L477 115.1L477.1 113.8L477.2 112.8L477.4 111.7L477.5 111.1L477.6 110.3L477.7 109.5L477.8 109.4L477.9 108.7L478 107.3L478.1 107L478.2 105.8L478.3 104.7L478.5 103.1L478.6 102.5L478.7 101.1L478.8 100.3L478.9 99.6L479 98L479.1 97.5L479.2 96.2L479.3 95.5L479.4 94.9L479.6 94.4L479.7 93.4L479.8 93L479.9 92.2L480 92.5L480.1 92.3L480.2 92.5L480.3 92.7L480.4 92.7L480.5 93.2L480.7 94.2L480.8 94.8L480.9 95.5L481 96.5L481.1 97L481.2 98.2L481.3 99.3L481.4 100.2L481.5 101.2L481.6 102.4L481.8 103.4L481.9 104.2L482 105.2L482.1 106.6L482.2 107.1L482.3 108.9L482.4 109.1L482.5 109.5L482.6 109.9L482.7 111.5L482.9 112.5L483 112.5L483.1 113.9L483.2 115.6L483.3 116.7L483.4 119.3L483.5 118.1L483.6 120.2L483.7 120.2L483.8 122.6L484 122.9L484.1 122L484.2 123L484.3 121.7L484.4 123.9L484.5 123.5L484.6 125.3L484.7 126.3L484.8 126.9L484.9 126.9L485.1 126.7L485.2 127.2L485.3 129.6L485.4 129.8L485.5 128L485.6 129.4L485.7 129.6L485.8 129.6L485.9 131.1L486 133.9L486.2 129.4L486.3 129.4L486.4 131.3L486.5 131.1L486.6 133.5L486.7 132.9L486.8 132.9L486.9 136L487 131.6L487.1 133.5L487.3 135.1L487.4 132.5L487.5 131.9L487.6 132.9L487.7 133.9L487.8 134.3L487.9 137L488 137L488.1 135.1L488.2 134.3L488.4 131.6L488.5 134.7L488.6 137.6L488.7 134.3L488.8 138.2L488.9 138.8L489 134.3L489.1 136.5L489.2 137.6L489.3 131.6L489.5 139.5L489.6 138.8L489.7 142L489.8 138.8L489.9 138.2L490 137L490.1 139.5L490.2 142L490.3 133.9L490.4 142L490.6 141.1L490.7 134.7L490.8 139.5L490.9 142L491 137.6L491.1 142L491.2 145L491.3 142L491.4 136L491.5 143.5L491.7 141.1L491.8 141.1L491.9 140.2L492 148.5L492.1 142L492.2 137L492.3 137L492.4 139.5L492.5 142L492.6 141.1L492.8 138.8L492.9 139.5L493 140.2L493.1 140.2L493.2 142L493.3 146.7L493.4 140.2L493.5 143.5L493.6 138.8L493.7 143.5L493.9 143.5L494 142L494.1 139.5L494.2 143.5L494.3 141.1L494.4 145L494.5 145L494.6 139.5L494.7 140.2L494.8 139.5L495 145L495.1 141.1L495.2 141.1L495.3 148.5L495.4 138.2L495.5 139.5L495.6 137L495.7 137L495.8 143.5L495.9 137.6L496.1 138.8L496.2 139.5L496.3 143.5L496.4 139.5L496.5 138.2L496.6 140.2L496.7 136.5L496.8 140.2L496.9 139.5L497 136.5L497.2 137L497.3 138.2L497.4 138.8L497.5 136L497.6 142L497.7 136.5L497.8 137L497.9 135.1L498 135.5L498.1 141.1L498.3 135.5L498.4 136.5L498.5 137L498.6 138.2L498.7 138.2L498.8 134.7L498.9 136L499 134.3L499.1 134.3L499.2 138.8L499.4 133.9L499.5 137L499.6 137L499.7 134.3L499.8 137L499.9 135.5L500 130.6L500.1 135.1L500.2 135.5L500.3 131.6L500.5 133.2L500.6 134.7L500.7 130.6L500.8 132.2L500.9 131.1L501 133.9L501.1 133.5L501.2 134.7L501.3 131.6L501.4 132.2L501.6 130.6L501.7 129.8L501.8 128.7L501.9 131.1L502 129.2L502.1 130.3L502.2 126.9L502.3 127.8L502.4 131.3L502.5 126L502.7 123.9L502.8 125.4L502.9 126L503 124.1L503.1 125.4L503.2 122.4L503.3 124.7L503.4 123.5L503.5 120.3L503.6 119.3L503.8 119.6L503.9 118.2L504 117.1L504.1 116.2L504.2 116.3L504.3 114.8L504.4 114.9L504.5 113.3L504.6 111.9L504.7 110.3L504.9 108.7L505 107.8L505.1 106.5L505.2 104.9L505.3 103.7L505.4 102.3L505.5 100.5L505.6 99.3L505.7 97.8L505.8 96.9L506 95.4L506.1 94L506.2 92.8L506.3 91.3L506.4 89.8L506.5 88.1L506.6 86.4L506.7 85L506.8 83.3L506.9 81.6L507.1 80L507.2 78.8L507.3 77.3L507.4 76.2L507.5 75.1L507.6 74.2L507.7 73.8L507.8 73.4L507.9 73.3L508 73.5L508.2 74.1L508.3 74.6L508.4 75.7L508.5 76.8L508.6 78.1L508.7 79.5L508.8 81.1L508.9 82.7L509 84.5L509.1 86.2L509.3 88.1L509.4 89.7L509.5 91.3L509.6 93.2L509.7 94.7L509.8 96.7L509.9 98.4L510 100.9L510.1 103.8L510.2 105.6L510.4 107.7L510.5 110L510.6 112L510.7 114.7L510.8 117.4L510.9 118.4L511 120.9L511.1 121.3L511.2 124.2L511.3 126L511.5 129.2L511.6 131.9L511.7 133.2L511.8 133.5L511.9 133.5L512 141.1L512.1 141.1L512.2 141.1L512.3 145L512.4 145L512.6 150.5L512.7 156L512.8 150.5L512.9 148.5L513 156L513.1 150.5L513.2 152.9L513.3 192L513.4 160.8L513.5 160.8L513.7 156L513.8 150.5L513.9 192L514 156L514.1 152.9L514.2 150.5L514.3 156L514.4 150.5L514.5 192L514.6 192L514.8 160.8L514.9 150.5L515 192L515.1 160.8L515.2 156L515.3 192L515.4 156L515.5 156L515.6 192L515.7 192L515.9 192L516 156L516.1 160.8L516.2 192L516.3 192L516.4 192L516.5 192L516.6 156L516.7 148.5L516.8 192L517 150.5L517.1 192L517.2 160.8L517.3 192L517.4 192L517.5 150.5L517.6 156L517.7 192L517.8 192L517.9 160.8L518.1 160.8L518.2 192L518.3 192L518.4 192L518.5 192L518.6 192L518.7 192L518.8 156L518.9 148.5L519 156L519.2 160.8L519.3 192L519.4 192L519.5 152.9L519.6 192L519.7 156L519.8 160.8L519.9 160.8L520 192L520.1 192L520.3 192L520.4 192L520.5 192L520.6 192L520.7 192L520.8 160.8L520.9 192L521 160.8L521.1 192L521.2 160.8L521.4 150.5L521.5 156L521.6 192L521.7 156L521.8 160.8L521.9 192L522 160.8L522.1 192L522.2 192L522.3 152.9L522.5 160.8L522.6 152.9L522.7 152.9L522.8 160.8L522.9 192L523 192L523.1 192L523.2 160.8L523.3 160.8L523.4 192L523.6 192L523.7 192L523.8 156L523.9 160.8L524 192L524.1 192L524.2 192L524.3 192L524.4 192L524.5 160.8L524.7 192L524.8 192L524.9 160.8L525 160.8L525.1 192L525.2 160.8L525.3 160.8L525.4 152.9L525.5 192L525.6 156L525.8 192L525.9 160.8L526 160.8L526.1 192L526.2 192L526.3 192L526.4 192L526.5 192L526.6 192L526.7 152.9L526.9 192L527 156L527.1 192L527.2 160.8L527.3 156L527.4 192L527.5 192L527.6 192L527.7 192L527.8 152.9L528 192L528.1 192L528.2 156L528.3 192L528.4 192L528.5 192L528.6 160.8L528.7 160.8L528.8 160.8L528.9 192L529.1 160.8L529.2 192L529.3 160.8L529.4 156L529.5 192L529.6 192L529.7 192L529.8 192L529.9 160.8L530 192L530.2 152.9L530.3 156L530.4 152.9L530.5 192L530.6 160.8L530.7 152.9L530.8 192L530.9 160.8L531 156L531.1 192L531.3 192L531.4 156L531.5 152.9L531.6 192L531.7 156L531.8 192L531.9 192L532 192L532.1 192L532.2 156L532.4 160.8L532.5 192L532.6 152.9L532.7 160.8L532.8 192L532.9 160.8L533 192L533.1 156L533.2 192L533.3 152.9L533.5 160.8L533.6 160.8L533.7 192L533.8 192L533.9 152.9L534 192L534.1 160.8L534.2 192L534.3 192L534.4 192L534.6 160.8L534.7 160.8L534.8 192L534.9 192L535 156L535.1 192L535.2 160.8L535.3 160.8L535.4 152.9L535.5 192L535.7 192L535.8 192L535.9 192L536 192L536.1 192L536.2 192L536.3 192L536.4 192L536.5 160.8L536.6 156L536.8 192L536.9 160.8L537 192L537.1 192L537.2 192L537.3 192L537.4 156L537.5 192L537.6 160.8L537.7 192L537.9 192L538 192L538.1 156L538.2 192L538.3 192L538.4 160.8L538.5 192L538.6 192L538.7 160.8L538.8 192L539 192L539.1 160.8L539.2 192L539.3 192L539.4 192L539.5 160.8L539.6 192L539.7 192L539.8 156L539.9 156L540.1 192L540.2 192L540.3 192L540.4 192L540.5 192L540.6 160.8L540.7 160.8L540.8 192L540.9 192L541 192L541.2 160.8L541.3 160.8L541.4 160.8L541.5 160.8L541.6 192L541.7 160.8L541.8 156L541.9 192L542 192L542.1 192L542.3 192L542.4 192L542.5 192L542.6 160.8L542.7 192L542.8 192L542.9 192L543 156L543.1 160.8L543.2 160.8L543.4 192L543.5 160.8L543.6 192L543.7 192L543.8 192L543.9 192L544 192L544.1 192L544.2 156L544.3 192L544.5 192L544.6 192L544.7 160.8L544.8 192L544.9 156L545 156L545.1 160.8L545.2 192L545.3 192L545.4 192L545.6 192L545.7 192L545.8 160.8L545.9 192L546 160.8L546.1 192L546.2 192L546.3 192L546.4 160.8L546.5 192L546.7 192L546.8 192L546.9 160.8L547 192L547.1 192L547.2 192L547.3 192L547.4 160.8L547.5 192L547.6 192L547.8 192L547.9 156L548 192L548.1 192L548.2 192L548.3 160.8L548.4 192L548.5 192L548.6 160.8L548.7 192L548.9 192L549 192L549.1 192L549.2 192L549.3 192L549.4 152.9L549.5 192L549.6 160.8L549.7 192L549.8 192L550 192L550.1 192L550.2 192L550.3 192L550.4 192L550.5 160.8L550.6 160.8L550.7 160.8L550.8 192L550.9 192L551.1 192L551.2 192L551.3 160.8L551.4 192L551.5 192L551.6 192L551.7 192L551.8 192L551.9 192L552 192L552.2 192L552.3 160.8L552.4 192L552.5 192L552.6 192L552.7 192L552.8 160.8L552.9 192L553 156L553.1 192L553.3 192L553.4 152.9L553.5 160.8L553.6 192L553.7 160.8L553.8 156L553.9 192L554 152.9L554.1 152.9L554.2 160.8L554.4 192L554.5 192L554.6 160.8L554.7 192L554.8 192L554.9 160.8L555 160.8L555.1 192L555.2 192L555.3 152.9L555.5 192L555.6 192L555.7 192L555.8 192L555.9 192L556 192L556.1 192L556.2 192L556.3 160.8L556.4 192L556.6 156L556.7 156L556.8 192L556.9 192L557 160.8L557.1 160.8L557.2 156L557.3 192L557.4 192L557.5 192L557.7 156L557.8 192L557.9 192L558 160.8L558.1 192L558.2 192L558.3 192L558.4 160.8L558.5 192L558.6 160.8L558.8 160.8L558.9 156L559 192L559.1 192L559.2 192L559.3 192L559.4 192L559.5 192L559.6 160.8L559.7 192L559.9 160.8L560 192L560.1 192L560.2 192L560.3 160.8L560.4 156L560.5 192L560.6 192L560.7 192L560.8 192L561 192L561.1 192L561.2 192L561.3 192L561.4 192L561.5 192L561.6 192L561.7 192L561.8 192L561.9 160.8L562.1 160.8L562.2 160.8L562.3 156L562.4 192L562.5 192L562.6 192L562.7 160.8L562.8 156L562.9 192L563 192L563.2 192L563.3 192L563.4 192L563.5 192L563.6 160.8L563.7 192L563.8 160.8L563.9 192L564 192L564.1 192L564.3 192L564.4 160.8L564.5 156L564.6 192L564.7 192L564.8 192L564.9 156L565 160.8L565.1 192L565.2 192L565.4 192L565.5 160.8L565.6 192L565.7 192L565.8 192L565.9 192L566 192L566.1 160.8L566.2 192L566.3 192L566.5 192L566.6 192L566.7 192L566.8 192L566.9 160.8L567 192L567.1 160.8L567.2 192L567.3 192L567.4 192L567.6 160.8L567.7 192L567.8 192L567.9 160.8L568 192L568.1 192L568.2 192L568.3 160.8L568.4 160.8L568.5 192L568.7 192L568.8 192L568.9 192L569 192L569.1 192L569.2 192L569.3 192L569.4 160.8L569.5 192L569.6 160.8L569.8 160.8L569.9 160.8L570 192L570.1 192L570.2 192L570.3 192L570.4 192L570.5 160.8L570.6 192L570.7 192L570.9 192L571 192L571.1 192L571.2 192L571.3 160.8L571.4 192L571.5 192L571.6 156L571.7 156L571.8 192L572 160.8L572.1 192L572.2 192L572.3 192L572.4 160.8L572.5 160.8L572.6 160.8L572.7 160.8L572.8 160.8L572.9 192L573.1 192L573.2 192L573.3 192L573.4 192L573.5 160.8L573.6 192L573.7 192L573.8 192L573.9 160.8L574 160.8L574.2 192L574.3 192L574.4 192L574.5 160.8L574.6 192L574.7 192L574.8 192L574.9 192L575 192L575.1 192L575.3 160.8L575.4 192L575.5 192L575.6 192L575.7 192L575.8 192L575.9 192L576 192L576.1 192L576.2 160.8L576.4 160.8L576.5 160.8L576.6 192L576.7 192L576.8 192L576.9 156L577 192L577.1 192L577.2 160.8L577.3 192L577.5 192L577.6 192L577.7 192L577.8 192L577.9 192L578 192L578.1 192L578.2 192L578.3 192L578.4 192L578.6 192L578.7 192L578.8 192L578.9 192L579 192L579.1 192L579.2 192L579.3 156L579.4 192L579.5 160.8L579.7 192L579.8 192L579.9 160.8L580 192L580.1 192L580.2 192L580.3 192L580.4 192L580.5 192L580.6 192L580.8 192L580.9 192L581 192L581.1 160.8L581.2 160.8L581.3 192L581.4 192L581.5 192L581.6 192L581.7 192L581.9 160.8L582 192L582.1 192L582.2 192L582.3 192L582.4 160.8L582.5 192L582.6 192L582.7 160.8L582.8 192L583 192L583.1 192L583.2 192L583.3 192L583.4 192L583.5 192L583.6 192L583.7 192L583.8 192L583.9 192L584.1 160.8L584.2 160.8L584.3 192L584.4 192L584.5 192L584.6 156L584.7 192L584.8 192L584.9 192L585 192L585.2 160.8L585.3 192L585.4 160.8L585.5 160.8L585.6 192L585.7 192L585.8 160.8L585.9 192L586 192L586.1 192L586.3 192L586.4 192L586.5 192L586.6 192L586.7 192L586.8 192L586.9 160.8L587 192L587.1 192L587.2 192L587.4 192L587.5 192L587.6 192L587.7 160.8L587.8 160.8L587.9 192L588 192L588.1 192L588.2 160.8L588.3 192L588.5 192L588.6 192L588.7 160.8L588.8 192L588.9 192L589 152.9L589.1 192L589.2 192L589.3 192L589.4 160.8L589.6 192L589.7 192L589.8 192L589.9 192L590 160.8L590.1 192L590.2 192L590.3 160.8L590.4 192L590.5 192L590.7 156L590.8 192L590.9 192L591 192L591.1 192L591.2 192L591.3 192L591.4 192L591.5 160.8L591.6 192L591.8 192L591.9 192L592 160.8L592.1 192L592.2 192L592.3 160.8L592.4 192L592.5 192L592.6 160.8L592.7 156L592.9 192L593 192L593.1 192L593.2 192L593.3 192L593.4 192L593.5 192L593.6 156L593.7 192L593.8 192L594 192L594.1 160.8L594.2 192L594.3 192L594.4 192L594.5 192L594.6 192L594.7 192L594.8 192L594.9 192L595.1 192L595.2 192L595.3 160.8L595.4 192L595.5 192L595.6 192L595.7 192L595.8 192L595.9 160.8L596 192L596.2 160.8L596.3 160.8L596.4 192L596.5 192L596.6 192L596.7 160.8L596.8 192L596.9 192L597 192L597.1 192L597.3 192L597.4 192L597.5 192L597.6 192L597.7 192L597.8 192L597.9 192L598 192L598.1 192L598.2 192L598.4 192L598.5 192L598.6 192L598.7 192L598.8 192L598.9 160.8L599 192L599.1 192L599.2 192L599.3 192L599.5 192L599.6 192L599.7 192L599.8 192L599.9 160.8L600 192L600.1 160.8L600.2 192L600.3 160.8L600.4 192L600.6 192L600.7 192L600.8 192L600.9 192L601 192L601.1 192L601.2 192L601.3 192L601.4 192L601.5 192L601.7 192L601.8 192L601.9 192L602 192L602.1 156L602.2 192L602.3 192L602.4 192L602.5 160.8L602.6 160.8L602.8 192" fill="none" stroke="#1d3f95" stroke-width="1.0" stroke-linejoin="round"/>
</g>
<path d="M338.2 191v-3.6M345.8 191v-2M353.3 191v-2M360.9 191v-2M368.4 191v-2M376 191v-3.6M383.6 191v-2M391.1 191v-2M398.7 191v-2M406.2 191v-2M413.8 191v-3.6M421.4 191v-2M428.9 191v-2M436.5 191v-2M444 191v-2M451.6 191v-3.6M459.2 191v-2M466.7 191v-2M474.3 191v-2M481.8 191v-2M489.4 191v-3.6M497 191v-2M504.5 191v-2M512.1 191v-2M519.6 191v-2M527.2 191v-3.6M534.8 191v-2M542.3 191v-2M549.9 191v-2M557.4 191v-2M565 191v-3.6M572.6 191v-2M580.1 191v-2M587.7 191v-2M595.2 191v-2M602.8 191v-3.6" stroke="#0a0a0a" stroke-width="1" fill="none"/>
<path d="M338.2 185.5h1.9M338.2 182h1.9M338.2 179.6h1.9M338.2 177.6h1.9M338.2 176.1h1.9M338.2 174.8h1.9M338.2 173.6h1.9M338.2 172.6h1.9M338.2 171.7h4.2M338.2 165.8h1.9M338.2 162.3h1.9M338.2 159.8h1.9M338.2 157.9h1.9M338.2 156.3h1.9M338.2 155h1.9M338.2 153.9h1.9M338.2 152.9h1.9M338.2 151.9h4.2M338.2 146h1.9M338.2 142.5h1.9M338.2 140.1h1.9M338.2 138.1h1.9M338.2 136.6h1.9M338.2 135.3h1.9M338.2 134.1h1.9M338.2 133.1h1.9M338.2 132.2h4.2M338.2 126.3h1.9M338.2 122.8h1.9M338.2 120.3h1.9M338.2 118.4h1.9M338.2 116.8h1.9M338.2 115.5h1.9M338.2 114.4h1.9M338.2 113.4h1.9M338.2 112.4h4.2M338.2 106.5h1.9M338.2 103h1.9M338.2 100.6h1.9M338.2 98.6h1.9M338.2 97.1h1.9M338.2 95.8h1.9M338.2 94.6h1.9M338.2 93.6h1.9M338.2 92.7h4.2M338.2 86.8h1.9M338.2 83.3h1.9M338.2 80.8h1.9M338.2 78.9h1.9M338.2 77.3h1.9M338.2 76h1.9M338.2 74.9h1.9M338.2 73.9h1.9M338.2 72.9h4.2M338.2 67h1.9M338.2 63.5h1.9M338.2 61.1h1.9M338.2 59.1h1.9M338.2 57.6h1.9M338.2 56.3h1.9M338.2 55.1h1.9M338.2 54.1h1.9M338.2 53.2h4.2M338.2 47.3h1.9M338.2 43.8h1.9M338.2 41.3h1.9M338.2 39.4h1.9M338.2 37.8h1.9M338.2 36.5h1.9M338.2 35.4h1.9M338.2 34.4h1.9M338.2 33.4h4.2M338.2 27.5h1.9M338.2 24h1.9M338.2 21.6h1.9M338.2 19.6h1.9M338.2 18.1h1.9M338.2 16.8h1.9M338.2 15.6h1.9" stroke="#0a0a0a" stroke-width="1" fill="none"/>
<rect x="338.2" y="14.9" width="264.6" height="176.1" fill="none" stroke="#1c1c1c" stroke-width="1.5"/>
<text x="337.7" y="209.3" text-anchor="middle">42</text>
<text x="375.5" y="209.3" text-anchor="middle">43</text>
<text x="413.3" y="209.3" text-anchor="middle">44</text>
<text x="451.1" y="209.3" text-anchor="middle">45</text>
<text x="488.9" y="209.3" text-anchor="middle">46</text>
<text x="526.7" y="209.3" text-anchor="middle">47</text>
<text x="564.5" y="209.3" text-anchor="middle">48</text>
<text x="602.3" y="209.3" text-anchor="middle">49</text>
<text x="316.5" y="13" font-weight="bold" font-size="16.5">b</text>
<text x="510.7" y="26" font-size="12.6">Nb-ST(002)</text>
<text x="456.5" y="27" text-anchor="middle" font-size="12.6">perovskite</text>
<text x="459" y="41.5" text-anchor="middle" font-size="12.6">(002)</text>
<text x="359.8" y="68.3" font-size="12.6">satellite peaks</text>
<text x="349.8" y="96" font-size="12.6">2 kG</text>
<text x="359.3" y="155" font-size="12.6">0 G</text>
<text transform="translate(328 103.9) rotate(-90) scale(1 0.9)" text-anchor="middle" font-size="12.7">Intensity (arb. units)</text>
<circle cx="402.3" cy="86.8" r="3.1" fill="#fff" stroke="#222" stroke-width="1.1"/>
<circle cx="417.8" cy="82.5" r="3.1" fill="#fff" stroke="#222" stroke-width="1.1"/>
<circle cx="433" cy="78.8" r="3.1" fill="#fff" stroke="#222" stroke-width="1.1"/>
<circle cx="443.5" cy="61.8" r="3.1" fill="#fff" stroke="#222" stroke-width="1.1"/>
<circle cx="472.8" cy="62" r="3.1" fill="#fff" stroke="#222" stroke-width="1.1"/>
<circle cx="487" cy="68" r="3.1" fill="#fff" stroke="#222" stroke-width="1.1"/>
<text x="453.3" y="234.2" font-size="14.2">2<tspan font-family='"Liberation Serif", serif' font-size="14.6" stroke-width="0.1">θ</tspan> (<tspan dy="-4.8" font-size="9">o</tspan><tspan dy="4.8">)</tspan></text>
</g>
<g id="pc">
<rect x="24" y="428.3" width="263.8" height="20.5" fill="#ec1c24"/>
<path d="M29.5 428.8v-5.5h1.5v5.5zM33 428.8v-5.5h1.5v5.5zM37.5 428.8v-5.5h2v5.5zM40.5 428.8v-5.5h1v5.5zM50.5 428.8v-5.5h2v5.5zM53.5 428.8v-5.5h1.5v5.5zM60 428.8v-5.5h1v5.5zM67 428.8v-5.5h2v5.5zM70 428.8v-5.5h1.5v5.5zM75.5 428.8v-5.5h1v5.5zM78.5 428.8v-5.5h1v5.5zM82.5 428.8v-7.1h1v7.1zM87.5 428.8v-5.5h2v5.5zM93.5 428.8v-5.5h2v5.5zM104.5 428.8v-5.5h2v5.5zM108.5 428.8v-5.5h2v5.5zM111.5 428.8v-5.5h2v5.5zM114.5 428.8v-5.5h2v5.5zM124.5 428.8v-5.5h2v5.5zM135.5 428.8v-7.1h1v7.1zM142.5 428.8v-5.5h2v5.5zM147.5 428.8v-5.5h2v5.5zM154.5 428.8v-5.5h2v5.5zM157.5 428.8v-5.5h2v5.5zM160.5 428.8v-5.5h2v5.5zM167.5 428.8v-5.5h2v5.5zM170.5 428.8v-5.5h1.5v5.5zM179 428.8v-5.5h2v5.5zM187 428.8v-5.5h2v5.5zM193 428.8v-5.5h1.5v5.5zM195.5 428.8v-7.1h1v7.1zM200.5 428.8v-5.5h1.5v5.5zM204 428.8v-5.5h2v5.5zM212 428.8v-5.5h1v5.5zM214 428.8v-5.5h1.5v5.5zM217.5 428.8v-5.5h1.5v5.5zM223 428.8v-5.5h2v5.5zM226 428.8v-5.5h1.5v5.5zM231.5 428.8v-5.5h2v5.5zM239.5 428.8v-7.1h2v7.1zM245.5 428.8v-5.5h2v5.5zM249.5 428.8v-7.1h1.5v7.1zM256 428.8v-5.5h2v5.5zM261 428.8v-5.5h1.5v5.5zM267.5 428.8v-5.5h1v5.5zM269.5 428.8v-5.5h1.5v5.5zM273 428.8v-5.5h2v5.5zM277 428.8v-5.5h2v5.5zM281 428.8v-5.5h2v5.5z" fill="#ec1c24"/>
<path d="M37 427.3v6.2M49.5 427.3v4.7M111.5 427.3v5.3M124.5 427.3v6.2M138 427.3v6.3M147 427.3v3.4M188.5 427.3v4.9M213.5 427.3v5.3M233 427.3v4.4M236 427.3v3.7M246.5 427.3v3.7M273.5 427.3v3.6" stroke="#f6c9c9" stroke-width="1" fill="none"/>
<path d="M71.35 334.5V372" stroke="#ec1c24" stroke-width="1.4" fill="none"/>
<path d="M69.2 429L70 414L70.4 400L70.7 371L72 371L72.3 395L72.9 405L73.8 409L74.4 420L75.2 429z" fill="#ec1c24"/>
<path d="M71 441v8" stroke="#f9d5d5" stroke-width="1.2"/>
<path d="M161.65 301.5V343" stroke="#ec1c24" stroke-width="1.5" fill="none"/>
<path d="M151.5 429L153 419L154.3 408L154.8 398L155.8 392L156.4 384L157.8 373L158.9 355L160.2 342L162.3 342L162.7 360L163 380L163.6 394L164.6 410L166.2 420L168 429z" fill="#ec1c24"/>
<path d="M156.3 450L157.4 419L158.6 404L159.8 396L160.9 399L161.6 404L162.7 419L163.2 450z" fill="#fff"/>
<path d="M260.5 346.5V414" stroke="#ec1c24" stroke-width="1.4" fill="none"/>
<path d="M253.5 429L255 423L256 416L256.8 413.6L257.6 418L258.6 415L259.6 412L261.1 412L261.4 420L261.9 429z" fill="#ec1c24"/>
<path d="M24 448.8v-3.6M31.5 448.8v-2M39.1 448.8v-2M46.6 448.8v-2M54.1 448.8v-2M61.7 448.8v-3.6M69.2 448.8v-2M76.8 448.8v-2M84.3 448.8v-2M91.8 448.8v-2M99.4 448.8v-3.6M106.9 448.8v-2M114.4 448.8v-2M122 448.8v-2M129.5 448.8v-2M137.1 448.8v-3.6M144.6 448.8v-2M152.1 448.8v-2M159.7 448.8v-2M167.2 448.8v-2M174.7 448.8v-3.6M182.3 448.8v-2M189.8 448.8v-2M197.4 448.8v-2M204.9 448.8v-2M212.4 448.8v-3.6M220 448.8v-2M227.5 448.8v-2M235 448.8v-2M242.6 448.8v-2M250.1 448.8v-3.6M257.7 448.8v-2M265.2 448.8v-2M272.7 448.8v-2M280.3 448.8v-2M287.8 448.8v-3.6" stroke="#0a0a0a" stroke-width="1" fill="none"/>
<path d="M24 440h1.9M24 434.8h1.9M24 431.2h1.9M24 428.4h1.9M24 426h1.9M24 424.1h1.9M24 422.4h1.9M24 420.9h1.9M24 419.6h4.2M24 410.7h1.9M24 405.6h1.9M24 401.9h1.9M24 399.1h1.9M24 396.8h1.9M24 394.8h1.9M24 393.1h1.9M24 391.6h1.9M24 390.3h4.2M24 381.5h1.9M24 376.3h1.9M24 372.7h1.9M24 369.9h1.9M24 367.5h1.9M24 365.6h1.9M24 363.9h1.9M24 362.4h1.9M24 361.1h4.2M24 352.2h1.9M24 347.1h1.9M24 343.4h1.9M24 340.6h1.9M24 338.3h1.9M24 336.3h1.9M24 334.6h1.9M24 333.1h1.9M24 331.8h4.2M24 323h1.9M24 317.8h1.9M24 314.2h1.9M24 311.4h1.9M24 309h1.9M24 307.1h1.9M24 305.4h1.9M24 303.9h1.9M24 302.6h4.2M24 293.7h1.9M24 288.6h1.9M24 284.9h1.9M24 282.1h1.9M24 279.8h1.9M24 277.8h1.9M24 276.1h1.9M24 274.6h1.9M24 273.3h4.2" stroke="#0a0a0a" stroke-width="1" fill="none"/>
<path d="M287.8 440h-1.9M287.8 434.8h-1.9M287.8 431.2h-1.9M287.8 428.4h-1.9M287.8 426h-1.9M287.8 424.1h-1.9M287.8 422.4h-1.9M287.8 420.9h-1.9M287.8 419.6h-4.2M287.8 410.7h-1.9M287.8 405.6h-1.9M287.8 401.9h-1.9M287.8 399.1h-1.9M287.8 396.8h-1.9M287.8 394.8h-1.9M287.8 393.1h-1.9M287.8 391.6h-1.9M287.8 390.3h-4.2M287.8 381.5h-1.9M287.8 376.3h-1.9M287.8 372.7h-1.9M287.8 369.9h-1.9M287.8 367.5h-1.9M287.8 365.6h-1.9M287.8 363.9h-1.9M287.8 362.4h-1.9M287.8 361.1h-4.2M287.8 352.2h-1.9M287.8 347.1h-1.9M287.8 343.4h-1.9M287.8 340.6h-1.9M287.8 338.3h-1.9M287.8 336.3h-1.9M287.8 334.6h-1.9M287.8 333.1h-1.9M287.8 331.8h-4.2M287.8 323h-1.9M287.8 317.8h-1.9M287.8 314.2h-1.9M287.8 311.4h-1.9M287.8 309h-1.9M287.8 307.1h-1.9M287.8 305.4h-1.9M287.8 303.9h-1.9M287.8 302.6h-4.2M287.8 293.7h-1.9M287.8 288.6h-1.9M287.8 284.9h-1.9M287.8 282.1h-1.9M287.8 279.8h-1.9M287.8 277.8h-1.9M287.8 276.1h-1.9M287.8 274.6h-1.9M287.8 273.3h-4.2" stroke="#0a0a0a" stroke-width="1" fill="none"/>
<rect x="24" y="272.2" width="263.8" height="176.6" fill="none" stroke="#1c1c1c" stroke-width="1.5"/>
<text x="24.8" y="467.6" text-anchor="middle" font-size="12.2">10</text>
<text x="62.5" y="467.6" text-anchor="middle" font-size="12.2">20</text>
<text x="100.2" y="467.6" text-anchor="middle" font-size="12.2">30</text>
<text x="137.9" y="467.6" text-anchor="middle" font-size="12.2">40</text>
<text x="175.5" y="467.6" text-anchor="middle" font-size="12.2">50</text>
<text x="213.2" y="467.6" text-anchor="middle" font-size="12.2">60</text>
<text x="250.9" y="467.6" text-anchor="middle" font-size="12.2">70</text>
<text x="288.6" y="467.6" text-anchor="middle" font-size="12.2">80</text>
<text x="2" y="270.5" font-weight="bold" font-size="16.5">c</text>
<text x="0" y="0" text-anchor="middle" transform="translate(84.6 329.5) rotate(-90) scale(1 0.88)" font-size="12.3">perovskite(001)</text>
<text x="0" y="0" text-anchor="middle" transform="translate(154.3 337) rotate(-90) scale(1 0.88)" font-size="12.3">perovskite(002)</text>
<text x="0" y="0" text-anchor="middle" transform="translate(175.9 310) rotate(-90) scale(1 0.88)" font-size="12.3">Nb-ST(002)</text>
<text x="0" y="0" text-anchor="middle" transform="translate(257.3 365) rotate(-90) scale(1 0.88)" font-size="12.3">perovskite(003)</text>
<text x="0" y="0" text-anchor="middle" transform="translate(272.3 310) rotate(-90) scale(1 0.88)" font-size="12.3">Nb-ST(003)</text>
<text x="32.3" y="410.8" font-size="12.4">2 kG</text>
<text transform="translate(10.4 362) rotate(-90) scale(1 0.9)" text-anchor="middle" font-size="12.7">Intensity (arb. units)</text>
<text x="141" y="491.5" font-size="14.2">2<tspan font-family='"Liberation Serif", serif' font-size="14.6" stroke-width="0.1">θ</tspan> (<tspan dy="-4.8" font-size="9">o</tspan><tspan dy="4.8">)</tspan></text>
</g>
<g id="pd">
<defs><linearGradient id="gd" x1="0" y1="0" x2="0" y2="1"><stop offset="0.0000" stop-color="#787878"/><stop offset="0.0159" stop-color="#575757"/><stop offset="0.0444" stop-color="#494949"/><stop offset="0.0502" stop-color="#424242"/><stop offset="0.0692" stop-color="#6e6e6e"/><stop offset="0.0857" stop-color="#6e6e6e"/><stop offset="0.1048" stop-color="#404040"/><stop offset="0.1251" stop-color="#4e4e4e"/><stop offset="0.1378" stop-color="#3e3e3e"/><stop offset="0.1581" stop-color="#3e3e3e"/><stop offset="0.1771" stop-color="#929292"/><stop offset="0.1937" stop-color="#929292"/><stop offset="0.2127" stop-color="#3b3b3b"/><stop offset="0.2330" stop-color="#4a4a4a"/><stop offset="0.2457" stop-color="#3a3a3a"/><stop offset="0.2502" stop-color="#3a3a3a"/><stop offset="0.2692" stop-color="#8f8f8f"/><stop offset="0.2857" stop-color="#8f8f8f"/><stop offset="0.3048" stop-color="#373737"/><stop offset="0.3251" stop-color="#454545"/><stop offset="0.3378" stop-color="#363636"/><stop offset="0.3410" stop-color="#363636"/><stop offset="0.3600" stop-color="#929292"/><stop offset="0.3765" stop-color="#929292"/><stop offset="0.3956" stop-color="#333333"/><stop offset="0.4159" stop-color="#414141"/><stop offset="0.4286" stop-color="#323232"/><stop offset="0.4330" stop-color="#323232"/><stop offset="0.4521" stop-color="#878787"/><stop offset="0.4686" stop-color="#878787"/><stop offset="0.4876" stop-color="#2f2f2f"/><stop offset="0.5079" stop-color="#3d3d3d"/><stop offset="0.5206" stop-color="#2e2e2e"/><stop offset="0.5244" stop-color="#2e2e2e"/><stop offset="0.5435" stop-color="#808080"/><stop offset="0.5600" stop-color="#808080"/><stop offset="0.5790" stop-color="#2b2b2b"/><stop offset="0.5994" stop-color="#393939"/><stop offset="0.6121" stop-color="#2a2a2a"/><stop offset="0.6159" stop-color="#1f1f1f"/><stop offset="0.6349" stop-color="#797979"/><stop offset="0.6514" stop-color="#797979"/><stop offset="0.6705" stop-color="#1d1d1d"/><stop offset="0.6908" stop-color="#2b2b2b"/><stop offset="0.7035" stop-color="#1b1b1b"/><stop offset="0.7073" stop-color="#1b1b1b"/><stop offset="0.7263" stop-color="#666666"/><stop offset="0.7429" stop-color="#666666"/><stop offset="0.7619" stop-color="#191919"/><stop offset="0.7683" stop-color="#141414"/><stop offset="0.7873" stop-color="#0a0a0a"/><stop offset="0.8095" stop-color="#111111"/><stop offset="0.8267" stop-color="#b8b8b8"/><stop offset="0.8381" stop-color="#cccccc"/><stop offset="0.8667" stop-color="#dfdfdf"/><stop offset="0.9206" stop-color="#eaeaea"/><stop offset="1.0000" stop-color="#f2f2f2"/></linearGradient>
<filter id="nz" x="0" y="0" width="100%" height="100%" color-interpolation-filters="sRGB"><feTurbulence type="fractalNoise" baseFrequency="0.3 0.4" numOctaves="2" seed="3" result="t"/><feColorMatrix type="matrix" values="2.2 0 0 0 -0.6  2.2 0 0 0 -0.6  2.2 0 0 0 -0.6  0 0 0 0 1" /></filter></defs>
<rect x="328.5" y="282" width="158" height="157.5" fill="url(#gd)"/>
<rect x="328.5" y="282" width="158" height="129.5" filter="url(#nz)" opacity="0.22"/>
<path d="M329 411.6a2 1.6 0 0 1 4 0zM333.6 411.6a2 1.6 0 0 1 4 0zM338.2 411.6a2 1.6 0 0 1 4 0zM342.8 411.6a2 1.6 0 0 1 4 0zM347.4 411.6a2 1.6 0 0 1 4 0zM352 411.6a2 1.6 0 0 1 4 0zM356.6 411.6a2 1.6 0 0 1 4 0zM361.2 411.6a2 1.6 0 0 1 4 0zM365.8 411.6a2 1.6 0 0 1 4 0zM370.4 411.6a2 1.6 0 0 1 4 0zM375 411.6a2 1.6 0 0 1 4 0zM379.6 411.6a2 1.6 0 0 1 4 0zM384.2 411.6a2 1.6 0 0 1 4 0zM388.8 411.6a2 1.6 0 0 1 4 0zM393.4 411.6a2 1.6 0 0 1 4 0zM398 411.6a2 1.6 0 0 1 4 0zM402.6 411.6a2 1.6 0 0 1 4 0zM407.2 411.6a2 1.6 0 0 1 4 0zM411.8 411.6a2 1.6 0 0 1 4 0zM416.4 411.6a2 1.6 0 0 1 4 0zM421 411.6a2 1.6 0 0 1 4 0zM425.6 411.6a2 1.6 0 0 1 4 0zM430.2 411.6a2 1.6 0 0 1 4 0zM434.8 411.6a2 1.6 0 0 1 4 0zM439.4 411.6a2 1.6 0 0 1 4 0zM444 411.6a2 1.6 0 0 1 4 0zM448.6 411.6a2 1.6 0 0 1 4 0zM453.2 411.6a2 1.6 0 0 1 4 0zM457.8 411.6a2 1.6 0 0 1 4 0zM462.4 411.6a2 1.6 0 0 1 4 0zM467 411.6a2 1.6 0 0 1 4 0zM471.6 411.6a2 1.6 0 0 1 4 0zM476.2 411.6a2 1.6 0 0 1 4 0zM480.8 411.6a2 1.6 0 0 1 4 0z" fill="#3a3a3a" opacity="0.8"/>
<rect x="429" y="422.9" width="55.3" height="3.2" fill="#111"/>
<text x="457.3" y="438.6" text-anchor="middle" style="fill:#1a1a1a;stroke:#1a1a1a;stroke-width:0.18px" font-size="12.4">100 nm</text>
<text x="378.5" y="428.2" text-anchor="middle" style="fill:#1a1a1a;stroke:#1a1a1a;stroke-width:0.18px" font-size="12.2">Nb-ST(001)</text>
<text x="378.5" y="443" text-anchor="middle" style="fill:#1a1a1a;stroke:#1a1a1a;stroke-width:0.18px" font-size="12.2">substrate</text>
<rect x="488.6" y="281.3" width="29.4" height="141.9" fill="#fff"/>
<path d="M518.2 281.3L504.4 281.3L504.2 282.5L504.5 283.7L504.7 284.9L504.9 286.1L504.5 287.3L504.3 288.5L504.1 289.7L504.5 290.9L504.5 292.1L503.7 293.3L502.7 294.5L502 295.7L501.6 296.9L502.5 298.1L502.7 299.3L503.7 300.5L503.7 301.7L504.1 302.9L504.2 304.1L504.1 305.3L504.3 306.5L503.8 307.7L503.2 308.9L502.9 310.1L501.9 311.3L501.4 312.5L502.8 313.7L503.2 314.9L503.9 316.1L503.8 317.3L504.3 318.5L504.4 319.7L504.1 320.9L503.7 322.1L503.5 323.3L502.8 324.5L501.8 325.7L501.2 326.9L502.1 328.1L503.6 329.3L503.9 330.5L503.5 331.7L504.3 332.9L504.1 334.1L504.3 335.3L504.1 336.5L503.1 337.7L503.2 338.9L502.3 340.1L501.4 341.3L501.9 342.5L503.3 343.7L503.3 344.9L503.9 346.1L504 347.3L504.8 348.5L504.5 349.7L504.9 350.9L504.1 352.1L503.8 353.3L503.1 354.5L501.6 355.7L502.5 356.9L503.9 358.1L504.1 359.3L504.7 360.5L505 361.7L505.4 362.9L505.1 364.1L505.1 365.3L505 366.5L504.5 367.7L503.6 368.9L503 370.1L503.1 371.3L504.1 372.5L504.8 373.7L505.9 374.9L505.8 376.1L505.9 377.3L505.8 378.5L506.2 379.7L505.5 380.9L505.1 382.1L505 383.3L503.3 384.5L504.3 385.7L505.5 386.9L506 388.1L506.6 389.3L507.3 390.5L507 391.7L506.7 392.9L506.4 394.1L506.7 395.3L506.2 396.5L505.7 397.7L504.3 398.9L505.4 400.1L506.3 401.3L507 402.5L507.6 403.7L507.8 404.9L508.1 406.1L508.8 407.3L509.6 409.5L509.2 411.5L506 413L497 414.2L493.3 415.5L491.5 418L490.6 423.2L518.2 423.2z" fill="#0a0a0a"/>
<rect x="519" y="281.3" width="27.8" height="141.9" fill="#fff"/>
<path d="M546.8 281.3L525.4 281.3L525.8 282.5L524.8 283.7L525.8 284.9L525.3 286.1L525 287.3L525 288.5L524.9 289.7L525.2 290.9L525.4 292.1L525.3 293.3L525.2 294.5L524.3 295.7L524.2 296.9L525.3 298.1L525.3 299.3L525.8 300.5L525.6 301.7L524.9 302.9L525.6 304.1L525.4 305.3L525.3 306.5L524.9 307.7L525.1 308.9L524.9 310.1L525 311.3L524.8 312.5L525.4 313.7L524.9 314.9L525.3 316.1L525.4 317.3L525 318.5L524.9 319.7L525.5 320.9L525.3 322.1L525.1 323.3L525.1 324.5L524.6 325.7L524.7 326.9L524.7 328.1L525.1 329.3L525.4 330.5L525.1 331.7L525.5 332.9L524.9 334.1L525.1 335.3L524.8 336.5L525.1 337.7L525.1 338.9L524.8 340.1L524.5 341.3L525.2 342.5L525.4 343.7L524.8 344.9L525.5 346.1L524.7 347.3L525 348.5L525.2 349.7L525.2 350.9L524.8 352.1L524.8 353.3L524.9 354.5L524.5 355.7L524.6 356.9L525.2 358.1L525.4 359.3L525.2 360.5L525.2 361.7L525.2 362.9L525.1 364.1L525 365.3L524.8 366.5L525.2 367.7L524.9 368.9L524.6 370.1L524.9 371.3L525.1 372.5L525.5 373.7L525.1 374.9L525.1 376.1L525.3 377.3L525 378.5L525.6 379.7L525.4 380.9L525.3 382.1L524.9 383.3L524.9 384.5L525.1 385.7L525.1 386.9L525 388.1L524.7 389.3L525.5 390.5L525.1 391.7L525 392.9L525.5 394.1L525.2 395.3L524.6 396.5L524.8 397.7L524.5 398.9L525.1 400.1L524.4 401.3L525 402.5L525.1 403.7L525.7 404.9L524.9 406.1L524.4 407.3L524.9 408.5L525.4 409.7L525.5 410.9L525.8 412.1L525.4 413.3L525.1 414.5L525.6 415.7L525.3 416.9L525.2 418.1L525.3 419.3L525.7 420.5L525 421.7L525 422.9L546.8 423.2z" fill="#72bf2c"/>
<rect x="548" y="281.3" width="28" height="141.9" fill="#fff"/>
<path d="M576 281.3L553.7 281.3L553.8 282.5L553.8 283.7L554 284.9L554.9 286.1L553.6 287.3L554.6 288.5L554.7 289.7L554 290.9L553.8 292.1L554.1 293.3L554.1 294.5L554.1 295.7L553.1 296.9L554 298.1L553.5 299.3L553.6 300.5L553.4 301.7L553.7 302.9L554.1 304.1L554.2 305.3L553.6 306.5L554.3 307.7L553.7 308.9L553.2 310.1L552.7 311.3L553.9 312.5L553.6 313.7L553.5 314.9L553.6 316.1L554.8 317.3L553.9 318.5L554.7 319.7L554.7 320.9L553.1 322.1L554.4 323.3L553.6 324.5L552.8 325.7L552.5 326.9L553.6 328.1L553.8 329.3L554.1 330.5L553.8 331.7L554.7 332.9L554.8 334.1L554.9 335.3L554.5 336.5L554.7 337.7L554.5 338.9L553.6 340.1L553.1 341.3L553.5 342.5L553.9 343.7L554.2 344.9L553.4 346.1L554 347.3L554.4 348.5L553.3 349.7L553.5 350.9L554.6 352.1L553.3 353.3L553.2 354.5L553 355.7L553 356.9L553.2 358.1L553.6 359.3L553.8 360.5L553.9 361.7L554.3 362.9L554.8 364.1L554.2 365.3L554.6 366.5L554 367.7L553.7 368.9L553.1 370.1L553 371.3L553.8 372.5L554 373.7L553.6 374.9L554.4 376.1L554.4 377.3L554.3 378.5L553.9 379.7L552.9 380.9L554.3 382.1L553.4 383.3L552 384.5L553.4 385.7L553.3 386.9L554.1 388.1L554 389.3L554.6 390.5L554.3 391.7L554.3 392.9L554.1 394.1L554.4 395.3L553.2 396.5L553.8 397.7L553 398.9L553 400.1L553.6 401.3L553.7 402.5L554.1 403.7L554.5 404.9L553.9 406.1L554.5 407.3L554.6 408.5L554.5 409.7L554.9 410.9L554.3 412.1L554.6 413.3L555.3 414.5L554.3 415.7L554.2 416.9L554.3 418.1L554.5 419.3L554.1 420.5L554.2 421.7L553.6 422.9L576 423.2z" fill="#1f4fae"/>
<rect x="576.6" y="281.3" width="28" height="141.9" fill="#fff"/>
<path d="M604.6 281.3L580.1 281.3L580.1 282.5L580 283.7L579.4 284.9L580.1 286.1L579.5 287.3L580.2 288.5L580.1 289.7L580.2 290.9L580.1 292.1L580 293.3L579.7 294.5L579.7 295.7L580 296.9L579.6 298.1L579.8 299.3L579.7 300.5L579.8 301.7L579.9 302.9L580 304.1L579.9 305.3L579.9 306.5L579.8 307.7L579.9 308.9L579.5 310.1L579.7 311.3L580 312.5L579.6 313.7L579.9 314.9L580.6 316.1L579.7 317.3L579.6 318.5L579.9 319.7L580.4 320.9L580.4 322.1L579.6 323.3L580 324.5L579.7 325.7L579.5 326.9L579.3 328.1L580.1 329.3L579.7 330.5L580 331.7L580 332.9L580.4 334.1L580.3 335.3L579.7 336.5L579.8 337.7L580.1 338.9L579.4 340.1L579.5 341.3L579.8 342.5L579.4 343.7L579.6 344.9L579.5 346.1L580 347.3L579.8 348.5L580.2 349.7L580 350.9L580.1 352.1L579.8 353.3L580 354.5L579.6 355.7L579.5 356.9L580.1 358.1L580.1 359.3L580.5 360.5L579.9 361.7L579.8 362.9L579.6 364.1L579 365.3L579.6 366.5L580 367.7L579.6 368.9L579 370.1L579.9 371.3L579.7 372.5L579.8 373.7L579.8 374.9L579.9 376.1L580.1 377.3L579.5 378.5L579.9 379.7L579.8 380.9L580.1 382.1L579.5 383.3L580.1 384.5L579.9 385.7L580.2 386.9L579.7 388.1L580.1 389.3L580 390.5L579.6 391.7L579.9 392.9L579.8 394.1L579.7 395.3L579.7 396.5L579.4 397.7L579.5 398.9L579.8 400.1L579.6 401.3L579.5 402.5L580.2 403.7L579.9 404.9L580 406.1L579.9 407.3L579.9 408.5L580.1 409.7L579.9 410.9L580 412.1L579.6 413.3L579.6 414.5L579.9 415.7L580.5 416.9L580 418.1L580.5 419.3L580.1 420.5L580.1 421.7L579.9 422.9L604.6 423.2z" fill="#ec1c24"/>
<path d="M488.4 281.3H604.8" stroke="#444" stroke-width="0.8" fill="none"/>
<path d="M488.6 281.3V423.2" stroke="#888" stroke-width="0.7" fill="none"/>
<path d="M547.3 281.3V423.2" stroke="#2d4a17" stroke-width="0.9" fill="none"/>
<path d="M488.8 296H603.5M488.8 311H603.5M488.8 326H603.5M488.8 340.6H603.5M488.8 355.2H603.5M488.8 369.6H603.5M488.8 384H603.5M488.8 398.2H603.5" stroke="#111" stroke-width="0.9" stroke-dasharray="3.1 2.5" fill="none"/>
<text x="505" y="435.6" text-anchor="middle" font-size="12.5">BF</text>
<text x="535.6" y="435.6" text-anchor="middle" font-size="12.5">OK</text>
<text x="562.8" y="435.6" text-anchor="middle" font-size="12.5">TiK</text>
<text x="591.8" y="435.6" text-anchor="middle" font-size="12.5">SrL</text>
<text x="317.9" y="271.7" font-weight="bold" font-size="16.5">d</text>
</g>
<g id="pe">
<defs><radialGradient id="sp1"><stop offset="0" stop-color="#fff"/><stop offset="0.55" stop-color="#fff"/><stop offset="0.72" stop-color="#cfcfcf" stop-opacity="0.8"/><stop offset="1" stop-color="#555" stop-opacity="0"/></radialGradient><radialGradient id="glow"><stop offset="0" stop-color="#bbb" stop-opacity="0.6"/><stop offset="0.35" stop-color="#777" stop-opacity="0.35"/><stop offset="0.65" stop-color="#444" stop-opacity="0.15"/><stop offset="1" stop-color="#222" stop-opacity="0"/></radialGradient><radialGradient id="sat"><stop offset="0" stop-color="#bdbdbd"/><stop offset="0.5" stop-color="#777" stop-opacity="0.6"/><stop offset="1" stop-color="#222" stop-opacity="0"/></radialGradient><radialGradient id="ebg" gradientUnits="userSpaceOnUse" cx="157" cy="662" r="150"><stop offset="0" stop-color="#1d1d1d"/><stop offset="0.5" stop-color="#131313"/><stop offset="1" stop-color="#0b0b0b"/></radialGradient></defs>
<rect x="24.3" y="527" width="264.5" height="261" fill="url(#ebg)"/>
<ellipse cx="157.5" cy="664.5" rx="24" ry="32" fill="url(#glow)"/>
<ellipse cx="157.2" cy="655.2" rx="8.2" ry="10.6" fill="url(#sp1)"/>
<ellipse cx="157.8" cy="673.2" rx="9" ry="8.2" fill="url(#sp1)"/>
<circle cx="157.4" cy="686.8" r="4" fill="url(#sat)"/>
<circle cx="157" cy="699.6" r="3.6" fill="url(#sat)" opacity="0.4"/>
<path d="M218 572.5L170.9 636.2" stroke="#fff" stroke-width="1.6" fill="none"/>
<path d="M165.8 643L168.2 633L174.7 637.7z" fill="#fff"/>
<path d="M81.3 633.8L140.6 667.2" stroke="#fff" stroke-width="1.6" fill="none"/>
<path d="M148 671.4L137.8 670.2L141.7 663.3z" fill="#fff"/>
<path d="M97.5 729.5L142.4 695.3" stroke="#fff" stroke-width="1.6" fill="none"/>
<path d="M149.2 690.2L144.1 699.1L139.2 692.8z" fill="#fff"/>
<path d="M97.5 729.5L143 707.3" stroke="#fff" stroke-width="1.6" fill="none"/>
<path d="M150.6 703.6L143.8 711.4L140.3 704.2z" fill="#fff"/>
<path d="M258 755.5V693H255L262.4 685L270 693H266.2V755.5z" fill="#fff"/>
<text x="204.8" y="551" style="fill:#f2f2f2;stroke:#f2f2f2;stroke-width:0.18px" font-size="12.5">101 of SrTiO<tspan dy="3" font-size="8.8">3</tspan></text>
<text x="204.8" y="566.3" style="fill:#f2f2f2;stroke:#f2f2f2;stroke-width:0.18px" font-size="12.4">substrate</text>
<text x="32" y="626.5" style="fill:#f2f2f2;stroke:#f2f2f2;stroke-width:0.18px" font-size="12.45">101 of Sr-Ti-O</text>
<text x="32" y="641.8" style="fill:#f2f2f2;stroke:#f2f2f2;stroke-width:0.18px" font-size="12.3">thin film</text>
<text x="41.8" y="733.8" style="fill:#f2f2f2;stroke:#f2f2f2;stroke-width:0.18px" font-size="12.5">Satellites</text>
<text x="209.3" y="773.8" style="fill:#f2f2f2;stroke:#f2f2f2;stroke-width:0.18px" font-size="12.35">Out-of-plane</text>
<text x="1.3" y="526.2" font-weight="bold" font-size="16.8">e</text>
</g>
<g id="pf">
<path d="M360.5 741L360.8 735.5L362.5 733.5L366 728.8L369 726.8L373.5 723.8L377 721.8L381 717.5L384.5 711.5L387.3 705L390 697.5L392.8 693.8L395 695L397.3 698.8L401 706.3L404.8 710L408 708.5L411 705L413.5 697L416 685L419.8 655L422.3 625L424 600L425.5 596.3L428.5 595L429.3 605L430.3 620L432.3 640L434 648L436 651.3L438.5 648L441 640L443.5 600L446 550L447.3 527L474 527L475.5 545L478.3 563.8L480.5 548L484 527L520.3 527L524.5 560L527.8 600L531 640L534 665L539 690L544 706.3L550.3 713.8L554 712.2L557.8 711.3L559.3 715.5L561.5 720L565 722L569 723.8L574 725L576.5 723.5L579 726.3L583.3 724.8L583.6 741" fill="#050505"/>
<rect x="337.8" y="527" width="264.4" height="213.8" fill="none" stroke="#1c1c1c" stroke-width="1.9"/>
<path d="M391 572.5L435 581.6" stroke="#000" stroke-width="1.7" fill="none"/>
<path d="M444.8 583.6L433.3 585L434.8 577.8z" fill="#000"/>
<path d="M371 615L411.5 642" stroke="#000" stroke-width="1.7" fill="none"/>
<path d="M419.8 647.5L408.6 644.5L412.7 638.3z" fill="#000"/>
<path d="M371 615L388.4 680.3" stroke="#000" stroke-width="1.7" fill="none"/>
<path d="M391 690L384.6 680.3L391.7 678.4z" fill="#000"/>
<path d="M546.5 552.5L534.4 556.8" stroke="#000" stroke-width="1.7" fill="none"/>
<path d="M525 560.2L534.1 553L536.6 560z" fill="#000"/>
<path d="M523.5 752.4H586.8V748.8L593.9 755.6L586.8 762.4V758.8H523.5z" fill="#000"/>
<text x="344" y="568.8" font-size="12.45">101 of Sr-Ti-O</text>
<text x="344" y="583.8" font-size="12.3">thin film</text>
<text x="344.8" y="610.5" font-size="12.4">Satellites</text>
<text x="549" y="540.3" font-size="12.2">101 of</text>
<text x="548.6" y="556.5" font-size="12.5">SrTiO<tspan dy="3" font-size="8.8">3</tspan></text>
<text x="549" y="571.8" font-size="12.4">substrate</text>
<text x="525" y="776.3">Out-of-plane</text>
<text x="0" y="0" text-anchor="middle" transform="translate(328 635) rotate(-90) scale(1 0.92)" font-size="12.4">Intensity (arb. units)</text>
<text x="318.3" y="526" font-weight="bold" font-size="17">f</text>
</g>
</svg>
</body></html>
